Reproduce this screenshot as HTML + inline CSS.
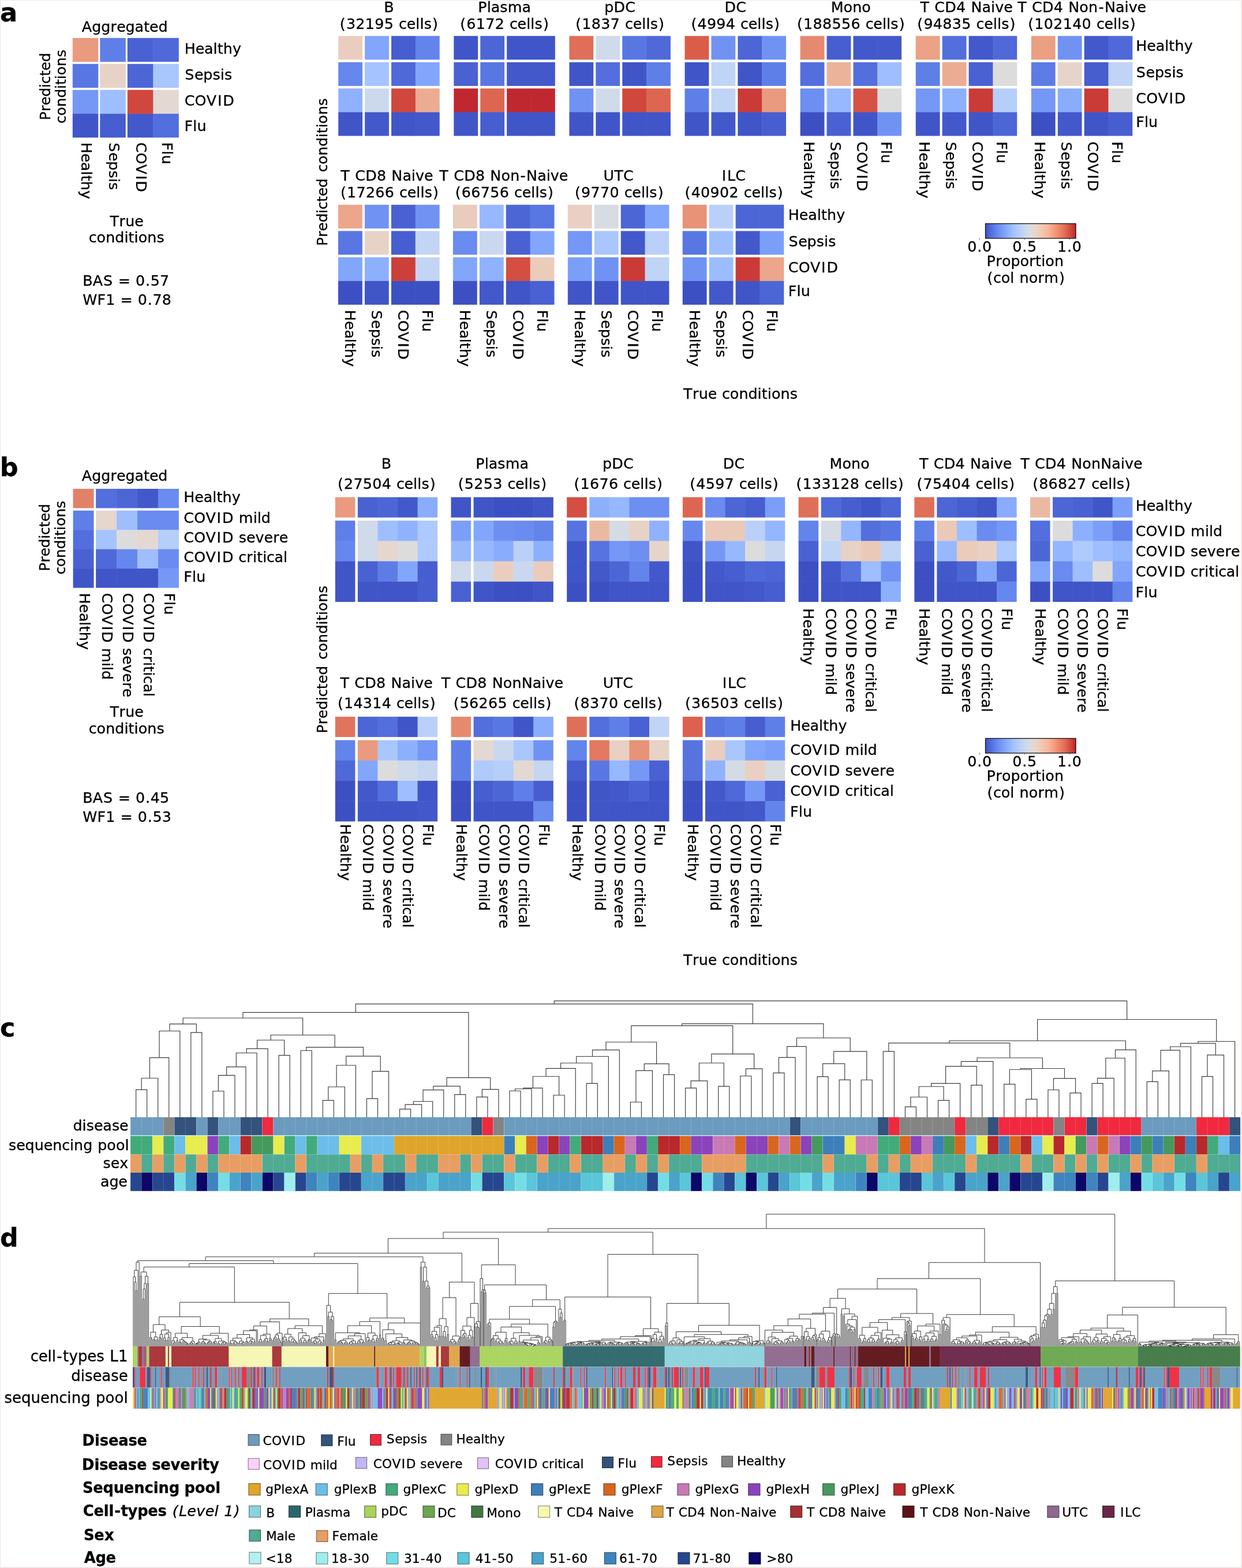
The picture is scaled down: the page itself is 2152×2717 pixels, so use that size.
<!DOCTYPE html>
<html lang="en">
<head>
<meta charset="utf-8">
<title>Figure: condition prediction confusion matrices and sample clustering</title>
<style>
html,body{margin:0;padding:0;background:#fff;}
body{width:2152px;height:2717px;overflow:hidden;}
svg{display:block;font-family:'DejaVu Sans', 'Liberation Sans', sans-serif;}
svg text{white-space:pre;stroke:#000;stroke-width:0.3px;}
</style>
</head>
<body>
<svg width="2152" height="2717" viewBox="0 0 2152 2717">
<defs><linearGradient id="cw" x1="0" x2="1" y1="0" y2="0"><stop offset="0" stop-color="#3e51c5"/><stop offset="0.06" stop-color="#516ddb"/><stop offset="0.12" stop-color="#6485ec"/><stop offset="0.19" stop-color="#799cf8"/><stop offset="0.25" stop-color="#8db0fe"/><stop offset="0.31" stop-color="#a3c2fe"/><stop offset="0.38" stop-color="#b7cff9"/><stop offset="0.44" stop-color="#cad8ef"/><stop offset="0.5" stop-color="#dbdcde"/><stop offset="0.56" stop-color="#ead5c9"/><stop offset="0.62" stop-color="#f3c8b2"/><stop offset="0.69" stop-color="#f7b79b"/><stop offset="0.75" stop-color="#f5a081"/><stop offset="0.81" stop-color="#ef886b"/><stop offset="0.88" stop-color="#e36c55"/><stop offset="0.94" stop-color="#d24b40"/><stop offset="1" stop-color="#be242e"/></linearGradient></defs>
<rect x="0" y="0" width="2152" height="2717" fill="#fff"/>
<text font-size="44.8" x="0.05" y="37.15" font-weight="bold">a</text>
<rect x="125.8" y="65.8" width="44.5" height="41.3" fill="#ea9a7e"/>
<rect x="173.3" y="65.8" width="44.5" height="41.3" fill="#5f7fe8"/>
<rect x="220.8" y="65.8" width="45.1" height="41.3" fill="#4961d2"/>
<rect x="265.3" y="65.8" width="44.5" height="41.3" fill="#4f69d9"/>
<rect x="125.8" y="110.8" width="44.5" height="41.3" fill="#5977e3"/>
<rect x="173.3" y="110.8" width="44.5" height="41.3" fill="#e7d2c6"/>
<rect x="220.8" y="110.8" width="45.1" height="41.3" fill="#4c66d6"/>
<rect x="265.3" y="110.8" width="44.5" height="41.3" fill="#a9c6fd"/>
<rect x="125.8" y="155.8" width="44.5" height="41.9" fill="#7597f6"/>
<rect x="173.3" y="155.8" width="44.5" height="41.9" fill="#9ebeff"/>
<rect x="220.8" y="155.8" width="45.1" height="41.9" fill="#d0473d"/>
<rect x="265.3" y="155.8" width="44.5" height="41.9" fill="#e3d9d2"/>
<rect x="125.8" y="197.1" width="44.5" height="41.3" fill="#4055c8"/>
<rect x="173.3" y="197.1" width="44.5" height="41.3" fill="#465ecf"/>
<rect x="220.8" y="197.1" width="45.1" height="41.3" fill="#4358cb"/>
<rect x="265.3" y="197.1" width="44.5" height="41.3" fill="#536edd"/>
<text font-size="25.31" x="141.83 159.25 175.26 191.58 202.14 217.56 233.57 249.15 259.04 274.46" y="54.7">Aggregated</text>
<text font-size="25.31" x="319.63 338.67 354.08 369.57 376.71 386.84 403.12" y="93.1">Healthy</text>
<text font-size="25.31" x="320.26 336.95 352.37 368.51 381.8 388.94" y="137.6">Sepsis</text>
<text font-size="25.31" x="319.63 337.59 357.8 376.92 386.22" y="182.9">COVID</text>
<text font-size="25.31" x="319.61 334.28 341.43" y="227.4">Flu</text>
<text transform="translate(141.05 246.5) rotate(90)" font-size="25.31" x="0.13 19.17 34.58 50.07 57.21 67.34 83.62" y="0">Healthy</text>
<text transform="translate(188.55 246.5) rotate(90)" font-size="25.31" x="0.76 17.45 32.87 49.01 62.3 69.44" y="0">Sepsis</text>
<text transform="translate(236.05 246.5) rotate(90)" font-size="25.31" x="0.13 18.09 38.3 57.42 66.72" y="0">COVID</text>
<text transform="translate(280.55 246.5) rotate(90)" font-size="25.31" x="0.11 14.78 21.93" y="0">Flu</text>
<text transform="translate(86.7 149.9) rotate(-90)" font-size="24.72" x="-58.33 -43.03 -32.72 -17.66 -1.99 4.62 18.06 27.72 42.78" y="0">Predicted</text>
<text transform="translate(114.4 149.9) rotate(-90)" font-size="24.72" x="-64.1 -50.71 -35.42 -19.67 -4 2.97 12.77 19.7 34.99 50.86" y="0">conditions</text>
<text font-size="25.31" x="190.49 206.42 217.22 233.25" y="392.4">True</text>
<text font-size="25.31" x="153.87 167.58 183.23 199.36 215.41 222.54 232.57 239.67 255.32 271.58" y="420.1">conditions</text>
<text font-size="25.31" x="143.13 160.76 178.96 196.29 204.74 226.36 235.02 251.9 260.72 277.07" y="494.9">BAS = 0.57</text>
<text font-size="25.31" x="143.19 168.53 183.31 200.04 208.49 230.11 238.78 255.65 264.48 280.82" y="528.1">WF1 = 0.78</text>
<rect x="586.2" y="62.3" width="41.83" height="41.1" fill="#eacdbf"/>
<rect x="632.13" y="62.3" width="41.83" height="41.1" fill="#82a6fb"/>
<rect x="678.05" y="62.3" width="42.43" height="41.1" fill="#465ecf"/>
<rect x="719.88" y="62.3" width="41.83" height="41.1" fill="#6384eb"/>
<rect x="586.2" y="107.8" width="41.83" height="41.1" fill="#6687ed"/>
<rect x="632.13" y="107.8" width="41.83" height="41.1" fill="#a5c3fe"/>
<rect x="678.05" y="107.8" width="42.43" height="41.1" fill="#4f69d9"/>
<rect x="719.88" y="107.8" width="41.83" height="41.1" fill="#82a6fb"/>
<rect x="586.2" y="153.3" width="41.83" height="41.7" fill="#90b2fe"/>
<rect x="632.13" y="153.3" width="41.83" height="41.7" fill="#ccd9ed"/>
<rect x="678.05" y="153.3" width="42.43" height="41.7" fill="#d0473d"/>
<rect x="719.88" y="153.3" width="41.83" height="41.7" fill="#ecac93"/>
<rect x="586.2" y="194.4" width="41.83" height="41.1" fill="#4055c8"/>
<rect x="632.13" y="194.4" width="41.83" height="41.1" fill="#4358cb"/>
<rect x="678.05" y="194.4" width="42.43" height="41.1" fill="#4055c8"/>
<rect x="719.88" y="194.4" width="41.83" height="41.1" fill="#4358cb"/>
<text font-size="25.31" x="665.27" y="20.6">B</text>
<text font-size="25.31" x="588.87 599.89 616.36 632.83 649.31 665.78 682.64 691.05 704.7 720.28 727.45 734.72 749.03" y="50.1">(32195 cells)</text>
<rect x="786.3" y="62.3" width="41.83" height="41.1" fill="#4055c8"/>
<rect x="832.23" y="62.3" width="41.83" height="41.1" fill="#4c66d6"/>
<rect x="878.15" y="62.3" width="42.43" height="41.1" fill="#4055c8"/>
<rect x="919.98" y="62.3" width="41.83" height="41.1" fill="#4055c8"/>
<rect x="786.3" y="107.8" width="41.83" height="41.1" fill="#4961d2"/>
<rect x="832.23" y="107.8" width="41.83" height="41.1" fill="#5977e3"/>
<rect x="878.15" y="107.8" width="42.43" height="41.1" fill="#4358cb"/>
<rect x="919.98" y="107.8" width="41.83" height="41.1" fill="#4358cb"/>
<rect x="786.3" y="153.3" width="41.83" height="41.7" fill="#c0282f"/>
<rect x="832.23" y="153.3" width="41.83" height="41.7" fill="#dd6651"/>
<rect x="878.15" y="153.3" width="42.43" height="41.7" fill="#c0282f"/>
<rect x="919.98" y="153.3" width="41.83" height="41.7" fill="#c0282f"/>
<rect x="786.3" y="194.4" width="41.83" height="41.1" fill="#4055c8"/>
<rect x="832.23" y="194.4" width="41.83" height="41.1" fill="#465ecf"/>
<rect x="878.15" y="194.4" width="42.43" height="41.1" fill="#4055c8"/>
<rect x="919.98" y="194.4" width="41.83" height="41.1" fill="#4055c8"/>
<text font-size="25.31" x="828.25 843.64 850.64 866.22 879.68 904.48" y="20.6">Plasma</text>
<text font-size="25.31" x="797.2 808.22 824.7 841.17 857.64 874.5 882.91 896.56 912.14 919.31 926.58 940.89" y="50.1">(6172 cells)</text>
<rect x="986.4" y="62.3" width="41.83" height="41.1" fill="#df6f58"/>
<rect x="1032.33" y="62.3" width="41.83" height="41.1" fill="#cfdaea"/>
<rect x="1078.25" y="62.3" width="42.43" height="41.1" fill="#5977e3"/>
<rect x="1120.08" y="62.3" width="41.83" height="41.1" fill="#4f69d9"/>
<rect x="986.4" y="107.8" width="41.83" height="41.1" fill="#4055c8"/>
<rect x="1032.33" y="107.8" width="41.83" height="41.1" fill="#536edd"/>
<rect x="1078.25" y="107.8" width="42.43" height="41.1" fill="#4055c8"/>
<rect x="1120.08" y="107.8" width="41.83" height="41.1" fill="#5f7fe8"/>
<rect x="986.4" y="153.3" width="41.83" height="41.7" fill="#7093f3"/>
<rect x="1032.33" y="153.3" width="41.83" height="41.7" fill="#cfdaea"/>
<rect x="1078.25" y="153.3" width="42.43" height="41.7" fill="#d0473d"/>
<rect x="1120.08" y="153.3" width="41.83" height="41.7" fill="#dd6651"/>
<rect x="986.4" y="194.4" width="41.83" height="41.1" fill="#4055c8"/>
<rect x="1032.33" y="194.4" width="41.83" height="41.1" fill="#4055c8"/>
<rect x="1078.25" y="194.4" width="42.43" height="41.1" fill="#4055c8"/>
<rect x="1120.08" y="194.4" width="41.83" height="41.1" fill="#4055c8"/>
<text font-size="25.31" x="1047.24 1063.44 1083.23" y="20.6">pDC</text>
<text font-size="25.31" x="997.3 1008.32 1024.8 1041.27 1057.74 1074.6 1083.01 1096.66 1112.24 1119.41 1126.68 1140.99" y="50.1">(1837 cells)</text>
<rect x="1186.5" y="62.3" width="41.83" height="41.1" fill="#da5d4a"/>
<rect x="1232.42" y="62.3" width="41.83" height="41.1" fill="#7093f3"/>
<rect x="1278.35" y="62.3" width="42.43" height="41.1" fill="#4c66d6"/>
<rect x="1320.17" y="62.3" width="41.83" height="41.1" fill="#7093f3"/>
<rect x="1186.5" y="107.8" width="41.83" height="41.1" fill="#4055c8"/>
<rect x="1232.42" y="107.8" width="41.83" height="41.1" fill="#c0d4f5"/>
<rect x="1278.35" y="107.8" width="42.43" height="41.1" fill="#4055c8"/>
<rect x="1320.17" y="107.8" width="41.83" height="41.1" fill="#5f7fe8"/>
<rect x="1186.5" y="153.3" width="41.83" height="41.7" fill="#5f7fe8"/>
<rect x="1232.42" y="153.3" width="41.83" height="41.7" fill="#c0d4f5"/>
<rect x="1278.35" y="153.3" width="42.43" height="41.7" fill="#ca3b37"/>
<rect x="1320.17" y="153.3" width="41.83" height="41.7" fill="#ea9a7e"/>
<rect x="1186.5" y="194.4" width="41.83" height="41.1" fill="#4055c8"/>
<rect x="1232.42" y="194.4" width="41.83" height="41.1" fill="#4358cb"/>
<rect x="1278.35" y="194.4" width="42.43" height="41.1" fill="#4055c8"/>
<rect x="1320.17" y="194.4" width="41.83" height="41.1" fill="#465ecf"/>
<text font-size="25.31" x="1255.53 1275.32" y="20.6">DC</text>
<text font-size="25.31" x="1197.4 1208.42 1224.9 1241.37 1257.84 1274.7 1283.11 1296.76 1312.34 1319.51 1326.78 1341.09" y="50.1">(4994 cells)</text>
<rect x="1386.6" y="62.3" width="41.83" height="41.1" fill="#e68a6f"/>
<rect x="1432.52" y="62.3" width="41.83" height="41.1" fill="#465ecf"/>
<rect x="1478.45" y="62.3" width="42.43" height="41.1" fill="#4358cb"/>
<rect x="1520.27" y="62.3" width="41.83" height="41.1" fill="#4358cb"/>
<rect x="1386.6" y="107.8" width="41.83" height="41.1" fill="#536edd"/>
<rect x="1432.52" y="107.8" width="41.83" height="41.1" fill="#ecb39b"/>
<rect x="1478.45" y="107.8" width="42.43" height="41.1" fill="#536edd"/>
<rect x="1520.27" y="107.8" width="41.83" height="41.1" fill="#9ebeff"/>
<rect x="1386.6" y="153.3" width="41.83" height="41.7" fill="#6c8ff1"/>
<rect x="1432.52" y="153.3" width="41.83" height="41.7" fill="#97b8ff"/>
<rect x="1478.45" y="153.3" width="42.43" height="41.7" fill="#d65244"/>
<rect x="1520.27" y="153.3" width="41.83" height="41.7" fill="#dddcdc"/>
<rect x="1386.6" y="194.4" width="41.83" height="41.1" fill="#3d50c3"/>
<rect x="1432.52" y="194.4" width="41.83" height="41.1" fill="#4961d2"/>
<rect x="1478.45" y="194.4" width="42.43" height="41.1" fill="#4055c8"/>
<rect x="1520.27" y="194.4" width="41.83" height="41.1" fill="#7093f3"/>
<text font-size="25.31" x="1439.7 1461.5 1477.16 1493.37" y="20.6">Mono</text>
<text font-size="25.31" x="1381.03 1392.05 1408.52 1425 1441.47 1457.94 1474.42 1491.27 1499.68 1513.34 1528.92 1536.09 1543.35 1557.67" y="50.1">(188556 cells)</text>
<text transform="translate(1393.11 245.1) rotate(90)" font-size="25.31" x="0.13 19.17 34.58 50.07 57.21 67.34 83.62" y="0">Healthy</text>
<text transform="translate(1439.04 245.1) rotate(90)" font-size="25.31" x="0.76 17.45 32.87 49.01 62.3 69.44" y="0">Sepsis</text>
<text transform="translate(1484.96 245.1) rotate(90)" font-size="25.31" x="0.13 18.09 38.3 57.42 66.72" y="0">COVID</text>
<text transform="translate(1526.79 245.1) rotate(90)" font-size="25.31" x="0.11 14.78 21.93" y="0">Flu</text>
<rect x="1586.7" y="62.3" width="41.83" height="41.1" fill="#eba286"/>
<rect x="1632.62" y="62.3" width="41.83" height="41.1" fill="#536edd"/>
<rect x="1678.55" y="62.3" width="42.43" height="41.1" fill="#4358cb"/>
<rect x="1720.38" y="62.3" width="41.83" height="41.1" fill="#4f69d9"/>
<rect x="1586.7" y="107.8" width="41.83" height="41.1" fill="#5f7fe8"/>
<rect x="1632.62" y="107.8" width="41.83" height="41.1" fill="#ecac93"/>
<rect x="1678.55" y="107.8" width="42.43" height="41.1" fill="#4961d2"/>
<rect x="1720.38" y="107.8" width="41.83" height="41.1" fill="#dddcdc"/>
<rect x="1586.7" y="153.3" width="41.83" height="41.7" fill="#7597f6"/>
<rect x="1632.62" y="153.3" width="41.83" height="41.7" fill="#8db0fe"/>
<rect x="1678.55" y="153.3" width="42.43" height="41.7" fill="#ca3b37"/>
<rect x="1720.38" y="153.3" width="41.83" height="41.7" fill="#b6cefa"/>
<rect x="1586.7" y="194.4" width="41.83" height="41.1" fill="#4055c8"/>
<rect x="1632.62" y="194.4" width="41.83" height="41.1" fill="#4358cb"/>
<rect x="1678.55" y="194.4" width="42.43" height="41.1" fill="#4055c8"/>
<rect x="1720.38" y="194.4" width="41.83" height="41.1" fill="#4c66d6"/>
<text font-size="25.31" x="1594.5 1610.65 1619.33 1637.29 1657.07 1673.79 1682.48 1701.53 1717.01 1724.17 1739.14" y="20.6">T CD4 Naive</text>
<text font-size="25.31" x="1589.37 1600.39 1616.86 1633.33 1649.81 1666.28 1683.14 1691.55 1705.2 1720.78 1727.95 1735.22 1749.53" y="50.1">(94835 cells)</text>
<text transform="translate(1593.21 245.1) rotate(90)" font-size="25.31" x="0.13 19.17 34.58 50.07 57.21 67.34 83.62" y="0">Healthy</text>
<text transform="translate(1639.14 245.1) rotate(90)" font-size="25.31" x="0.76 17.45 32.87 49.01 62.3 69.44" y="0">Sepsis</text>
<text transform="translate(1685.06 245.1) rotate(90)" font-size="25.31" x="0.13 18.09 38.3 57.42 66.72" y="0">COVID</text>
<text transform="translate(1726.89 245.1) rotate(90)" font-size="25.31" x="0.11 14.78 21.93" y="0">Flu</text>
<rect x="1786.8" y="62.3" width="41.83" height="41.1" fill="#eb9f83"/>
<rect x="1832.72" y="62.3" width="41.83" height="41.1" fill="#7093f3"/>
<rect x="1878.65" y="62.3" width="42.43" height="41.1" fill="#4358cb"/>
<rect x="1920.47" y="62.3" width="41.83" height="41.1" fill="#4f69d9"/>
<rect x="1786.8" y="107.8" width="41.83" height="41.1" fill="#5d7ce6"/>
<rect x="1832.72" y="107.8" width="41.83" height="41.1" fill="#e6d4cb"/>
<rect x="1878.65" y="107.8" width="42.43" height="41.1" fill="#465ecf"/>
<rect x="1920.47" y="107.8" width="41.83" height="41.1" fill="#c0d4f5"/>
<rect x="1786.8" y="153.3" width="41.83" height="41.7" fill="#7597f6"/>
<rect x="1832.72" y="153.3" width="41.83" height="41.7" fill="#89acfd"/>
<rect x="1878.65" y="153.3" width="42.43" height="41.7" fill="#ca3b37"/>
<rect x="1920.47" y="153.3" width="41.83" height="41.7" fill="#dddcdc"/>
<rect x="1786.8" y="194.4" width="41.83" height="41.1" fill="#3d50c3"/>
<rect x="1832.72" y="194.4" width="41.83" height="41.1" fill="#4358cb"/>
<rect x="1878.65" y="194.4" width="42.43" height="41.1" fill="#4055c8"/>
<rect x="1920.47" y="194.4" width="41.83" height="41.1" fill="#465ecf"/>
<text font-size="25.31" x="1763.22 1779.37 1788.05 1806.01 1825.79 1842.51 1851.2 1870.34 1886 1903.42 1913.96 1933.01 1948.49 1955.65 1970.62" y="20.6">T CD4 Non-Naive</text>
<text font-size="25.31" x="1781.23 1792.25 1808.72 1825.2 1841.67 1858.14 1874.62 1891.47 1899.88 1913.54 1929.12 1936.29 1943.55 1957.87" y="50.1">(102140 cells)</text>
<text transform="translate(1793.31 245.1) rotate(90)" font-size="25.31" x="0.13 19.17 34.58 50.07 57.21 67.34 83.62" y="0">Healthy</text>
<text transform="translate(1839.24 245.1) rotate(90)" font-size="25.31" x="0.76 17.45 32.87 49.01 62.3 69.44" y="0">Sepsis</text>
<text transform="translate(1885.16 245.1) rotate(90)" font-size="25.31" x="0.13 18.09 38.3 57.42 66.72" y="0">COVID</text>
<text transform="translate(1926.99 245.1) rotate(90)" font-size="25.31" x="0.11 14.78 21.93" y="0">Flu</text>
<text font-size="25.31" x="1968.23 1987.27 2002.68 2018.17 2025.31 2035.44 2051.72" y="88.05">Healthy</text>
<text font-size="25.31" x="1968.86 1985.55 2000.97 2017.11 2030.4 2037.54" y="133.55">Sepsis</text>
<text font-size="25.31" x="1968.23 1986.19 2006.4 2025.52 2034.82" y="179.05">COVID</text>
<text font-size="25.31" x="1968.21 1982.88 1990.03" y="220.15">Flu</text>
<rect x="586" y="354.8" width="41.85" height="41.1" fill="#eca68b"/>
<rect x="631.95" y="354.8" width="41.85" height="41.1" fill="#7093f3"/>
<rect x="677.9" y="354.8" width="42.45" height="41.1" fill="#4961d2"/>
<rect x="719.75" y="354.8" width="41.85" height="41.1" fill="#7093f3"/>
<rect x="586" y="400.3" width="41.85" height="41.1" fill="#5977e3"/>
<rect x="631.95" y="400.3" width="41.85" height="41.1" fill="#e7d2c6"/>
<rect x="677.9" y="400.3" width="42.45" height="41.1" fill="#465ecf"/>
<rect x="719.75" y="400.3" width="41.85" height="41.1" fill="#c3d5f4"/>
<rect x="586" y="445.8" width="41.85" height="41.7" fill="#82a6fb"/>
<rect x="631.95" y="445.8" width="41.85" height="41.7" fill="#8db0fe"/>
<rect x="677.9" y="445.8" width="42.45" height="41.7" fill="#cc403a"/>
<rect x="719.75" y="445.8" width="41.85" height="41.7" fill="#c3d5f4"/>
<rect x="586" y="486.9" width="41.85" height="41.1" fill="#3d50c3"/>
<rect x="631.95" y="486.9" width="41.85" height="41.1" fill="#4055c8"/>
<rect x="677.9" y="486.9" width="42.45" height="41.1" fill="#3d50c3"/>
<rect x="719.75" y="486.9" width="41.85" height="41.1" fill="#3d50c3"/>
<text font-size="25.31" x="590.35 606.5 615.18 633.14 652.92 669.64 678.33 697.38 712.86 720.02 734.99" y="312.6">T CD8 Naive</text>
<text font-size="25.31" x="589.92 600.94 617.41 633.88 650.36 666.83 683.69 692.1 705.75 721.33 728.5 735.77 750.08" y="342.4">(17266 cells)</text>
<text transform="translate(598.42 536.8) rotate(90)" font-size="25.31" x="0.13 19.17 34.58 50.07 57.21 67.34 83.62" y="0">Healthy</text>
<text transform="translate(644.38 536.8) rotate(90)" font-size="25.31" x="0.76 17.45 32.87 49.01 62.3 69.44" y="0">Sepsis</text>
<text transform="translate(690.33 536.8) rotate(90)" font-size="25.31" x="0.13 18.09 38.3 57.42 66.72" y="0">COVID</text>
<text transform="translate(732.18 536.8) rotate(90)" font-size="25.31" x="0.11 14.78 21.93" y="0">Flu</text>
<rect x="784.9" y="354.8" width="41.85" height="41.1" fill="#e9ccbd"/>
<rect x="830.85" y="354.8" width="41.85" height="41.1" fill="#97b8ff"/>
<rect x="876.8" y="354.8" width="42.45" height="41.1" fill="#4c66d6"/>
<rect x="918.65" y="354.8" width="41.85" height="41.1" fill="#5977e3"/>
<rect x="784.9" y="400.3" width="41.85" height="41.1" fill="#6a8bef"/>
<rect x="830.85" y="400.3" width="41.85" height="41.1" fill="#cad8ef"/>
<rect x="876.8" y="400.3" width="42.45" height="41.1" fill="#4961d2"/>
<rect x="918.65" y="400.3" width="41.85" height="41.1" fill="#82a6fb"/>
<rect x="784.9" y="445.8" width="41.85" height="41.7" fill="#82a6fb"/>
<rect x="830.85" y="445.8" width="41.85" height="41.7" fill="#90b2fe"/>
<rect x="876.8" y="445.8" width="42.45" height="41.7" fill="#d44e41"/>
<rect x="918.65" y="445.8" width="41.85" height="41.7" fill="#ebcbba"/>
<rect x="784.9" y="486.9" width="41.85" height="41.1" fill="#3d50c3"/>
<rect x="830.85" y="486.9" width="41.85" height="41.1" fill="#4358cb"/>
<rect x="876.8" y="486.9" width="42.45" height="41.1" fill="#4055c8"/>
<rect x="918.65" y="486.9" width="41.85" height="41.1" fill="#4961d2"/>
<text font-size="25.31" x="761.37 777.52 786.2 804.16 823.94 840.66 849.35 868.49 884.15 901.57 912.11 931.16 946.64 953.8 968.77" y="312.6">T CD8 Non-Naive</text>
<text font-size="25.31" x="788.82 799.84 816.31 832.78 849.26 865.73 882.59 891 904.65 920.23 927.4 934.67 948.98" y="342.4">(66756 cells)</text>
<text transform="translate(797.33 536.8) rotate(90)" font-size="25.31" x="0.13 19.17 34.58 50.07 57.21 67.34 83.62" y="0">Healthy</text>
<text transform="translate(843.28 536.8) rotate(90)" font-size="25.31" x="0.76 17.45 32.87 49.01 62.3 69.44" y="0">Sepsis</text>
<text transform="translate(889.23 536.8) rotate(90)" font-size="25.31" x="0.13 18.09 38.3 57.42 66.72" y="0">COVID</text>
<text transform="translate(931.08 536.8) rotate(90)" font-size="25.31" x="0.11 14.78 21.93" y="0">Flu</text>
<rect x="983.8" y="354.8" width="41.85" height="41.1" fill="#e9d0c3"/>
<rect x="1029.75" y="354.8" width="41.85" height="41.1" fill="#d7dce3"/>
<rect x="1075.7" y="354.8" width="42.45" height="41.1" fill="#4c66d6"/>
<rect x="1117.55" y="354.8" width="41.85" height="41.1" fill="#82a6fb"/>
<rect x="983.8" y="400.3" width="41.85" height="41.1" fill="#7597f6"/>
<rect x="1029.75" y="400.3" width="41.85" height="41.1" fill="#a9c6fd"/>
<rect x="1075.7" y="400.3" width="42.45" height="41.1" fill="#4358cb"/>
<rect x="1117.55" y="400.3" width="41.85" height="41.1" fill="#bad0f8"/>
<rect x="983.8" y="445.8" width="41.85" height="41.7" fill="#7b9ff9"/>
<rect x="1029.75" y="445.8" width="41.85" height="41.7" fill="#7093f3"/>
<rect x="1075.7" y="445.8" width="42.45" height="41.7" fill="#ca3b37"/>
<rect x="1117.55" y="445.8" width="41.85" height="41.7" fill="#c0d4f5"/>
<rect x="983.8" y="486.9" width="41.85" height="41.1" fill="#4055c8"/>
<rect x="1029.75" y="486.9" width="41.85" height="41.1" fill="#4055c8"/>
<rect x="1075.7" y="486.9" width="42.45" height="41.1" fill="#4055c8"/>
<rect x="1117.55" y="486.9" width="41.85" height="41.1" fill="#4055c8"/>
<text font-size="25.31" x="1045.45 1064.31 1080.08" y="312.6">UTC</text>
<text font-size="25.31" x="995.95 1006.97 1023.45 1039.92 1056.39 1073.25 1081.66 1095.31 1110.89 1118.06 1125.33 1139.64" y="342.4">(9770 cells)</text>
<text transform="translate(996.22 536.8) rotate(90)" font-size="25.31" x="0.13 19.17 34.58 50.07 57.21 67.34 83.62" y="0">Healthy</text>
<text transform="translate(1042.17 536.8) rotate(90)" font-size="25.31" x="0.76 17.45 32.87 49.01 62.3 69.44" y="0">Sepsis</text>
<text transform="translate(1088.12 536.8) rotate(90)" font-size="25.31" x="0.13 18.09 38.3 57.42 66.72" y="0">COVID</text>
<text transform="translate(1129.97 536.8) rotate(90)" font-size="25.31" x="0.11 14.78 21.93" y="0">Flu</text>
<rect x="1182.7" y="354.8" width="41.85" height="41.1" fill="#e89277"/>
<rect x="1228.65" y="354.8" width="41.85" height="41.1" fill="#bad0f8"/>
<rect x="1274.6" y="354.8" width="42.45" height="41.1" fill="#4c66d6"/>
<rect x="1316.45" y="354.8" width="41.85" height="41.1" fill="#4c66d6"/>
<rect x="1182.7" y="400.3" width="41.85" height="41.1" fill="#5977e3"/>
<rect x="1228.65" y="400.3" width="41.85" height="41.1" fill="#9ebeff"/>
<rect x="1274.6" y="400.3" width="42.45" height="41.1" fill="#4358cb"/>
<rect x="1316.45" y="400.3" width="41.85" height="41.1" fill="#7b9ff9"/>
<rect x="1182.7" y="445.8" width="41.85" height="41.7" fill="#7093f3"/>
<rect x="1228.65" y="445.8" width="41.85" height="41.7" fill="#9bbcff"/>
<rect x="1274.6" y="445.8" width="42.45" height="41.7" fill="#ca3b37"/>
<rect x="1316.45" y="445.8" width="41.85" height="41.7" fill="#eca68b"/>
<rect x="1182.7" y="486.9" width="41.85" height="41.1" fill="#3d50c3"/>
<rect x="1228.65" y="486.9" width="41.85" height="41.1" fill="#4358cb"/>
<rect x="1274.6" y="486.9" width="42.45" height="41.1" fill="#4055c8"/>
<rect x="1316.45" y="486.9" width="41.85" height="41.1" fill="#4c66d6"/>
<text font-size="25.31" x="1250.64 1259.89 1274.23" y="312.6">ILC</text>
<text font-size="25.31" x="1186.62 1197.64 1214.11 1230.58 1247.06 1263.53 1280.39 1288.8 1302.45 1318.03 1325.2 1332.47 1346.78" y="342.4">(40902 cells)</text>
<text transform="translate(1195.12 536.8) rotate(90)" font-size="25.31" x="0.13 19.17 34.58 50.07 57.21 67.34 83.62" y="0">Healthy</text>
<text transform="translate(1241.07 536.8) rotate(90)" font-size="25.31" x="0.76 17.45 32.87 49.01 62.3 69.44" y="0">Sepsis</text>
<text transform="translate(1287.02 536.8) rotate(90)" font-size="25.31" x="0.13 18.09 38.3 57.42 66.72" y="0">COVID</text>
<text transform="translate(1328.87 536.8) rotate(90)" font-size="25.31" x="0.11 14.78 21.93" y="0">Flu</text>
<text font-size="25.31" x="1365.83 1384.87 1400.28 1415.77 1422.91 1433.04 1449.32" y="381.05">Healthy</text>
<text font-size="25.31" x="1366.46 1383.15 1398.57 1414.71 1428 1435.14" y="426.55">Sepsis</text>
<text font-size="25.31" x="1365.83 1383.79 1404 1423.12 1432.42" y="472.05">COVID</text>
<text font-size="25.31" x="1365.81 1380.48 1387.63" y="513.15">Flu</text>
<text transform="translate(567.1 298.2) rotate(-90)" font-size="24.72" x="-127.85 -112.55 -102.23 -87.18 -71.51 -64.89 -51.46 -41.79 -26.73 -10.58 0.02 13.41 28.7 44.45 60.12 67.09 76.89 83.81 99.1 114.98" y="0">Predicted conditions</text>
<text font-size="25.31" x="1184.1 1200.03 1210.83 1226.86 1242.8 1251.09 1264.8 1280.45 1296.58 1312.62 1319.76 1329.79 1336.88 1352.54 1368.8" y="691">True conditions</text>
<rect x="1707.5" y="387.5" width="156.5" height="25.5" fill="url(#cw)" stroke="#111" stroke-width="1.3"/>
<text font-size="25.31" x="1676.3 1693.18 1702" y="436">0.0</text>
<text font-size="25.31" x="1754.3 1771.18 1780" y="436">0.5</text>
<text font-size="25.31" x="1832.1 1848.98 1857.8" y="436">1.0</text>
<path d="M1697.2 412.3V415.6M1775.2 413.2V415.6M1853.2 413.2V415.6" stroke="#444" stroke-width="0.9" fill="none"/>
<text font-size="25.31" x="1709.47 1725.13 1735.88 1751.4 1767.49 1783.32 1794.11 1804.14 1811.23 1826.89" y="461">Proportion</text>
<text font-size="25.31" x="1710.47 1720.97 1734.68 1750.23 1757.77 1766.43 1782.64 1798.47 1809.33 1835.06" y="490.3">(col norm)</text>
<text font-size="44.5" x="-0.17" y="824.6" font-weight="bold">b</text>
<rect x="126.6" y="847" width="35.94" height="33.48" fill="#e38168"/>
<rect x="166.14" y="847" width="36.54" height="33.48" fill="#536edd"/>
<rect x="202.08" y="847" width="36.54" height="33.48" fill="#4c66d6"/>
<rect x="238.02" y="847" width="36.54" height="33.48" fill="#4358cb"/>
<rect x="273.96" y="847" width="35.94" height="33.48" fill="#6a8bef"/>
<rect x="126.6" y="884.68" width="35.94" height="34.08" fill="#5f7fe8"/>
<rect x="166.14" y="884.68" width="36.54" height="34.08" fill="#e5d6ce"/>
<rect x="202.08" y="884.68" width="36.54" height="34.08" fill="#9ebeff"/>
<rect x="238.02" y="884.68" width="36.54" height="34.08" fill="#6a8bef"/>
<rect x="273.96" y="884.68" width="35.94" height="34.08" fill="#6a8bef"/>
<rect x="126.6" y="918.16" width="35.94" height="34.08" fill="#536edd"/>
<rect x="166.14" y="918.16" width="36.54" height="34.08" fill="#a5c3fe"/>
<rect x="202.08" y="918.16" width="36.54" height="34.08" fill="#dddcdc"/>
<rect x="238.02" y="918.16" width="36.54" height="34.08" fill="#e3d9d2"/>
<rect x="273.96" y="918.16" width="35.94" height="34.08" fill="#b6cefa"/>
<rect x="126.6" y="951.64" width="35.94" height="34.08" fill="#4961d2"/>
<rect x="166.14" y="951.64" width="36.54" height="34.08" fill="#4f69d9"/>
<rect x="202.08" y="951.64" width="36.54" height="34.08" fill="#6687ed"/>
<rect x="238.02" y="951.64" width="36.54" height="34.08" fill="#9ebeff"/>
<rect x="273.96" y="951.64" width="35.94" height="34.08" fill="#6a8bef"/>
<rect x="126.6" y="985.12" width="35.94" height="33.48" fill="#4055c8"/>
<rect x="166.14" y="985.12" width="36.54" height="33.48" fill="#4055c8"/>
<rect x="202.08" y="985.12" width="36.54" height="33.48" fill="#4055c8"/>
<rect x="238.02" y="985.12" width="36.54" height="33.48" fill="#4055c8"/>
<rect x="273.96" y="985.12" width="35.94" height="33.48" fill="#7597f6"/>
<text font-size="25.31" x="141.73 159.15 175.16 191.48 202.04 217.46 233.47 249.05 258.94 274.36" y="832.5">Aggregated</text>
<text font-size="25.31" x="318.33 337.37 352.78 368.27 375.41 385.54 401.82" y="870">Healthy</text>
<text font-size="25.31" x="318.33 336.29 356.5 375.62 384.92 405.08 413.8 438.63 445.68 452.68" y="906">COVID mild</text>
<text font-size="25.31" x="318.33 336.29 356.5 375.62 384.92 405.08 413.72 426.89 442.45 457.42 473.15 483.71" y="939.8">COVID severe</text>
<text font-size="25.31" x="318.33 336.29 356.5 375.62 384.92 405.08 413.36 427.3 437.99 445.13 455.16 461.93 475.55 491.04" y="974.1">COVID critical</text>
<text font-size="25.31" x="318.31 332.98 340.13" y="1007.6">Flu</text>
<text transform="translate(137.87 1027.3) rotate(90)" font-size="25.31" x="0.13 19.17 34.58 50.07 57.21 67.34 83.62" y="0">Healthy</text>
<text transform="translate(177.41 1027.3) rotate(90)" font-size="25.31" x="0.13 18.09 38.3 57.42 66.72 86.88 95.6 120.43 127.48 134.48" y="0">COVID mild</text>
<text transform="translate(213.35 1027.3) rotate(90)" font-size="25.31" x="0.13 18.09 38.3 57.42 66.72 86.88 95.52 108.69 124.25 139.22 154.95 165.51" y="0">COVID severe</text>
<text transform="translate(249.29 1027.3) rotate(90)" font-size="25.31" x="0.13 18.09 38.3 57.42 66.72 86.88 95.16 109.1 119.79 126.93 136.96 143.73 157.35 172.84" y="0">COVID critical</text>
<text transform="translate(285.23 1027.3) rotate(90)" font-size="25.31" x="0.11 14.78 21.93" y="0">Flu</text>
<text transform="translate(86 931.5) rotate(-90)" font-size="24.72" x="-58.33 -43.03 -32.72 -17.66 -1.99 4.62 18.06 27.72 42.78" y="0">Predicted</text>
<text transform="translate(113 931.5) rotate(-90)" font-size="24.72" x="-64.1 -50.71 -35.42 -19.67 -4 2.97 12.77 19.7 34.99 50.86" y="0">conditions</text>
<text font-size="25.31" x="190.49 206.42 217.22 233.25" y="1242.1">True</text>
<text font-size="25.31" x="153.87 167.58 183.23 199.36 215.41 222.54 232.57 239.67 255.32 271.58" y="1270.9">conditions</text>
<text font-size="25.31" x="143.13 160.76 178.96 196.29 204.74 226.36 235.02 251.9 260.72 277.07" y="1390.9">BAS = 0.45</text>
<text font-size="25.31" x="143.19 168.53 183.31 200.04 208.49 230.11 238.78 255.65 264.48 280.82" y="1423.6">WF1 = 0.53</text>
<rect x="580.8" y="861.5" width="34.56" height="35.22" fill="#ea9a7e"/>
<rect x="619.86" y="861.5" width="35.16" height="35.22" fill="#4961d2"/>
<rect x="654.42" y="861.5" width="35.16" height="35.22" fill="#4c66d6"/>
<rect x="688.98" y="861.5" width="35.16" height="35.22" fill="#4358cb"/>
<rect x="723.54" y="861.5" width="34.56" height="35.22" fill="#89acfd"/>
<rect x="580.8" y="902.12" width="34.56" height="35.82" fill="#5f7fe8"/>
<rect x="619.86" y="902.12" width="35.16" height="35.82" fill="#cfdaea"/>
<rect x="654.42" y="902.12" width="35.16" height="35.82" fill="#9ebeff"/>
<rect x="688.98" y="902.12" width="35.16" height="35.82" fill="#90b2fe"/>
<rect x="723.54" y="902.12" width="34.56" height="35.82" fill="#adc9fd"/>
<rect x="580.8" y="937.34" width="34.56" height="35.82" fill="#6687ed"/>
<rect x="619.86" y="937.34" width="35.16" height="35.82" fill="#cfdaea"/>
<rect x="654.42" y="937.34" width="35.16" height="35.82" fill="#e5d6ce"/>
<rect x="688.98" y="937.34" width="35.16" height="35.82" fill="#dddcdc"/>
<rect x="723.54" y="937.34" width="34.56" height="35.82" fill="#afcafc"/>
<rect x="580.8" y="972.56" width="34.56" height="35.82" fill="#4055c8"/>
<rect x="619.86" y="972.56" width="35.16" height="35.82" fill="#4961d2"/>
<rect x="654.42" y="972.56" width="35.16" height="35.82" fill="#5d7ce6"/>
<rect x="688.98" y="972.56" width="35.16" height="35.82" fill="#82a6fb"/>
<rect x="723.54" y="972.56" width="34.56" height="35.82" fill="#465ecf"/>
<rect x="580.8" y="1007.78" width="34.56" height="35.22" fill="#4055c8"/>
<rect x="619.86" y="1007.78" width="35.16" height="35.22" fill="#4055c8"/>
<rect x="654.42" y="1007.78" width="35.16" height="35.22" fill="#4055c8"/>
<rect x="688.98" y="1007.78" width="35.16" height="35.22" fill="#4055c8"/>
<rect x="723.54" y="1007.78" width="34.56" height="35.22" fill="#465ecf"/>
<text font-size="25.31" x="660.77" y="812">B</text>
<text font-size="25.31" x="584.93 595.93 612.38 628.82 645.27 661.72 678.55 686.93 700.56 716.11 723.26 730.5 744.79" y="847">(27504 cells)</text>
<rect x="781.5" y="861.5" width="34.56" height="35.22" fill="#4055c8"/>
<rect x="820.56" y="861.5" width="35.16" height="35.22" fill="#4055c8"/>
<rect x="855.12" y="861.5" width="35.16" height="35.22" fill="#3d50c3"/>
<rect x="889.68" y="861.5" width="35.16" height="35.22" fill="#3d50c3"/>
<rect x="924.24" y="861.5" width="34.56" height="35.22" fill="#4055c8"/>
<rect x="781.5" y="902.12" width="34.56" height="35.82" fill="#7b9ff9"/>
<rect x="820.56" y="902.12" width="35.16" height="35.82" fill="#82a6fb"/>
<rect x="855.12" y="902.12" width="35.16" height="35.82" fill="#6c8ff1"/>
<rect x="889.68" y="902.12" width="35.16" height="35.82" fill="#6a8bef"/>
<rect x="924.24" y="902.12" width="34.56" height="35.82" fill="#6384eb"/>
<rect x="781.5" y="937.34" width="34.56" height="35.82" fill="#97b8ff"/>
<rect x="820.56" y="937.34" width="35.16" height="35.82" fill="#97b8ff"/>
<rect x="855.12" y="937.34" width="35.16" height="35.82" fill="#89acfd"/>
<rect x="889.68" y="937.34" width="35.16" height="35.82" fill="#bad0f8"/>
<rect x="924.24" y="937.34" width="34.56" height="35.82" fill="#8db0fe"/>
<rect x="781.5" y="972.56" width="34.56" height="35.82" fill="#cfdaea"/>
<rect x="820.56" y="972.56" width="35.16" height="35.82" fill="#cad8ef"/>
<rect x="855.12" y="972.56" width="35.16" height="35.82" fill="#eacdbf"/>
<rect x="889.68" y="972.56" width="35.16" height="35.82" fill="#cad8ef"/>
<rect x="924.24" y="972.56" width="34.56" height="35.82" fill="#ebcbba"/>
<rect x="781.5" y="1007.78" width="34.56" height="35.22" fill="#4961d2"/>
<rect x="820.56" y="1007.78" width="35.16" height="35.22" fill="#4055c8"/>
<rect x="855.12" y="1007.78" width="35.16" height="35.22" fill="#3d50c3"/>
<rect x="889.68" y="1007.78" width="35.16" height="35.22" fill="#3d50c3"/>
<rect x="924.24" y="1007.78" width="34.56" height="35.22" fill="#4055c8"/>
<text font-size="25.31" x="824.35 839.74 846.74 862.32 875.78 900.58" y="812">Plasma</text>
<text font-size="25.31" x="793.86 804.85 821.3 837.75 854.2 871.02 879.41 893.04 908.59 915.73 922.98 937.26" y="847">(5253 cells)</text>
<rect x="982.2" y="861.5" width="34.56" height="35.22" fill="#d44e41"/>
<rect x="1021.26" y="861.5" width="35.16" height="35.22" fill="#8db0fe"/>
<rect x="1055.82" y="861.5" width="35.16" height="35.22" fill="#97b8ff"/>
<rect x="1090.38" y="861.5" width="35.16" height="35.22" fill="#6c8ff1"/>
<rect x="1124.94" y="861.5" width="34.56" height="35.22" fill="#6c8ff1"/>
<rect x="982.2" y="902.12" width="34.56" height="35.82" fill="#5673e0"/>
<rect x="1021.26" y="902.12" width="35.16" height="35.82" fill="#ebb9a2"/>
<rect x="1055.82" y="902.12" width="35.16" height="35.82" fill="#d5dbe5"/>
<rect x="1090.38" y="902.12" width="35.16" height="35.82" fill="#e7d2c6"/>
<rect x="1124.94" y="902.12" width="34.56" height="35.82" fill="#90b2fe"/>
<rect x="982.2" y="937.34" width="34.56" height="35.82" fill="#4055c8"/>
<rect x="1021.26" y="937.34" width="35.16" height="35.82" fill="#5673e0"/>
<rect x="1055.82" y="937.34" width="35.16" height="35.82" fill="#7597f6"/>
<rect x="1090.38" y="937.34" width="35.16" height="35.82" fill="#6c8ff1"/>
<rect x="1124.94" y="937.34" width="34.56" height="35.82" fill="#e6d4cb"/>
<rect x="982.2" y="972.56" width="34.56" height="35.82" fill="#4055c8"/>
<rect x="1021.26" y="972.56" width="35.16" height="35.82" fill="#4358cb"/>
<rect x="1055.82" y="972.56" width="35.16" height="35.82" fill="#4c66d6"/>
<rect x="1090.38" y="972.56" width="35.16" height="35.82" fill="#6384eb"/>
<rect x="1124.94" y="972.56" width="34.56" height="35.82" fill="#4358cb"/>
<rect x="982.2" y="1007.78" width="34.56" height="35.22" fill="#3d50c3"/>
<rect x="1021.26" y="1007.78" width="35.16" height="35.22" fill="#3d50c3"/>
<rect x="1055.82" y="1007.78" width="35.16" height="35.22" fill="#4055c8"/>
<rect x="1090.38" y="1007.78" width="35.16" height="35.22" fill="#4055c8"/>
<rect x="1124.94" y="1007.78" width="34.56" height="35.22" fill="#4055c8"/>
<text font-size="25.31" x="1043.94 1060.14 1079.93" y="812">pDC</text>
<text font-size="25.31" x="994.56 1005.55 1022 1038.45 1054.9 1071.72 1080.11 1093.74 1109.29 1116.43 1123.68 1137.96" y="847">(1676 cells)</text>
<rect x="1182.9" y="861.5" width="34.56" height="35.22" fill="#dd6651"/>
<rect x="1221.96" y="861.5" width="35.16" height="35.22" fill="#6a8bef"/>
<rect x="1256.52" y="861.5" width="35.16" height="35.22" fill="#4c66d6"/>
<rect x="1291.08" y="861.5" width="35.16" height="35.22" fill="#465ecf"/>
<rect x="1325.64" y="861.5" width="34.56" height="35.22" fill="#7b9ff9"/>
<rect x="1182.9" y="902.12" width="34.56" height="35.82" fill="#6687ed"/>
<rect x="1221.96" y="902.12" width="35.16" height="35.82" fill="#eac9b8"/>
<rect x="1256.52" y="902.12" width="35.16" height="35.82" fill="#eac9b8"/>
<rect x="1291.08" y="902.12" width="35.16" height="35.82" fill="#bad0f8"/>
<rect x="1325.64" y="902.12" width="34.56" height="35.82" fill="#94b6ff"/>
<rect x="1182.9" y="937.34" width="34.56" height="35.82" fill="#4055c8"/>
<rect x="1221.96" y="937.34" width="35.16" height="35.82" fill="#7597f6"/>
<rect x="1256.52" y="937.34" width="35.16" height="35.82" fill="#97b8ff"/>
<rect x="1291.08" y="937.34" width="35.16" height="35.82" fill="#dddcdc"/>
<rect x="1325.64" y="937.34" width="34.56" height="35.82" fill="#c6d6f1"/>
<rect x="1182.9" y="972.56" width="34.56" height="35.82" fill="#3d50c3"/>
<rect x="1221.96" y="972.56" width="35.16" height="35.82" fill="#4358cb"/>
<rect x="1256.52" y="972.56" width="35.16" height="35.82" fill="#465ecf"/>
<rect x="1291.08" y="972.56" width="35.16" height="35.82" fill="#4f69d9"/>
<rect x="1325.64" y="972.56" width="34.56" height="35.82" fill="#4c66d6"/>
<rect x="1182.9" y="1007.78" width="34.56" height="35.22" fill="#3d50c3"/>
<rect x="1221.96" y="1007.78" width="35.16" height="35.22" fill="#4055c8"/>
<rect x="1256.52" y="1007.78" width="35.16" height="35.22" fill="#4055c8"/>
<rect x="1291.08" y="1007.78" width="35.16" height="35.22" fill="#4358cb"/>
<rect x="1325.64" y="1007.78" width="34.56" height="35.22" fill="#465ecf"/>
<text font-size="25.31" x="1252.83 1272.62" y="812">DC</text>
<text font-size="25.31" x="1195.26 1206.25 1222.7 1239.15 1255.6 1272.42 1280.81 1294.44 1309.99 1317.13 1324.38 1338.66" y="847">(4597 cells)</text>
<rect x="1383.6" y="861.5" width="34.56" height="35.22" fill="#df6f58"/>
<rect x="1422.66" y="861.5" width="35.16" height="35.22" fill="#4f69d9"/>
<rect x="1457.22" y="861.5" width="35.16" height="35.22" fill="#465ecf"/>
<rect x="1491.78" y="861.5" width="35.16" height="35.22" fill="#4055c8"/>
<rect x="1526.34" y="861.5" width="34.56" height="35.22" fill="#4c66d6"/>
<rect x="1383.6" y="902.12" width="34.56" height="35.82" fill="#6384eb"/>
<rect x="1422.66" y="902.12" width="35.16" height="35.82" fill="#d5dbe5"/>
<rect x="1457.22" y="902.12" width="35.16" height="35.82" fill="#94b6ff"/>
<rect x="1491.78" y="902.12" width="35.16" height="35.82" fill="#536edd"/>
<rect x="1526.34" y="902.12" width="34.56" height="35.82" fill="#5977e3"/>
<rect x="1383.6" y="937.34" width="34.56" height="35.82" fill="#4961d2"/>
<rect x="1422.66" y="937.34" width="35.16" height="35.82" fill="#c0d4f5"/>
<rect x="1457.22" y="937.34" width="35.16" height="35.82" fill="#e8d1c5"/>
<rect x="1491.78" y="937.34" width="35.16" height="35.82" fill="#eac9b8"/>
<rect x="1526.34" y="937.34" width="34.56" height="35.82" fill="#c0d4f5"/>
<rect x="1383.6" y="972.56" width="34.56" height="35.82" fill="#3d50c3"/>
<rect x="1422.66" y="972.56" width="35.16" height="35.82" fill="#4358cb"/>
<rect x="1457.22" y="972.56" width="35.16" height="35.82" fill="#5673e0"/>
<rect x="1491.78" y="972.56" width="35.16" height="35.82" fill="#9ebeff"/>
<rect x="1526.34" y="972.56" width="34.56" height="35.82" fill="#7093f3"/>
<rect x="1383.6" y="1007.78" width="34.56" height="35.22" fill="#3d50c3"/>
<rect x="1422.66" y="1007.78" width="35.16" height="35.22" fill="#4055c8"/>
<rect x="1457.22" y="1007.78" width="35.16" height="35.22" fill="#4055c8"/>
<rect x="1491.78" y="1007.78" width="35.16" height="35.22" fill="#4055c8"/>
<rect x="1526.34" y="1007.78" width="34.56" height="35.22" fill="#8db0fe"/>
<text font-size="25.31" x="1437.6 1459.4 1475.06 1491.27" y="812">Mono</text>
<text font-size="25.31" x="1379.51 1390.5 1406.95 1423.4 1439.85 1456.3 1472.74 1489.57 1497.96 1511.59 1527.14 1534.28 1541.52 1555.81" y="847">(133128 cells)</text>
<text transform="translate(1392.28 1053.8) rotate(90)" font-size="25.31" x="0.13 19.17 34.58 50.07 57.21 67.34 83.62" y="0">Healthy</text>
<text transform="translate(1431.34 1053.8) rotate(90)" font-size="25.31" x="0.13 18.09 38.3 57.42 66.72 86.88 95.6 120.43 127.48 134.48" y="0">COVID mild</text>
<text transform="translate(1465.9 1053.8) rotate(90)" font-size="25.31" x="0.13 18.09 38.3 57.42 66.72 86.88 95.52 108.69 124.25 139.22 154.95 165.51" y="0">COVID severe</text>
<text transform="translate(1500.46 1053.8) rotate(90)" font-size="25.31" x="0.13 18.09 38.3 57.42 66.72 86.88 95.16 109.1 119.79 126.93 136.96 143.73 157.35 172.84" y="0">COVID critical</text>
<text transform="translate(1535.02 1053.8) rotate(90)" font-size="25.31" x="0.11 14.78 21.93" y="0">Flu</text>
<rect x="1584.3" y="861.5" width="34.56" height="35.22" fill="#df6f58"/>
<rect x="1623.36" y="861.5" width="35.16" height="35.22" fill="#4c66d6"/>
<rect x="1657.92" y="861.5" width="35.16" height="35.22" fill="#465ecf"/>
<rect x="1692.48" y="861.5" width="35.16" height="35.22" fill="#4055c8"/>
<rect x="1727.04" y="861.5" width="34.56" height="35.22" fill="#89acfd"/>
<rect x="1584.3" y="902.12" width="34.56" height="35.82" fill="#5f7fe8"/>
<rect x="1623.36" y="902.12" width="35.16" height="35.82" fill="#eac9b8"/>
<rect x="1657.92" y="902.12" width="35.16" height="35.82" fill="#9ebeff"/>
<rect x="1692.48" y="902.12" width="35.16" height="35.82" fill="#6a8bef"/>
<rect x="1727.04" y="902.12" width="34.56" height="35.82" fill="#7597f6"/>
<rect x="1584.3" y="937.34" width="34.56" height="35.82" fill="#4961d2"/>
<rect x="1623.36" y="937.34" width="35.16" height="35.82" fill="#97b8ff"/>
<rect x="1657.92" y="937.34" width="35.16" height="35.82" fill="#ebcbba"/>
<rect x="1692.48" y="937.34" width="35.16" height="35.82" fill="#e9d0c3"/>
<rect x="1727.04" y="937.34" width="34.56" height="35.82" fill="#adc9fd"/>
<rect x="1584.3" y="972.56" width="34.56" height="35.82" fill="#3d50c3"/>
<rect x="1623.36" y="972.56" width="35.16" height="35.82" fill="#4358cb"/>
<rect x="1657.92" y="972.56" width="35.16" height="35.82" fill="#4c66d6"/>
<rect x="1692.48" y="972.56" width="35.16" height="35.82" fill="#85a8fc"/>
<rect x="1727.04" y="972.56" width="34.56" height="35.82" fill="#4c66d6"/>
<rect x="1584.3" y="1007.78" width="34.56" height="35.22" fill="#3d50c3"/>
<rect x="1623.36" y="1007.78" width="35.16" height="35.22" fill="#4055c8"/>
<rect x="1657.92" y="1007.78" width="35.16" height="35.22" fill="#4055c8"/>
<rect x="1692.48" y="1007.78" width="35.16" height="35.22" fill="#4055c8"/>
<rect x="1727.04" y="1007.78" width="34.56" height="35.22" fill="#6687ed"/>
<text font-size="25.31" x="1593 1609.15 1617.83 1635.79 1655.57 1672.29 1680.98 1700.03 1715.51 1722.67 1737.64" y="812">T CD4 Naive</text>
<text font-size="25.31" x="1588.43 1599.43 1615.88 1632.32 1648.77 1665.22 1682.05 1690.43 1704.06 1719.61 1726.76 1734 1748.29" y="847">(75404 cells)</text>
<text transform="translate(1592.98 1053.8) rotate(90)" font-size="25.31" x="0.13 19.17 34.58 50.07 57.21 67.34 83.62" y="0">Healthy</text>
<text transform="translate(1632.04 1053.8) rotate(90)" font-size="25.31" x="0.13 18.09 38.3 57.42 66.72 86.88 95.6 120.43 127.48 134.48" y="0">COVID mild</text>
<text transform="translate(1666.6 1053.8) rotate(90)" font-size="25.31" x="0.13 18.09 38.3 57.42 66.72 86.88 95.52 108.69 124.25 139.22 154.95 165.51" y="0">COVID severe</text>
<text transform="translate(1701.16 1053.8) rotate(90)" font-size="25.31" x="0.13 18.09 38.3 57.42 66.72 86.88 95.16 109.1 119.79 126.93 136.96 143.73 157.35 172.84" y="0">COVID critical</text>
<text transform="translate(1735.72 1053.8) rotate(90)" font-size="25.31" x="0.11 14.78 21.93" y="0">Flu</text>
<rect x="1785" y="861.5" width="34.56" height="35.22" fill="#ebb9a2"/>
<rect x="1824.06" y="861.5" width="35.16" height="35.22" fill="#4c66d6"/>
<rect x="1858.62" y="861.5" width="35.16" height="35.22" fill="#4961d2"/>
<rect x="1893.18" y="861.5" width="35.16" height="35.22" fill="#4055c8"/>
<rect x="1927.74" y="861.5" width="34.56" height="35.22" fill="#7b9ff9"/>
<rect x="1785" y="902.12" width="34.56" height="35.82" fill="#536edd"/>
<rect x="1824.06" y="902.12" width="35.16" height="35.82" fill="#dddcdc"/>
<rect x="1858.62" y="902.12" width="35.16" height="35.82" fill="#8db0fe"/>
<rect x="1893.18" y="902.12" width="35.16" height="35.82" fill="#7b9ff9"/>
<rect x="1927.74" y="902.12" width="34.56" height="35.82" fill="#6384eb"/>
<rect x="1785" y="937.34" width="34.56" height="35.82" fill="#4c66d6"/>
<rect x="1824.06" y="937.34" width="35.16" height="35.82" fill="#94b6ff"/>
<rect x="1858.62" y="937.34" width="35.16" height="35.82" fill="#afcafc"/>
<rect x="1893.18" y="937.34" width="35.16" height="35.82" fill="#9ebeff"/>
<rect x="1927.74" y="937.34" width="34.56" height="35.82" fill="#94b6ff"/>
<rect x="1785" y="972.56" width="34.56" height="35.82" fill="#82a6fb"/>
<rect x="1824.06" y="972.56" width="35.16" height="35.82" fill="#6a8bef"/>
<rect x="1858.62" y="972.56" width="35.16" height="35.82" fill="#9ebeff"/>
<rect x="1893.18" y="972.56" width="35.16" height="35.82" fill="#dddcdc"/>
<rect x="1927.74" y="972.56" width="34.56" height="35.82" fill="#82a6fb"/>
<rect x="1785" y="1007.78" width="34.56" height="35.22" fill="#3d50c3"/>
<rect x="1824.06" y="1007.78" width="35.16" height="35.22" fill="#4055c8"/>
<rect x="1858.62" y="1007.78" width="35.16" height="35.22" fill="#4055c8"/>
<rect x="1893.18" y="1007.78" width="35.16" height="35.22" fill="#4055c8"/>
<rect x="1927.74" y="1007.78" width="34.56" height="35.22" fill="#6384eb"/>
<text font-size="25.31" x="1768.16 1784.3 1792.98 1810.95 1830.72 1847.45 1856.14 1875.27 1890.93 1907.23 1926.28 1941.76 1948.91 1963.88" y="812">T CD4 NonNaive</text>
<text font-size="25.31" x="1789.13 1800.13 1816.58 1833.02 1849.47 1865.92 1882.75 1891.13 1904.76 1920.31 1927.46 1934.7 1948.99" y="847">(86827 cells)</text>
<text transform="translate(1793.68 1053.8) rotate(90)" font-size="25.31" x="0.13 19.17 34.58 50.07 57.21 67.34 83.62" y="0">Healthy</text>
<text transform="translate(1832.74 1053.8) rotate(90)" font-size="25.31" x="0.13 18.09 38.3 57.42 66.72 86.88 95.6 120.43 127.48 134.48" y="0">COVID mild</text>
<text transform="translate(1867.3 1053.8) rotate(90)" font-size="25.31" x="0.13 18.09 38.3 57.42 66.72 86.88 95.52 108.69 124.25 139.22 154.95 165.51" y="0">COVID severe</text>
<text transform="translate(1901.86 1053.8) rotate(90)" font-size="25.31" x="0.13 18.09 38.3 57.42 66.72 86.88 95.16 109.1 119.79 126.93 136.96 143.73 157.35 172.84" y="0">COVID critical</text>
<text transform="translate(1936.42 1053.8) rotate(90)" font-size="25.31" x="0.11 14.78 21.93" y="0">Flu</text>
<text font-size="25.31" x="1967.63 1986.67 2002.08 2017.57 2024.71 2034.84 2051.12" y="885.21">Healthy</text>
<text font-size="25.31" x="1967.63 1985.59 2005.8 2024.92 2034.22 2054.38 2063.1 2087.93 2094.98 2101.98" y="928.63">COVID mild</text>
<text font-size="25.31" x="1967.63 1985.59 2005.8 2024.92 2034.22 2054.38 2063.02 2076.19 2091.75 2106.72 2122.45 2133.01" y="963.85">COVID severe</text>
<text font-size="25.31" x="1967.63 1985.59 2005.8 2024.92 2034.22 2054.38 2062.66 2076.6 2087.29 2094.43 2104.46 2111.23 2124.85 2140.34" y="999.07">COVID critical</text>
<text font-size="25.31" x="1967.61 1982.28 1989.43" y="1034.59">Flu</text>
<rect x="580.8" y="1241.9" width="34.56" height="35.22" fill="#e1745c"/>
<rect x="619.86" y="1241.9" width="35.16" height="35.22" fill="#4c66d6"/>
<rect x="654.42" y="1241.9" width="35.16" height="35.22" fill="#536edd"/>
<rect x="688.98" y="1241.9" width="35.16" height="35.22" fill="#4055c8"/>
<rect x="723.54" y="1241.9" width="34.56" height="35.22" fill="#bad0f8"/>
<rect x="580.8" y="1282.52" width="34.56" height="35.82" fill="#6384eb"/>
<rect x="619.86" y="1282.52" width="35.16" height="35.82" fill="#ea9a7e"/>
<rect x="654.42" y="1282.52" width="35.16" height="35.82" fill="#a9c6fd"/>
<rect x="688.98" y="1282.52" width="35.16" height="35.82" fill="#8db0fe"/>
<rect x="723.54" y="1282.52" width="34.56" height="35.82" fill="#7597f6"/>
<rect x="580.8" y="1317.74" width="34.56" height="35.82" fill="#4f69d9"/>
<rect x="619.86" y="1317.74" width="35.16" height="35.82" fill="#82a6fb"/>
<rect x="654.42" y="1317.74" width="35.16" height="35.82" fill="#dddcdc"/>
<rect x="688.98" y="1317.74" width="35.16" height="35.82" fill="#cfdaea"/>
<rect x="723.54" y="1317.74" width="34.56" height="35.82" fill="#c6d6f1"/>
<rect x="580.8" y="1352.96" width="34.56" height="35.82" fill="#3d50c3"/>
<rect x="619.86" y="1352.96" width="35.16" height="35.82" fill="#4358cb"/>
<rect x="654.42" y="1352.96" width="35.16" height="35.82" fill="#536edd"/>
<rect x="688.98" y="1352.96" width="35.16" height="35.82" fill="#9ebeff"/>
<rect x="723.54" y="1352.96" width="34.56" height="35.82" fill="#4055c8"/>
<rect x="580.8" y="1388.18" width="34.56" height="35.22" fill="#3d50c3"/>
<rect x="619.86" y="1388.18" width="35.16" height="35.22" fill="#4055c8"/>
<rect x="654.42" y="1388.18" width="35.16" height="35.22" fill="#4055c8"/>
<rect x="688.98" y="1388.18" width="35.16" height="35.22" fill="#4055c8"/>
<rect x="723.54" y="1388.18" width="34.56" height="35.22" fill="#4358cb"/>
<text font-size="25.31" x="589.5 605.65 614.33 632.29 652.07 668.79 677.48 696.53 712.01 719.17 734.14" y="1191.6">T CD8 Naive</text>
<text font-size="25.31" x="584.93 595.93 612.38 628.82 645.27 661.72 678.55 686.93 700.56 716.11 723.26 730.5 744.79" y="1226.6">(14314 cells)</text>
<text transform="translate(590.28 1427.7) rotate(90)" font-size="25.31" x="0.13 19.17 34.58 50.07 57.21 67.34 83.62" y="0">Healthy</text>
<text transform="translate(629.34 1427.7) rotate(90)" font-size="25.31" x="0.13 18.09 38.3 57.42 66.72 86.88 95.6 120.43 127.48 134.48" y="0">COVID mild</text>
<text transform="translate(663.9 1427.7) rotate(90)" font-size="25.31" x="0.13 18.09 38.3 57.42 66.72 86.88 95.52 108.69 124.25 139.22 154.95 165.51" y="0">COVID severe</text>
<text transform="translate(698.46 1427.7) rotate(90)" font-size="25.31" x="0.13 18.09 38.3 57.42 66.72 86.88 95.16 109.1 119.79 126.93 136.96 143.73 157.35 172.84" y="0">COVID critical</text>
<text transform="translate(733.02 1427.7) rotate(90)" font-size="25.31" x="0.11 14.78 21.93" y="0">Flu</text>
<rect x="781.5" y="1241.9" width="34.56" height="35.22" fill="#e68a6f"/>
<rect x="820.56" y="1241.9" width="35.16" height="35.22" fill="#536edd"/>
<rect x="855.12" y="1241.9" width="35.16" height="35.22" fill="#5977e3"/>
<rect x="889.68" y="1241.9" width="35.16" height="35.22" fill="#4055c8"/>
<rect x="924.24" y="1241.9" width="34.56" height="35.22" fill="#89acfd"/>
<rect x="781.5" y="1282.52" width="34.56" height="35.82" fill="#5f7fe8"/>
<rect x="820.56" y="1282.52" width="35.16" height="35.82" fill="#e3d9d2"/>
<rect x="855.12" y="1282.52" width="35.16" height="35.82" fill="#cad8ef"/>
<rect x="889.68" y="1282.52" width="35.16" height="35.82" fill="#a9c6fd"/>
<rect x="924.24" y="1282.52" width="34.56" height="35.82" fill="#7093f3"/>
<rect x="781.5" y="1317.74" width="34.56" height="35.82" fill="#5f7fe8"/>
<rect x="820.56" y="1317.74" width="35.16" height="35.82" fill="#afcafc"/>
<rect x="855.12" y="1317.74" width="35.16" height="35.82" fill="#b6cefa"/>
<rect x="889.68" y="1317.74" width="35.16" height="35.82" fill="#e3d9d2"/>
<rect x="924.24" y="1317.74" width="34.56" height="35.82" fill="#c6d6f1"/>
<rect x="781.5" y="1352.96" width="34.56" height="35.82" fill="#3d50c3"/>
<rect x="820.56" y="1352.96" width="35.16" height="35.82" fill="#465ecf"/>
<rect x="855.12" y="1352.96" width="35.16" height="35.82" fill="#4c66d6"/>
<rect x="889.68" y="1352.96" width="35.16" height="35.82" fill="#5f7fe8"/>
<rect x="924.24" y="1352.96" width="34.56" height="35.82" fill="#465ecf"/>
<rect x="781.5" y="1388.18" width="34.56" height="35.22" fill="#3d50c3"/>
<rect x="820.56" y="1388.18" width="35.16" height="35.22" fill="#4055c8"/>
<rect x="855.12" y="1388.18" width="35.16" height="35.22" fill="#4055c8"/>
<rect x="889.68" y="1388.18" width="35.16" height="35.22" fill="#4055c8"/>
<rect x="924.24" y="1388.18" width="34.56" height="35.22" fill="#6a8bef"/>
<text font-size="25.31" x="764.66 780.8 789.48 807.45 827.22 843.95 852.64 871.77 887.43 903.73 922.78 938.26 945.41 960.38" y="1191.6">T CD8 NonNaive</text>
<text font-size="25.31" x="785.63 796.63 813.08 829.52 845.97 862.42 879.25 887.63 901.26 916.81 923.96 931.2 945.49" y="1226.6">(56265 cells)</text>
<text transform="translate(790.98 1427.7) rotate(90)" font-size="25.31" x="0.13 19.17 34.58 50.07 57.21 67.34 83.62" y="0">Healthy</text>
<text transform="translate(830.04 1427.7) rotate(90)" font-size="25.31" x="0.13 18.09 38.3 57.42 66.72 86.88 95.6 120.43 127.48 134.48" y="0">COVID mild</text>
<text transform="translate(864.6 1427.7) rotate(90)" font-size="25.31" x="0.13 18.09 38.3 57.42 66.72 86.88 95.52 108.69 124.25 139.22 154.95 165.51" y="0">COVID severe</text>
<text transform="translate(899.16 1427.7) rotate(90)" font-size="25.31" x="0.13 18.09 38.3 57.42 66.72 86.88 95.16 109.1 119.79 126.93 136.96 143.73 157.35 172.84" y="0">COVID critical</text>
<text transform="translate(933.72 1427.7) rotate(90)" font-size="25.31" x="0.11 14.78 21.93" y="0">Flu</text>
<rect x="982.2" y="1241.9" width="34.56" height="35.22" fill="#df6f58"/>
<rect x="1021.26" y="1241.9" width="35.16" height="35.22" fill="#536edd"/>
<rect x="1055.82" y="1241.9" width="35.16" height="35.22" fill="#5f7fe8"/>
<rect x="1090.38" y="1241.9" width="35.16" height="35.22" fill="#4961d2"/>
<rect x="1124.94" y="1241.9" width="34.56" height="35.22" fill="#c0d4f5"/>
<rect x="982.2" y="1282.52" width="34.56" height="35.82" fill="#6384eb"/>
<rect x="1021.26" y="1282.52" width="35.16" height="35.82" fill="#e27960"/>
<rect x="1055.82" y="1282.52" width="35.16" height="35.82" fill="#e9d0c3"/>
<rect x="1090.38" y="1282.52" width="35.16" height="35.82" fill="#e89277"/>
<rect x="1124.94" y="1282.52" width="34.56" height="35.82" fill="#e7d2c6"/>
<rect x="982.2" y="1317.74" width="34.56" height="35.82" fill="#465ecf"/>
<rect x="1021.26" y="1317.74" width="35.16" height="35.82" fill="#5977e3"/>
<rect x="1055.82" y="1317.74" width="35.16" height="35.82" fill="#97b8ff"/>
<rect x="1090.38" y="1317.74" width="35.16" height="35.82" fill="#7597f6"/>
<rect x="1124.94" y="1317.74" width="34.56" height="35.82" fill="#4961d2"/>
<rect x="982.2" y="1352.96" width="34.56" height="35.82" fill="#3d50c3"/>
<rect x="1021.26" y="1352.96" width="35.16" height="35.82" fill="#4055c8"/>
<rect x="1055.82" y="1352.96" width="35.16" height="35.82" fill="#4358cb"/>
<rect x="1090.38" y="1352.96" width="35.16" height="35.82" fill="#4961d2"/>
<rect x="1124.94" y="1352.96" width="34.56" height="35.82" fill="#4055c8"/>
<rect x="982.2" y="1388.18" width="34.56" height="35.22" fill="#3d50c3"/>
<rect x="1021.26" y="1388.18" width="35.16" height="35.22" fill="#4055c8"/>
<rect x="1055.82" y="1388.18" width="35.16" height="35.22" fill="#4055c8"/>
<rect x="1090.38" y="1388.18" width="35.16" height="35.22" fill="#4055c8"/>
<rect x="1124.94" y="1388.18" width="34.56" height="35.22" fill="#4055c8"/>
<text font-size="25.31" x="1044.7 1063.56 1079.33" y="1191.6">UTC</text>
<text font-size="25.31" x="994.56 1005.55 1022 1038.45 1054.9 1071.72 1080.11 1093.74 1109.29 1116.43 1123.68 1137.96" y="1226.6">(8370 cells)</text>
<text transform="translate(991.68 1427.7) rotate(90)" font-size="25.31" x="0.13 19.17 34.58 50.07 57.21 67.34 83.62" y="0">Healthy</text>
<text transform="translate(1030.74 1427.7) rotate(90)" font-size="25.31" x="0.13 18.09 38.3 57.42 66.72 86.88 95.6 120.43 127.48 134.48" y="0">COVID mild</text>
<text transform="translate(1065.3 1427.7) rotate(90)" font-size="25.31" x="0.13 18.09 38.3 57.42 66.72 86.88 95.52 108.69 124.25 139.22 154.95 165.51" y="0">COVID severe</text>
<text transform="translate(1099.86 1427.7) rotate(90)" font-size="25.31" x="0.13 18.09 38.3 57.42 66.72 86.88 95.16 109.1 119.79 126.93 136.96 143.73 157.35 172.84" y="0">COVID critical</text>
<text transform="translate(1134.42 1427.7) rotate(90)" font-size="25.31" x="0.11 14.78 21.93" y="0">Flu</text>
<rect x="1182.9" y="1241.9" width="34.56" height="35.22" fill="#dc624e"/>
<rect x="1221.96" y="1241.9" width="35.16" height="35.22" fill="#5977e3"/>
<rect x="1256.52" y="1241.9" width="35.16" height="35.22" fill="#5f7fe8"/>
<rect x="1291.08" y="1241.9" width="35.16" height="35.22" fill="#465ecf"/>
<rect x="1325.64" y="1241.9" width="34.56" height="35.22" fill="#5f7fe8"/>
<rect x="1182.9" y="1282.52" width="34.56" height="35.82" fill="#5673e0"/>
<rect x="1221.96" y="1282.52" width="35.16" height="35.82" fill="#eacdbf"/>
<rect x="1256.52" y="1282.52" width="35.16" height="35.82" fill="#a9c6fd"/>
<rect x="1291.08" y="1282.52" width="35.16" height="35.82" fill="#82a6fb"/>
<rect x="1325.64" y="1282.52" width="34.56" height="35.82" fill="#7b9ff9"/>
<rect x="1182.9" y="1317.74" width="34.56" height="35.82" fill="#5673e0"/>
<rect x="1221.96" y="1317.74" width="35.16" height="35.82" fill="#90b2fe"/>
<rect x="1256.52" y="1317.74" width="35.16" height="35.82" fill="#d5dbe5"/>
<rect x="1291.08" y="1317.74" width="35.16" height="35.82" fill="#e9d0c3"/>
<rect x="1325.64" y="1317.74" width="34.56" height="35.82" fill="#d7dce3"/>
<rect x="1182.9" y="1352.96" width="34.56" height="35.82" fill="#3d50c3"/>
<rect x="1221.96" y="1352.96" width="35.16" height="35.82" fill="#4358cb"/>
<rect x="1256.52" y="1352.96" width="35.16" height="35.82" fill="#4f69d9"/>
<rect x="1291.08" y="1352.96" width="35.16" height="35.82" fill="#7597f6"/>
<rect x="1325.64" y="1352.96" width="34.56" height="35.82" fill="#4961d2"/>
<rect x="1182.9" y="1388.18" width="34.56" height="35.22" fill="#3d50c3"/>
<rect x="1221.96" y="1388.18" width="35.16" height="35.22" fill="#4055c8"/>
<rect x="1256.52" y="1388.18" width="35.16" height="35.22" fill="#4055c8"/>
<rect x="1291.08" y="1388.18" width="35.16" height="35.22" fill="#4358cb"/>
<rect x="1325.64" y="1388.18" width="34.56" height="35.22" fill="#6384eb"/>
<text font-size="25.31" x="1251.69 1260.94 1275.28" y="1191.6">ILC</text>
<text font-size="25.31" x="1187.03 1198.03 1214.48 1230.92 1247.37 1263.82 1280.65 1289.03 1302.66 1318.21 1325.36 1332.6 1346.89" y="1226.6">(36503 cells)</text>
<text transform="translate(1192.38 1427.7) rotate(90)" font-size="25.31" x="0.13 19.17 34.58 50.07 57.21 67.34 83.62" y="0">Healthy</text>
<text transform="translate(1231.44 1427.7) rotate(90)" font-size="25.31" x="0.13 18.09 38.3 57.42 66.72 86.88 95.6 120.43 127.48 134.48" y="0">COVID mild</text>
<text transform="translate(1266 1427.7) rotate(90)" font-size="25.31" x="0.13 18.09 38.3 57.42 66.72 86.88 95.52 108.69 124.25 139.22 154.95 165.51" y="0">COVID severe</text>
<text transform="translate(1300.56 1427.7) rotate(90)" font-size="25.31" x="0.13 18.09 38.3 57.42 66.72 86.88 95.16 109.1 119.79 126.93 136.96 143.73 157.35 172.84" y="0">COVID critical</text>
<text transform="translate(1335.12 1427.7) rotate(90)" font-size="25.31" x="0.11 14.78 21.93" y="0">Flu</text>
<text font-size="25.31" x="1369.13 1388.17 1403.58 1419.07 1426.21 1436.34 1452.62" y="1266.21">Healthy</text>
<text font-size="25.31" x="1369.13 1387.09 1407.3 1426.42 1435.72 1455.88 1464.6 1489.43 1496.48 1503.48" y="1308.23">COVID mild</text>
<text font-size="25.31" x="1369.13 1387.09 1407.3 1426.42 1435.72 1455.88 1464.52 1477.69 1493.25 1508.22 1523.95 1534.51" y="1343.85">COVID severe</text>
<text font-size="25.31" x="1369.13 1387.09 1407.3 1426.42 1435.72 1455.88 1464.16 1478.1 1488.79 1495.93 1505.96 1512.73 1526.35 1541.84" y="1379.07">COVID critical</text>
<text font-size="25.31" x="1369.11 1383.78 1390.93" y="1414.69">Flu</text>
<text transform="translate(567.1 1142.7) rotate(-90)" font-size="24.72" x="-127.85 -112.55 -102.23 -87.18 -71.51 -64.89 -51.46 -41.79 -26.73 -10.58 0.02 13.41 28.7 44.45 60.12 67.09 76.89 83.81 99.1 114.98" y="0">Predicted conditions</text>
<text font-size="25.31" x="1184.1 1200.03 1210.83 1226.86 1242.8 1251.09 1264.8 1280.45 1296.58 1312.62 1319.76 1329.79 1336.88 1352.54 1368.8" y="1672">True conditions</text>
<rect x="1707.5" y="1279.5" width="156.5" height="25.5" fill="url(#cw)" stroke="#111" stroke-width="1.3"/>
<text font-size="25.31" x="1676.3 1693.18 1702" y="1328">0.0</text>
<text font-size="25.31" x="1754.3 1771.18 1780" y="1328">0.5</text>
<text font-size="25.31" x="1832.1 1848.98 1857.8" y="1328">1.0</text>
<path d="M1697.2 1304.3V1307.6M1775.2 1305.2V1307.6M1853.2 1305.2V1307.6" stroke="#444" stroke-width="0.9" fill="none"/>
<text font-size="25.31" x="1709.47 1725.13 1735.88 1751.4 1767.49 1783.32 1794.11 1804.14 1811.23 1826.89" y="1353">Proportion</text>
<text font-size="25.31" x="1710.47 1720.97 1734.68 1750.23 1757.77 1766.43 1782.64 1798.47 1809.33 1835.06" y="1382">(col norm)</text>
<rect x="226.07" y="1935.9" width="57.12" height="31.4" fill="#6b9bbe"/>
<rect x="283.19" y="1935.9" width="19.04" height="31.4" fill="#848484"/>
<rect x="302.23" y="1935.9" width="38.08" height="31.4" fill="#33527c"/>
<rect x="340.31" y="1935.9" width="19.04" height="31.4" fill="#6b9bbe"/>
<rect x="359.35" y="1935.9" width="19.04" height="31.4" fill="#33527c"/>
<rect x="378.39" y="1935.9" width="38.08" height="31.4" fill="#6b9bbe"/>
<rect x="416.47" y="1935.9" width="38.08" height="31.4" fill="#33527c"/>
<rect x="454.55" y="1935.9" width="19.04" height="31.4" fill="#f0293f"/>
<rect x="473.59" y="1935.9" width="342.72" height="31.4" fill="#6b9bbe"/>
<rect x="816.31" y="1935.9" width="19.04" height="31.4" fill="#33527c"/>
<rect x="835.35" y="1935.9" width="19.04" height="31.4" fill="#f0293f"/>
<rect x="854.39" y="1935.9" width="19.04" height="31.4" fill="#848484"/>
<rect x="873.43" y="1935.9" width="495.04" height="31.4" fill="#6b9bbe"/>
<rect x="1368.47" y="1935.9" width="19.04" height="31.4" fill="#33527c"/>
<rect x="1387.51" y="1935.9" width="133.28" height="31.4" fill="#6b9bbe"/>
<rect x="1520.79" y="1935.9" width="19.04" height="31.4" fill="#33527c"/>
<rect x="1539.83" y="1935.9" width="19.04" height="31.4" fill="#f0293f"/>
<rect x="1558.87" y="1935.9" width="95.2" height="31.4" fill="#848484"/>
<rect x="1654.07" y="1935.9" width="19.04" height="31.4" fill="#f0293f"/>
<rect x="1673.11" y="1935.9" width="38.08" height="31.4" fill="#848484"/>
<rect x="1711.19" y="1935.9" width="19.04" height="31.4" fill="#33527c"/>
<rect x="1730.23" y="1935.9" width="95.2" height="31.4" fill="#f0293f"/>
<rect x="1825.43" y="1935.9" width="19.04" height="31.4" fill="#848484"/>
<rect x="1844.47" y="1935.9" width="38.08" height="31.4" fill="#f0293f"/>
<rect x="1882.55" y="1935.9" width="19.04" height="31.4" fill="#33527c"/>
<rect x="1901.59" y="1935.9" width="76.16" height="31.4" fill="#f0293f"/>
<rect x="1977.75" y="1935.9" width="95.2" height="31.4" fill="#6b9bbe"/>
<rect x="2072.95" y="1935.9" width="57.12" height="31.4" fill="#f0293f"/>
<rect x="2130.07" y="1935.9" width="19.04" height="31.4" fill="#33527c"/>
<rect x="226.07" y="1968.2" width="38.08" height="32.2" fill="#42ab7b"/>
<rect x="264.15" y="1968.2" width="19.04" height="32.2" fill="#e8ec4d"/>
<rect x="283.19" y="1968.2" width="19.04" height="32.2" fill="#42ab7b"/>
<rect x="302.23" y="1968.2" width="19.04" height="32.2" fill="#6cbdea"/>
<rect x="321.27" y="1968.2" width="38.08" height="32.2" fill="#e8ec4d"/>
<rect x="359.35" y="1968.2" width="19.04" height="32.2" fill="#8b43bc"/>
<rect x="378.39" y="1968.2" width="19.04" height="32.2" fill="#42ab7b"/>
<rect x="397.43" y="1968.2" width="19.04" height="32.2" fill="#6cbdea"/>
<rect x="416.47" y="1968.2" width="19.04" height="32.2" fill="#b9282b"/>
<rect x="435.51" y="1968.2" width="38.08" height="32.2" fill="#45995d"/>
<rect x="473.59" y="1968.2" width="19.04" height="32.2" fill="#e8ec4d"/>
<rect x="492.63" y="1968.2" width="19.04" height="32.2" fill="#42ab7b"/>
<rect x="511.67" y="1968.2" width="19.04" height="32.2" fill="#6cbdea"/>
<rect x="530.71" y="1968.2" width="19.04" height="32.2" fill="#42ab7b"/>
<rect x="549.75" y="1968.2" width="38.08" height="32.2" fill="#6cbdea"/>
<rect x="587.83" y="1968.2" width="38.08" height="32.2" fill="#e8ec4d"/>
<rect x="625.91" y="1968.2" width="57.12" height="32.2" fill="#6cbdea"/>
<rect x="683.03" y="1968.2" width="190.4" height="32.2" fill="#dfa42a"/>
<rect x="873.43" y="1968.2" width="19.04" height="32.2" fill="#3d7fba"/>
<rect x="892.47" y="1968.2" width="19.04" height="32.2" fill="#e8ec4d"/>
<rect x="911.51" y="1968.2" width="19.04" height="32.2" fill="#d9661f"/>
<rect x="930.55" y="1968.2" width="19.04" height="32.2" fill="#8b43bc"/>
<rect x="949.59" y="1968.2" width="19.04" height="32.2" fill="#b9282b"/>
<rect x="968.63" y="1968.2" width="19.04" height="32.2" fill="#8b43bc"/>
<rect x="987.67" y="1968.2" width="19.04" height="32.2" fill="#42ab7b"/>
<rect x="1006.71" y="1968.2" width="38.08" height="32.2" fill="#b9282b"/>
<rect x="1044.79" y="1968.2" width="19.04" height="32.2" fill="#3d7fba"/>
<rect x="1063.83" y="1968.2" width="19.04" height="32.2" fill="#d9661f"/>
<rect x="1082.87" y="1968.2" width="19.04" height="32.2" fill="#c979b5"/>
<rect x="1101.91" y="1968.2" width="19.04" height="32.2" fill="#8b43bc"/>
<rect x="1120.95" y="1968.2" width="19.04" height="32.2" fill="#42ab7b"/>
<rect x="1139.99" y="1968.2" width="38.08" height="32.2" fill="#b9282b"/>
<rect x="1178.07" y="1968.2" width="19.04" height="32.2" fill="#d9661f"/>
<rect x="1197.11" y="1968.2" width="38.08" height="32.2" fill="#8b43bc"/>
<rect x="1235.19" y="1968.2" width="38.08" height="32.2" fill="#c979b5"/>
<rect x="1273.27" y="1968.2" width="19.04" height="32.2" fill="#d9661f"/>
<rect x="1292.31" y="1968.2" width="38.08" height="32.2" fill="#8b43bc"/>
<rect x="1330.39" y="1968.2" width="19.04" height="32.2" fill="#d9661f"/>
<rect x="1349.43" y="1968.2" width="19.04" height="32.2" fill="#c979b5"/>
<rect x="1368.47" y="1968.2" width="19.04" height="32.2" fill="#d9661f"/>
<rect x="1387.51" y="1968.2" width="19.04" height="32.2" fill="#8b43bc"/>
<rect x="1406.55" y="1968.2" width="19.04" height="32.2" fill="#45995d"/>
<rect x="1425.59" y="1968.2" width="38.08" height="32.2" fill="#3d7fba"/>
<rect x="1463.67" y="1968.2" width="19.04" height="32.2" fill="#e8ec4d"/>
<rect x="1482.71" y="1968.2" width="38.08" height="32.2" fill="#c979b5"/>
<rect x="1520.79" y="1968.2" width="38.08" height="32.2" fill="#42ab7b"/>
<rect x="1558.87" y="1968.2" width="19.04" height="32.2" fill="#d9661f"/>
<rect x="1577.91" y="1968.2" width="19.04" height="32.2" fill="#8b43bc"/>
<rect x="1596.95" y="1968.2" width="19.04" height="32.2" fill="#c979b5"/>
<rect x="1615.99" y="1968.2" width="19.04" height="32.2" fill="#3d7fba"/>
<rect x="1635.03" y="1968.2" width="19.04" height="32.2" fill="#45995d"/>
<rect x="1654.07" y="1968.2" width="19.04" height="32.2" fill="#d9661f"/>
<rect x="1673.11" y="1968.2" width="19.04" height="32.2" fill="#6cbdea"/>
<rect x="1692.15" y="1968.2" width="19.04" height="32.2" fill="#e8ec4d"/>
<rect x="1711.19" y="1968.2" width="19.04" height="32.2" fill="#b9282b"/>
<rect x="1730.23" y="1968.2" width="19.04" height="32.2" fill="#3d7fba"/>
<rect x="1749.27" y="1968.2" width="19.04" height="32.2" fill="#d9661f"/>
<rect x="1768.31" y="1968.2" width="19.04" height="32.2" fill="#b9282b"/>
<rect x="1787.35" y="1968.2" width="19.04" height="32.2" fill="#6cbdea"/>
<rect x="1806.39" y="1968.2" width="19.04" height="32.2" fill="#e8ec4d"/>
<rect x="1825.43" y="1968.2" width="19.04" height="32.2" fill="#b9282b"/>
<rect x="1844.47" y="1968.2" width="19.04" height="32.2" fill="#e8ec4d"/>
<rect x="1863.51" y="1968.2" width="19.04" height="32.2" fill="#45995d"/>
<rect x="1882.55" y="1968.2" width="19.04" height="32.2" fill="#c979b5"/>
<rect x="1901.59" y="1968.2" width="19.04" height="32.2" fill="#d9661f"/>
<rect x="1920.63" y="1968.2" width="19.04" height="32.2" fill="#c979b5"/>
<rect x="1939.67" y="1968.2" width="19.04" height="32.2" fill="#8b43bc"/>
<rect x="1958.71" y="1968.2" width="19.04" height="32.2" fill="#3d7fba"/>
<rect x="1977.75" y="1968.2" width="19.04" height="32.2" fill="#45995d"/>
<rect x="1996.79" y="1968.2" width="19.04" height="32.2" fill="#3d7fba"/>
<rect x="2015.83" y="1968.2" width="19.04" height="32.2" fill="#45995d"/>
<rect x="2034.87" y="1968.2" width="19.04" height="32.2" fill="#b9282b"/>
<rect x="2053.91" y="1968.2" width="19.04" height="32.2" fill="#3d7fba"/>
<rect x="2072.95" y="1968.2" width="19.04" height="32.2" fill="#b9282b"/>
<rect x="2091.99" y="1968.2" width="19.04" height="32.2" fill="#42ab7b"/>
<rect x="2111.03" y="1968.2" width="19.04" height="32.2" fill="#6cbdea"/>
<rect x="2130.07" y="1968.2" width="19.04" height="32.2" fill="#3d7fba"/>
<rect x="226.07" y="2000.4" width="19.04" height="31.6" fill="#e89e63"/>
<rect x="245.11" y="2000.4" width="19.04" height="31.6" fill="#4fab93"/>
<rect x="264.15" y="2000.4" width="19.04" height="31.6" fill="#e89e63"/>
<rect x="283.19" y="2000.4" width="19.04" height="31.6" fill="#4fab93"/>
<rect x="302.23" y="2000.4" width="19.04" height="31.6" fill="#e89e63"/>
<rect x="321.27" y="2000.4" width="19.04" height="31.6" fill="#4fab93"/>
<rect x="340.31" y="2000.4" width="19.04" height="31.6" fill="#e89e63"/>
<rect x="359.35" y="2000.4" width="19.04" height="31.6" fill="#4fab93"/>
<rect x="378.39" y="2000.4" width="76.16" height="31.6" fill="#e89e63"/>
<rect x="454.55" y="2000.4" width="57.12" height="31.6" fill="#4fab93"/>
<rect x="511.67" y="2000.4" width="19.04" height="31.6" fill="#e89e63"/>
<rect x="530.71" y="2000.4" width="76.16" height="31.6" fill="#4fab93"/>
<rect x="606.87" y="2000.4" width="19.04" height="31.6" fill="#e89e63"/>
<rect x="625.91" y="2000.4" width="19.04" height="31.6" fill="#4fab93"/>
<rect x="644.95" y="2000.4" width="19.04" height="31.6" fill="#e89e63"/>
<rect x="663.99" y="2000.4" width="38.08" height="31.6" fill="#4fab93"/>
<rect x="702.07" y="2000.4" width="19.04" height="31.6" fill="#e89e63"/>
<rect x="721.11" y="2000.4" width="38.08" height="31.6" fill="#4fab93"/>
<rect x="759.19" y="2000.4" width="38.08" height="31.6" fill="#e89e63"/>
<rect x="797.27" y="2000.4" width="19.04" height="31.6" fill="#4fab93"/>
<rect x="816.31" y="2000.4" width="19.04" height="31.6" fill="#e89e63"/>
<rect x="835.35" y="2000.4" width="38.08" height="31.6" fill="#4fab93"/>
<rect x="873.43" y="2000.4" width="19.04" height="31.6" fill="#e89e63"/>
<rect x="892.47" y="2000.4" width="38.08" height="31.6" fill="#4fab93"/>
<rect x="930.55" y="2000.4" width="19.04" height="31.6" fill="#e89e63"/>
<rect x="949.59" y="2000.4" width="38.08" height="31.6" fill="#4fab93"/>
<rect x="987.67" y="2000.4" width="19.04" height="31.6" fill="#e89e63"/>
<rect x="1006.71" y="2000.4" width="38.08" height="31.6" fill="#4fab93"/>
<rect x="1044.79" y="2000.4" width="38.08" height="31.6" fill="#e89e63"/>
<rect x="1082.87" y="2000.4" width="19.04" height="31.6" fill="#4fab93"/>
<rect x="1101.91" y="2000.4" width="19.04" height="31.6" fill="#e89e63"/>
<rect x="1120.95" y="2000.4" width="19.04" height="31.6" fill="#4fab93"/>
<rect x="1139.99" y="2000.4" width="19.04" height="31.6" fill="#e89e63"/>
<rect x="1159.03" y="2000.4" width="57.12" height="31.6" fill="#4fab93"/>
<rect x="1216.15" y="2000.4" width="76.16" height="31.6" fill="#e89e63"/>
<rect x="1292.31" y="2000.4" width="133.28" height="31.6" fill="#4fab93"/>
<rect x="1425.59" y="2000.4" width="19.04" height="31.6" fill="#e89e63"/>
<rect x="1444.63" y="2000.4" width="57.12" height="31.6" fill="#4fab93"/>
<rect x="1501.75" y="2000.4" width="19.04" height="31.6" fill="#e89e63"/>
<rect x="1520.79" y="2000.4" width="19.04" height="31.6" fill="#4fab93"/>
<rect x="1539.83" y="2000.4" width="19.04" height="31.6" fill="#e89e63"/>
<rect x="1558.87" y="2000.4" width="19.04" height="31.6" fill="#4fab93"/>
<rect x="1577.91" y="2000.4" width="38.08" height="31.6" fill="#e89e63"/>
<rect x="1615.99" y="2000.4" width="57.12" height="31.6" fill="#4fab93"/>
<rect x="1673.11" y="2000.4" width="19.04" height="31.6" fill="#e89e63"/>
<rect x="1692.15" y="2000.4" width="76.16" height="31.6" fill="#4fab93"/>
<rect x="1768.31" y="2000.4" width="19.04" height="31.6" fill="#e89e63"/>
<rect x="1787.35" y="2000.4" width="38.08" height="31.6" fill="#4fab93"/>
<rect x="1825.43" y="2000.4" width="19.04" height="31.6" fill="#e89e63"/>
<rect x="1844.47" y="2000.4" width="19.04" height="31.6" fill="#4fab93"/>
<rect x="1863.51" y="2000.4" width="19.04" height="31.6" fill="#e89e63"/>
<rect x="1882.55" y="2000.4" width="19.04" height="31.6" fill="#4fab93"/>
<rect x="1901.59" y="2000.4" width="19.04" height="31.6" fill="#e89e63"/>
<rect x="1920.63" y="2000.4" width="38.08" height="31.6" fill="#4fab93"/>
<rect x="1958.71" y="2000.4" width="19.04" height="31.6" fill="#e89e63"/>
<rect x="1977.75" y="2000.4" width="19.04" height="31.6" fill="#4fab93"/>
<rect x="1996.79" y="2000.4" width="38.08" height="31.6" fill="#e89e63"/>
<rect x="2034.87" y="2000.4" width="38.08" height="31.6" fill="#4fab93"/>
<rect x="2072.95" y="2000.4" width="19.04" height="31.6" fill="#e89e63"/>
<rect x="2091.99" y="2000.4" width="57.12" height="31.6" fill="#4fab93"/>
<rect x="226.07" y="2032" width="19.04" height="31.8" fill="#264690"/>
<rect x="245.11" y="2032" width="19.04" height="31.8" fill="#0c0769"/>
<rect x="264.15" y="2032" width="38.08" height="31.8" fill="#264690"/>
<rect x="302.23" y="2032" width="19.04" height="31.8" fill="#73dde6"/>
<rect x="321.27" y="2032" width="19.04" height="31.8" fill="#4aa3ca"/>
<rect x="340.31" y="2032" width="19.04" height="31.8" fill="#0c0769"/>
<rect x="359.35" y="2032" width="19.04" height="31.8" fill="#3e84be"/>
<rect x="378.39" y="2032" width="19.04" height="31.8" fill="#73dde6"/>
<rect x="397.43" y="2032" width="19.04" height="31.8" fill="#4aa3ca"/>
<rect x="416.47" y="2032" width="19.04" height="31.8" fill="#3e84be"/>
<rect x="435.51" y="2032" width="19.04" height="31.8" fill="#4aa3ca"/>
<rect x="454.55" y="2032" width="19.04" height="31.8" fill="#0c0769"/>
<rect x="473.59" y="2032" width="19.04" height="31.8" fill="#264690"/>
<rect x="492.63" y="2032" width="19.04" height="31.8" fill="#9eeeee"/>
<rect x="511.67" y="2032" width="19.04" height="31.8" fill="#264690"/>
<rect x="530.71" y="2032" width="19.04" height="31.8" fill="#3e84be"/>
<rect x="549.75" y="2032" width="19.04" height="31.8" fill="#4aa3ca"/>
<rect x="568.79" y="2032" width="19.04" height="31.8" fill="#3e84be"/>
<rect x="587.83" y="2032" width="38.08" height="31.8" fill="#264690"/>
<rect x="625.91" y="2032" width="38.08" height="31.8" fill="#4aa3ca"/>
<rect x="663.99" y="2032" width="38.08" height="31.8" fill="#264690"/>
<rect x="702.07" y="2032" width="38.08" height="31.8" fill="#4aa3ca"/>
<rect x="740.15" y="2032" width="19.04" height="31.8" fill="#5bc5d9"/>
<rect x="759.19" y="2032" width="57.12" height="31.8" fill="#4aa3ca"/>
<rect x="816.31" y="2032" width="19.04" height="31.8" fill="#73dde6"/>
<rect x="835.35" y="2032" width="38.08" height="31.8" fill="#264690"/>
<rect x="873.43" y="2032" width="19.04" height="31.8" fill="#5bc5d9"/>
<rect x="892.47" y="2032" width="19.04" height="31.8" fill="#73dde6"/>
<rect x="911.51" y="2032" width="19.04" height="31.8" fill="#5bc5d9"/>
<rect x="930.55" y="2032" width="76.16" height="31.8" fill="#4aa3ca"/>
<rect x="1006.71" y="2032" width="38.08" height="31.8" fill="#5bc5d9"/>
<rect x="1044.79" y="2032" width="19.04" height="31.8" fill="#9eeeee"/>
<rect x="1063.83" y="2032" width="57.12" height="31.8" fill="#4aa3ca"/>
<rect x="1120.95" y="2032" width="19.04" height="31.8" fill="#264690"/>
<rect x="1139.99" y="2032" width="19.04" height="31.8" fill="#73dde6"/>
<rect x="1159.03" y="2032" width="19.04" height="31.8" fill="#4aa3ca"/>
<rect x="1178.07" y="2032" width="19.04" height="31.8" fill="#5bc5d9"/>
<rect x="1197.11" y="2032" width="19.04" height="31.8" fill="#0c0769"/>
<rect x="1216.15" y="2032" width="19.04" height="31.8" fill="#73dde6"/>
<rect x="1235.19" y="2032" width="19.04" height="31.8" fill="#3e84be"/>
<rect x="1254.23" y="2032" width="19.04" height="31.8" fill="#264690"/>
<rect x="1273.27" y="2032" width="19.04" height="31.8" fill="#5bc5d9"/>
<rect x="1292.31" y="2032" width="19.04" height="31.8" fill="#0c0769"/>
<rect x="1311.35" y="2032" width="19.04" height="31.8" fill="#5bc5d9"/>
<rect x="1330.39" y="2032" width="19.04" height="31.8" fill="#264690"/>
<rect x="1349.43" y="2032" width="19.04" height="31.8" fill="#4aa3ca"/>
<rect x="1368.47" y="2032" width="19.04" height="31.8" fill="#5bc5d9"/>
<rect x="1387.51" y="2032" width="19.04" height="31.8" fill="#73dde6"/>
<rect x="1406.55" y="2032" width="19.04" height="31.8" fill="#4aa3ca"/>
<rect x="1425.59" y="2032" width="19.04" height="31.8" fill="#73dde6"/>
<rect x="1444.63" y="2032" width="38.08" height="31.8" fill="#4aa3ca"/>
<rect x="1482.71" y="2032" width="19.04" height="31.8" fill="#3e84be"/>
<rect x="1501.75" y="2032" width="19.04" height="31.8" fill="#0c0769"/>
<rect x="1520.79" y="2032" width="38.08" height="31.8" fill="#5bc5d9"/>
<rect x="1558.87" y="2032" width="38.08" height="31.8" fill="#264690"/>
<rect x="1596.95" y="2032" width="19.04" height="31.8" fill="#5bc5d9"/>
<rect x="1615.99" y="2032" width="19.04" height="31.8" fill="#4aa3ca"/>
<rect x="1635.03" y="2032" width="19.04" height="31.8" fill="#5bc5d9"/>
<rect x="1654.07" y="2032" width="19.04" height="31.8" fill="#264690"/>
<rect x="1673.11" y="2032" width="38.08" height="31.8" fill="#4aa3ca"/>
<rect x="1711.19" y="2032" width="19.04" height="31.8" fill="#0c0769"/>
<rect x="1730.23" y="2032" width="19.04" height="31.8" fill="#4aa3ca"/>
<rect x="1749.27" y="2032" width="19.04" height="31.8" fill="#0c0769"/>
<rect x="1768.31" y="2032" width="38.08" height="31.8" fill="#264690"/>
<rect x="1806.39" y="2032" width="19.04" height="31.8" fill="#9eeeee"/>
<rect x="1825.43" y="2032" width="38.08" height="31.8" fill="#3e84be"/>
<rect x="1863.51" y="2032" width="19.04" height="31.8" fill="#0c0769"/>
<rect x="1882.55" y="2032" width="19.04" height="31.8" fill="#3e84be"/>
<rect x="1901.59" y="2032" width="19.04" height="31.8" fill="#264690"/>
<rect x="1920.63" y="2032" width="19.04" height="31.8" fill="#9eeeee"/>
<rect x="1939.67" y="2032" width="19.04" height="31.8" fill="#4aa3ca"/>
<rect x="1958.71" y="2032" width="19.04" height="31.8" fill="#0c0769"/>
<rect x="1977.75" y="2032" width="19.04" height="31.8" fill="#73dde6"/>
<rect x="1996.79" y="2032" width="19.04" height="31.8" fill="#5bc5d9"/>
<rect x="2015.83" y="2032" width="19.04" height="31.8" fill="#4aa3ca"/>
<rect x="2034.87" y="2032" width="19.04" height="31.8" fill="#73dde6"/>
<rect x="2053.91" y="2032" width="19.04" height="31.8" fill="#3e84be"/>
<rect x="2072.95" y="2032" width="19.04" height="31.8" fill="#5bc5d9"/>
<rect x="2091.99" y="2032" width="19.04" height="31.8" fill="#4aa3ca"/>
<rect x="2111.03" y="2032" width="19.04" height="31.8" fill="#264690"/>
<rect x="2130.07" y="2032" width="19.04" height="31.8" fill="#4aa3ca"/>
<path d="M245.11 1935.9V2063.8M264.15 1935.9V2063.8M283.19 1935.9V2063.8M302.23 1935.9V2063.8M321.27 1935.9V2063.8M340.31 1935.9V2063.8M359.35 1935.9V2063.8M378.39 1935.9V2063.8M397.43 1935.9V2063.8M416.47 1935.9V2063.8M435.51 1935.9V2063.8M454.55 1935.9V2063.8M473.59 1935.9V2063.8M492.63 1935.9V2063.8M511.67 1935.9V2063.8M530.71 1935.9V2063.8M549.75 1935.9V2063.8M568.79 1935.9V2063.8M587.83 1935.9V2063.8M606.87 1935.9V2063.8M625.91 1935.9V2063.8M644.95 1935.9V2063.8M663.99 1935.9V2063.8M683.03 1935.9V2063.8M702.07 1935.9V2063.8M721.11 1935.9V2063.8M740.15 1935.9V2063.8M759.19 1935.9V2063.8M778.23 1935.9V2063.8M797.27 1935.9V2063.8M816.31 1935.9V2063.8M835.35 1935.9V2063.8M854.39 1935.9V2063.8M873.43 1935.9V2063.8M892.47 1935.9V2063.8M911.51 1935.9V2063.8M930.55 1935.9V2063.8M949.59 1935.9V2063.8M968.63 1935.9V2063.8M987.67 1935.9V2063.8M1006.71 1935.9V2063.8M1025.75 1935.9V2063.8M1044.79 1935.9V2063.8M1063.83 1935.9V2063.8M1082.87 1935.9V2063.8M1101.91 1935.9V2063.8M1120.95 1935.9V2063.8M1139.99 1935.9V2063.8M1159.03 1935.9V2063.8M1178.07 1935.9V2063.8M1197.11 1935.9V2063.8M1216.15 1935.9V2063.8M1235.19 1935.9V2063.8M1254.23 1935.9V2063.8M1273.27 1935.9V2063.8M1292.31 1935.9V2063.8M1311.35 1935.9V2063.8M1330.39 1935.9V2063.8M1349.43 1935.9V2063.8M1368.47 1935.9V2063.8M1387.51 1935.9V2063.8M1406.55 1935.9V2063.8M1425.59 1935.9V2063.8M1444.63 1935.9V2063.8M1463.67 1935.9V2063.8M1482.71 1935.9V2063.8M1501.75 1935.9V2063.8M1520.79 1935.9V2063.8M1539.83 1935.9V2063.8M1558.87 1935.9V2063.8M1577.91 1935.9V2063.8M1596.95 1935.9V2063.8M1615.99 1935.9V2063.8M1635.03 1935.9V2063.8M1654.07 1935.9V2063.8M1673.11 1935.9V2063.8M1692.15 1935.9V2063.8M1711.19 1935.9V2063.8M1730.23 1935.9V2063.8M1749.27 1935.9V2063.8M1768.31 1935.9V2063.8M1787.35 1935.9V2063.8M1806.39 1935.9V2063.8M1825.43 1935.9V2063.8M1844.47 1935.9V2063.8M1863.51 1935.9V2063.8M1882.55 1935.9V2063.8M1901.59 1935.9V2063.8M1920.63 1935.9V2063.8M1939.67 1935.9V2063.8M1958.71 1935.9V2063.8M1977.75 1935.9V2063.8M1996.79 1935.9V2063.8M2015.83 1935.9V2063.8M2034.87 1935.9V2063.8M2053.91 1935.9V2063.8M2072.95 1935.9V2063.8M2091.99 1935.9V2063.8M2111.03 1935.9V2063.8M2130.07 1935.9V2063.8" stroke="#fff" stroke-opacity="0.22" stroke-width="0.8" fill="none"/>
<path d="M226.07 1967.75H2149.1" stroke="#c4f2f4" stroke-width="1.0" fill="none"/>
<path d="M235.59 1935.9V1888.15H254.63V1935.9M245.11 1888.15V1868.24H273.67V1935.9M259.39 1868.24V1832.65H292.71V1935.9M276.05 1832.65V1786.51H311.75V1935.9M330.79 1935.9V1789.09H349.83V1935.9M293.9 1786.51V1774.33H340.31V1789.09M368.87 1935.9V1890.73H387.91V1935.9M378.39 1890.73V1863.33H406.95V1935.9M392.67 1863.33V1848.57H425.99V1935.9M409.33 1848.57V1824.45H445.03V1935.9M427.18 1824.45V1817.19H464.07V1935.9M483.11 1935.9V1828.67H502.15V1935.9M445.62 1817.19V1802.2H492.63V1828.67M521.19 1935.9V1820.47H540.23V1935.9M559.27 1935.9V1906.65H578.31V1935.9M568.79 1906.65V1883.23H597.35V1935.9M583.07 1883.23V1846H616.39V1935.9M635.43 1935.9V1903.61H654.47V1935.9M644.95 1903.61V1856.3H673.51V1935.9M599.73 1846V1830.07H659.23V1856.3M530.71 1820.47V1814.61H629.48V1830.07M469.13 1802.2V1793.54H580.1V1814.61M317.1 1774.33V1764.03H524.61V1793.54M692.55 1935.9V1921.87H711.59V1935.9M702.07 1921.87V1913.91H730.63V1935.9M716.35 1913.91V1908.52H749.67V1935.9M733.01 1908.52V1888.62H768.71V1935.9M787.75 1935.9V1896.58H806.79V1935.9M750.86 1888.62V1882.06H797.27V1896.58M825.83 1935.9V1900.8H844.87V1935.9M835.35 1900.8V1887.68H863.91V1935.9M774.07 1882.06V1867.31H849.63V1887.68M420.86 1764.03V1754.43H811.85V1867.31M882.95 1935.9V1890.26H901.99V1935.9M892.47 1890.26V1886.74H921.03V1935.9M906.75 1886.74V1885.34H940.07V1935.9M959.11 1935.9V1897.75H978.15V1935.9M923.41 1885.34V1865.2H968.63V1897.75M946.02 1865.2V1851.38H997.19V1935.9M1016.23 1935.9V1877.38H1035.27V1935.9M971.61 1851.38V1842.01H1025.75V1877.38M998.68 1842.01V1830.54H1054.31V1935.9M1026.49 1830.54V1819.3H1073.35V1935.9M1092.39 1935.9V1909.7H1111.43V1935.9M1101.91 1909.7V1855.13H1130.47V1935.9M1149.51 1935.9V1862.15H1168.55V1935.9M1116.19 1855.13V1843.42H1159.03V1862.15M1049.92 1819.3V1805.71H1137.61V1843.42M1187.59 1935.9V1885.34H1206.63V1935.9M1197.11 1885.34V1872.93H1225.67V1935.9M1244.71 1935.9V1882.3H1263.75V1935.9M1211.39 1872.93V1842.01H1254.23V1882.3M1282.79 1935.9V1864.5H1301.83V1935.9M1292.31 1864.5V1851.85H1320.87V1935.9M1232.81 1842.01V1826.32H1306.59V1851.85M1093.77 1805.71V1777.38H1269.7V1826.32M1339.91 1935.9V1859.11H1358.95V1935.9M1349.43 1859.11V1832.41H1377.99V1935.9M1363.71 1832.41V1813.44H1397.03V1935.9M1416.07 1935.9V1865.67H1435.11V1935.9M1454.15 1935.9V1871.05H1473.19V1935.9M1425.59 1865.67V1843.19H1463.67V1871.05M1492.23 1935.9V1871.29H1511.27V1935.9M1444.63 1843.19V1821.87H1501.75V1871.29M1380.37 1813.44V1798.45H1473.19V1821.87M1181.73 1777.38V1773.86H1426.78V1798.45M616.35 1754.43V1739.67H1304.26V1773.86M1530.31 1935.9V1821.87H1549.35V1935.9M1568.39 1935.9V1917.89H1587.43V1935.9M1577.91 1917.89V1901.03H1606.47V1935.9M1625.51 1935.9V1906.65H1644.55V1935.9M1592.19 1901.03V1882.76H1635.03V1906.65M1613.61 1882.76V1877.38H1663.59V1935.9M1682.63 1935.9V1880.42H1701.67V1935.9M1638.6 1877.38V1847.63H1692.15V1880.42M1665.38 1847.63V1839.44H1720.71V1935.9M1739.75 1935.9V1878.55H1758.79V1935.9M1777.83 1935.9V1904.61H1796.87V1935.9M1749.27 1878.55V1853.22H1787.35V1904.61M1815.91 1935.9V1888.53H1834.95V1935.9M1853.99 1935.9V1893.89H1873.03V1935.9M1825.43 1888.53V1868.56H1863.51V1893.89M1768.31 1853.22V1851.51H1844.47V1868.56M1693.04 1839.44V1833.01H1806.39V1851.51M1539.83 1821.87V1807.43H1749.72V1833.01M1892.07 1935.9V1877.33H1911.11V1935.9M1901.59 1877.33V1868.32H1930.15V1935.9M1915.87 1868.32V1833.49H1949.19V1935.9M1932.53 1833.49V1819.12H1968.23V1935.9M1644.77 1807.43V1803.54H1950.38V1819.12M1987.27 1935.9V1874.41H2006.31V1935.9M1996.79 1874.41V1855.66H2025.35V1935.9M2011.07 1855.66V1819.85H2044.39V1935.9M2027.73 1819.85V1813.77H2063.43V1935.9M2082.47 1935.9V1865.4H2101.51V1935.9M2091.99 1865.4V1828.13H2120.55V1935.9M2045.58 1813.77V1807.92H2106.27V1828.13M2075.93 1807.92V1804.51H2139.59V1935.9M1797.58 1803.54V1766.52H2107.76V1804.51M960.3 1739.67V1734.37H1952.67V1766.52" stroke="#3c3c3c" stroke-width="1.15" fill="none" stroke-linejoin="miter"/>
<text font-size="44.5" x="-0.11" y="1795.9" font-weight="bold">c</text>
<text font-size="25.31" x="126.56 142.6 149.74 162.9 178.31 193.89 207.05" y="1958.9">disease</text>
<text font-size="25.31" x="15.02 28.18 43.6 59.75 75.78 91.33 107.23 120.88 128.03 144.16 160.7 169.22 185.31 200.91 216.46" y="1993.1">sequencing pool</text>
<text font-size="25.31" x="178.48 191.64 207.2" y="2023.9">sex</text>
<text font-size="25.31" x="173.99 189.44 205.35" y="2056.3">age</text>
<rect x="230" y="2332.7" width="8.17" height="35.9" fill="#a8d35b"/>
<rect x="238.12" y="2332.7" width="2.08" height="35.9" fill="#8e688e"/>
<rect x="240.15" y="2332.7" width="6.14" height="35.9" fill="#a72f33"/>
<rect x="246.24" y="2332.7" width="4.11" height="35.9" fill="#8e688e"/>
<rect x="250.3" y="2332.7" width="2.08" height="35.9" fill="#a72f33"/>
<rect x="252.33" y="2332.7" width="2.08" height="35.9" fill="#8e688e"/>
<rect x="254.36" y="2332.7" width="4.11" height="35.9" fill="#a8d35b"/>
<rect x="258.42" y="2332.7" width="28.47" height="35.9" fill="#a72f33"/>
<rect x="286.85" y="2332.7" width="4.11" height="35.9" fill="#f6f6b2"/>
<rect x="290.91" y="2332.7" width="2.08" height="35.9" fill="#a72f33"/>
<rect x="292.94" y="2332.7" width="4.11" height="35.9" fill="#f6f6b2"/>
<rect x="297" y="2332.7" width="99.53" height="35.9" fill="#a72f33"/>
<rect x="396.48" y="2332.7" width="75.17" height="35.9" fill="#f6f6b2"/>
<rect x="471.6" y="2332.7" width="16.29" height="35.9" fill="#a72f33"/>
<rect x="487.84" y="2332.7" width="77.2" height="35.9" fill="#f6f6b2"/>
<rect x="564.99" y="2332.7" width="4.11" height="35.9" fill="#5d1218"/>
<rect x="569.05" y="2332.7" width="8.17" height="35.9" fill="#dda447"/>
<rect x="577.18" y="2332.7" width="2.08" height="35.9" fill="#f6f6b2"/>
<rect x="579.21" y="2332.7" width="69.08" height="35.9" fill="#dda447"/>
<rect x="648.23" y="2332.7" width="2.08" height="35.9" fill="#5d1218"/>
<rect x="650.26" y="2332.7" width="77.2" height="35.9" fill="#dda447"/>
<rect x="727.41" y="2332.7" width="8.17" height="35.9" fill="#a8d35b"/>
<rect x="735.54" y="2332.7" width="2.08" height="35.9" fill="#6aa64e"/>
<rect x="737.57" y="2332.7" width="2.08" height="35.9" fill="#a8d35b"/>
<rect x="739.6" y="2332.7" width="16.29" height="35.9" fill="#f6f6b2"/>
<rect x="755.84" y="2332.7" width="4.11" height="35.9" fill="#a72f33"/>
<rect x="759.9" y="2332.7" width="4.11" height="35.9" fill="#f6f6b2"/>
<rect x="763.96" y="2332.7" width="14.26" height="35.9" fill="#a72f33"/>
<rect x="778.17" y="2332.7" width="18.32" height="35.9" fill="#dda447"/>
<rect x="796.44" y="2332.7" width="18.32" height="35.9" fill="#5d1218"/>
<rect x="814.72" y="2332.7" width="16.29" height="35.9" fill="#8e688e"/>
<rect x="830.96" y="2332.7" width="144.2" height="35.9" fill="#a8d35b"/>
<rect x="975.11" y="2332.7" width="176.68" height="35.9" fill="#2c666b"/>
<rect x="1151.74" y="2332.7" width="172.62" height="35.9" fill="#8bd2dc"/>
<rect x="1324.31" y="2332.7" width="69.08" height="35.9" fill="#8e688e"/>
<rect x="1393.34" y="2332.7" width="4.11" height="35.9" fill="#5d1218"/>
<rect x="1397.4" y="2332.7" width="4.11" height="35.9" fill="#8e688e"/>
<rect x="1401.46" y="2332.7" width="2.08" height="35.9" fill="#5d1218"/>
<rect x="1403.49" y="2332.7" width="2.08" height="35.9" fill="#8e688e"/>
<rect x="1405.52" y="2332.7" width="6.14" height="35.9" fill="#5d1218"/>
<rect x="1411.61" y="2332.7" width="32.53" height="35.9" fill="#8e688e"/>
<rect x="1444.1" y="2332.7" width="2.08" height="35.9" fill="#5d1218"/>
<rect x="1446.13" y="2332.7" width="26.44" height="35.9" fill="#8e688e"/>
<rect x="1472.52" y="2332.7" width="2.08" height="35.9" fill="#5d1218"/>
<rect x="1474.55" y="2332.7" width="6.14" height="35.9" fill="#8e688e"/>
<rect x="1480.64" y="2332.7" width="2.08" height="35.9" fill="#5d1218"/>
<rect x="1482.67" y="2332.7" width="4.11" height="35.9" fill="#8e688e"/>
<rect x="1486.73" y="2332.7" width="81.26" height="35.9" fill="#5d1218"/>
<rect x="1567.94" y="2332.7" width="2.08" height="35.9" fill="#dda447"/>
<rect x="1569.97" y="2332.7" width="4.11" height="35.9" fill="#5d1218"/>
<rect x="1574.04" y="2332.7" width="2.08" height="35.9" fill="#dda447"/>
<rect x="1576.07" y="2332.7" width="34.56" height="35.9" fill="#5d1218"/>
<rect x="1610.58" y="2332.7" width="2.08" height="35.9" fill="#8e688e"/>
<rect x="1612.61" y="2332.7" width="16.29" height="35.9" fill="#5d1218"/>
<rect x="1628.85" y="2332.7" width="174.65" height="35.9" fill="#6b2548"/>
<rect x="1803.46" y="2332.7" width="168.56" height="35.9" fill="#6aa64e"/>
<rect x="1971.97" y="2332.7" width="176.68" height="35.9" fill="#407744"/>
<rect x="230" y="2368.6" width="2.08" height="36.1" fill="#33527c"/>
<rect x="232.03" y="2368.6" width="2.08" height="36.1" fill="#f0293f"/>
<rect x="234.06" y="2368.6" width="8.17" height="36.1" fill="#6b9bbe"/>
<rect x="242.18" y="2368.6" width="10.2" height="36.1" fill="#f0293f"/>
<rect x="252.33" y="2368.6" width="2.08" height="36.1" fill="#6b9bbe"/>
<rect x="254.36" y="2368.6" width="6.14" height="36.1" fill="#33527c"/>
<rect x="260.45" y="2368.6" width="2.08" height="36.1" fill="#f0293f"/>
<rect x="262.48" y="2368.6" width="6.14" height="36.1" fill="#6b9bbe"/>
<rect x="268.58" y="2368.6" width="2.08" height="36.1" fill="#33527c"/>
<rect x="270.61" y="2368.6" width="8.17" height="36.1" fill="#6b9bbe"/>
<rect x="278.73" y="2368.6" width="2.08" height="36.1" fill="#f0293f"/>
<rect x="280.76" y="2368.6" width="6.14" height="36.1" fill="#6b9bbe"/>
<rect x="286.85" y="2368.6" width="6.14" height="36.1" fill="#33527c"/>
<rect x="292.94" y="2368.6" width="2.08" height="36.1" fill="#848484"/>
<rect x="294.97" y="2368.6" width="38.63" height="36.1" fill="#6b9bbe"/>
<rect x="333.54" y="2368.6" width="2.08" height="36.1" fill="#f0293f"/>
<rect x="335.57" y="2368.6" width="2.08" height="36.1" fill="#848484"/>
<rect x="337.6" y="2368.6" width="2.08" height="36.1" fill="#f0293f"/>
<rect x="339.63" y="2368.6" width="4.11" height="36.1" fill="#6b9bbe"/>
<rect x="343.69" y="2368.6" width="2.08" height="36.1" fill="#f0293f"/>
<rect x="345.73" y="2368.6" width="2.08" height="36.1" fill="#6b9bbe"/>
<rect x="347.76" y="2368.6" width="2.08" height="36.1" fill="#848484"/>
<rect x="349.79" y="2368.6" width="2.08" height="36.1" fill="#6b9bbe"/>
<rect x="351.82" y="2368.6" width="2.08" height="36.1" fill="#f0293f"/>
<rect x="353.85" y="2368.6" width="4.11" height="36.1" fill="#6b9bbe"/>
<rect x="357.91" y="2368.6" width="2.08" height="36.1" fill="#33527c"/>
<rect x="359.94" y="2368.6" width="4.11" height="36.1" fill="#6b9bbe"/>
<rect x="364" y="2368.6" width="2.08" height="36.1" fill="#f0293f"/>
<rect x="366.03" y="2368.6" width="2.08" height="36.1" fill="#848484"/>
<rect x="368.06" y="2368.6" width="4.11" height="36.1" fill="#6b9bbe"/>
<rect x="372.12" y="2368.6" width="4.11" height="36.1" fill="#f0293f"/>
<rect x="376.18" y="2368.6" width="4.11" height="36.1" fill="#6b9bbe"/>
<rect x="380.24" y="2368.6" width="2.08" height="36.1" fill="#848484"/>
<rect x="382.27" y="2368.6" width="14.26" height="36.1" fill="#6b9bbe"/>
<rect x="396.48" y="2368.6" width="2.08" height="36.1" fill="#f0293f"/>
<rect x="398.51" y="2368.6" width="2.08" height="36.1" fill="#6b9bbe"/>
<rect x="400.54" y="2368.6" width="2.08" height="36.1" fill="#f0293f"/>
<rect x="402.57" y="2368.6" width="4.11" height="36.1" fill="#6b9bbe"/>
<rect x="406.63" y="2368.6" width="2.08" height="36.1" fill="#f0293f"/>
<rect x="408.66" y="2368.6" width="2.08" height="36.1" fill="#848484"/>
<rect x="410.69" y="2368.6" width="2.08" height="36.1" fill="#6b9bbe"/>
<rect x="412.72" y="2368.6" width="2.08" height="36.1" fill="#f0293f"/>
<rect x="414.75" y="2368.6" width="4.11" height="36.1" fill="#6b9bbe"/>
<rect x="418.81" y="2368.6" width="8.17" height="36.1" fill="#f0293f"/>
<rect x="426.94" y="2368.6" width="8.17" height="36.1" fill="#848484"/>
<rect x="435.06" y="2368.6" width="2.08" height="36.1" fill="#f0293f"/>
<rect x="437.09" y="2368.6" width="2.08" height="36.1" fill="#6b9bbe"/>
<rect x="439.12" y="2368.6" width="2.08" height="36.1" fill="#33527c"/>
<rect x="441.15" y="2368.6" width="2.08" height="36.1" fill="#f0293f"/>
<rect x="443.18" y="2368.6" width="2.08" height="36.1" fill="#6b9bbe"/>
<rect x="445.21" y="2368.6" width="4.11" height="36.1" fill="#f0293f"/>
<rect x="449.27" y="2368.6" width="2.08" height="36.1" fill="#6b9bbe"/>
<rect x="451.3" y="2368.6" width="2.08" height="36.1" fill="#848484"/>
<rect x="453.33" y="2368.6" width="2.08" height="36.1" fill="#f0293f"/>
<rect x="455.36" y="2368.6" width="2.08" height="36.1" fill="#6b9bbe"/>
<rect x="457.39" y="2368.6" width="4.11" height="36.1" fill="#33527c"/>
<rect x="461.45" y="2368.6" width="10.2" height="36.1" fill="#6b9bbe"/>
<rect x="471.6" y="2368.6" width="4.11" height="36.1" fill="#848484"/>
<rect x="475.66" y="2368.6" width="2.08" height="36.1" fill="#6b9bbe"/>
<rect x="477.69" y="2368.6" width="2.08" height="36.1" fill="#f0293f"/>
<rect x="479.72" y="2368.6" width="2.08" height="36.1" fill="#848484"/>
<rect x="481.75" y="2368.6" width="2.08" height="36.1" fill="#6b9bbe"/>
<rect x="483.78" y="2368.6" width="2.08" height="36.1" fill="#f0293f"/>
<rect x="485.81" y="2368.6" width="81.26" height="36.1" fill="#6b9bbe"/>
<rect x="567.02" y="2368.6" width="2.08" height="36.1" fill="#f0293f"/>
<rect x="569.05" y="2368.6" width="2.08" height="36.1" fill="#6b9bbe"/>
<rect x="571.08" y="2368.6" width="6.14" height="36.1" fill="#33527c"/>
<rect x="577.18" y="2368.6" width="2.08" height="36.1" fill="#f0293f"/>
<rect x="579.21" y="2368.6" width="73.14" height="36.1" fill="#6b9bbe"/>
<rect x="652.3" y="2368.6" width="4.11" height="36.1" fill="#f0293f"/>
<rect x="656.36" y="2368.6" width="2.08" height="36.1" fill="#848484"/>
<rect x="658.39" y="2368.6" width="8.17" height="36.1" fill="#6b9bbe"/>
<rect x="666.51" y="2368.6" width="4.11" height="36.1" fill="#f0293f"/>
<rect x="670.57" y="2368.6" width="2.08" height="36.1" fill="#848484"/>
<rect x="672.6" y="2368.6" width="2.08" height="36.1" fill="#6b9bbe"/>
<rect x="674.63" y="2368.6" width="2.08" height="36.1" fill="#f0293f"/>
<rect x="676.66" y="2368.6" width="2.08" height="36.1" fill="#33527c"/>
<rect x="678.69" y="2368.6" width="2.08" height="36.1" fill="#6b9bbe"/>
<rect x="680.72" y="2368.6" width="2.08" height="36.1" fill="#f0293f"/>
<rect x="682.75" y="2368.6" width="2.08" height="36.1" fill="#6b9bbe"/>
<rect x="684.78" y="2368.6" width="2.08" height="36.1" fill="#848484"/>
<rect x="686.81" y="2368.6" width="8.17" height="36.1" fill="#f0293f"/>
<rect x="694.93" y="2368.6" width="2.08" height="36.1" fill="#848484"/>
<rect x="696.96" y="2368.6" width="2.08" height="36.1" fill="#6b9bbe"/>
<rect x="698.99" y="2368.6" width="2.08" height="36.1" fill="#f0293f"/>
<rect x="701.02" y="2368.6" width="2.08" height="36.1" fill="#848484"/>
<rect x="703.05" y="2368.6" width="2.08" height="36.1" fill="#6b9bbe"/>
<rect x="705.08" y="2368.6" width="2.08" height="36.1" fill="#f0293f"/>
<rect x="707.11" y="2368.6" width="2.08" height="36.1" fill="#848484"/>
<rect x="709.14" y="2368.6" width="2.08" height="36.1" fill="#6b9bbe"/>
<rect x="711.17" y="2368.6" width="2.08" height="36.1" fill="#33527c"/>
<rect x="713.2" y="2368.6" width="4.11" height="36.1" fill="#6b9bbe"/>
<rect x="717.26" y="2368.6" width="2.08" height="36.1" fill="#f0293f"/>
<rect x="719.29" y="2368.6" width="2.08" height="36.1" fill="#6b9bbe"/>
<rect x="721.32" y="2368.6" width="2.08" height="36.1" fill="#33527c"/>
<rect x="723.35" y="2368.6" width="2.08" height="36.1" fill="#6b9bbe"/>
<rect x="725.38" y="2368.6" width="2.08" height="36.1" fill="#f0293f"/>
<rect x="727.41" y="2368.6" width="2.08" height="36.1" fill="#33527c"/>
<rect x="729.45" y="2368.6" width="2.08" height="36.1" fill="#6b9bbe"/>
<rect x="731.48" y="2368.6" width="2.08" height="36.1" fill="#f0293f"/>
<rect x="733.51" y="2368.6" width="2.08" height="36.1" fill="#848484"/>
<rect x="735.54" y="2368.6" width="2.08" height="36.1" fill="#6b9bbe"/>
<rect x="737.57" y="2368.6" width="2.08" height="36.1" fill="#f0293f"/>
<rect x="739.6" y="2368.6" width="2.08" height="36.1" fill="#33527c"/>
<rect x="741.63" y="2368.6" width="2.08" height="36.1" fill="#f0293f"/>
<rect x="743.66" y="2368.6" width="18.32" height="36.1" fill="#6b9bbe"/>
<rect x="761.93" y="2368.6" width="4.11" height="36.1" fill="#f0293f"/>
<rect x="765.99" y="2368.6" width="2.08" height="36.1" fill="#33527c"/>
<rect x="768.02" y="2368.6" width="22.38" height="36.1" fill="#6b9bbe"/>
<rect x="790.35" y="2368.6" width="2.08" height="36.1" fill="#848484"/>
<rect x="792.38" y="2368.6" width="4.11" height="36.1" fill="#6b9bbe"/>
<rect x="796.44" y="2368.6" width="2.08" height="36.1" fill="#f0293f"/>
<rect x="798.47" y="2368.6" width="10.2" height="36.1" fill="#6b9bbe"/>
<rect x="808.63" y="2368.6" width="2.08" height="36.1" fill="#f0293f"/>
<rect x="810.66" y="2368.6" width="2.08" height="36.1" fill="#6b9bbe"/>
<rect x="812.69" y="2368.6" width="2.08" height="36.1" fill="#33527c"/>
<rect x="814.72" y="2368.6" width="8.17" height="36.1" fill="#6b9bbe"/>
<rect x="822.84" y="2368.6" width="2.08" height="36.1" fill="#848484"/>
<rect x="824.87" y="2368.6" width="8.17" height="36.1" fill="#6b9bbe"/>
<rect x="832.99" y="2368.6" width="2.08" height="36.1" fill="#33527c"/>
<rect x="835.02" y="2368.6" width="6.14" height="36.1" fill="#6b9bbe"/>
<rect x="841.11" y="2368.6" width="2.08" height="36.1" fill="#33527c"/>
<rect x="843.14" y="2368.6" width="4.11" height="36.1" fill="#f0293f"/>
<rect x="847.2" y="2368.6" width="10.2" height="36.1" fill="#6b9bbe"/>
<rect x="857.35" y="2368.6" width="2.08" height="36.1" fill="#848484"/>
<rect x="859.38" y="2368.6" width="42.69" height="36.1" fill="#6b9bbe"/>
<rect x="902.02" y="2368.6" width="2.08" height="36.1" fill="#33527c"/>
<rect x="904.05" y="2368.6" width="2.08" height="36.1" fill="#6b9bbe"/>
<rect x="906.08" y="2368.6" width="4.11" height="36.1" fill="#f0293f"/>
<rect x="910.14" y="2368.6" width="6.14" height="36.1" fill="#6b9bbe"/>
<rect x="916.23" y="2368.6" width="8.17" height="36.1" fill="#f0293f"/>
<rect x="924.35" y="2368.6" width="16.29" height="36.1" fill="#848484"/>
<rect x="940.59" y="2368.6" width="18.32" height="36.1" fill="#6b9bbe"/>
<rect x="958.86" y="2368.6" width="2.08" height="36.1" fill="#f0293f"/>
<rect x="960.9" y="2368.6" width="14.26" height="36.1" fill="#6b9bbe"/>
<rect x="975.11" y="2368.6" width="2.08" height="36.1" fill="#f0293f"/>
<rect x="977.14" y="2368.6" width="2.08" height="36.1" fill="#33527c"/>
<rect x="979.17" y="2368.6" width="2.08" height="36.1" fill="#848484"/>
<rect x="981.2" y="2368.6" width="6.14" height="36.1" fill="#6b9bbe"/>
<rect x="987.29" y="2368.6" width="4.11" height="36.1" fill="#f0293f"/>
<rect x="991.35" y="2368.6" width="2.08" height="36.1" fill="#848484"/>
<rect x="993.38" y="2368.6" width="12.23" height="36.1" fill="#6b9bbe"/>
<rect x="1005.56" y="2368.6" width="2.08" height="36.1" fill="#f0293f"/>
<rect x="1007.59" y="2368.6" width="4.11" height="36.1" fill="#6b9bbe"/>
<rect x="1011.65" y="2368.6" width="2.08" height="36.1" fill="#f0293f"/>
<rect x="1013.68" y="2368.6" width="2.08" height="36.1" fill="#6b9bbe"/>
<rect x="1015.71" y="2368.6" width="2.08" height="36.1" fill="#33527c"/>
<rect x="1017.74" y="2368.6" width="30.5" height="36.1" fill="#6b9bbe"/>
<rect x="1048.2" y="2368.6" width="2.08" height="36.1" fill="#f0293f"/>
<rect x="1050.23" y="2368.6" width="10.2" height="36.1" fill="#6b9bbe"/>
<rect x="1060.38" y="2368.6" width="2.08" height="36.1" fill="#33527c"/>
<rect x="1062.41" y="2368.6" width="2.08" height="36.1" fill="#6b9bbe"/>
<rect x="1064.44" y="2368.6" width="2.08" height="36.1" fill="#f0293f"/>
<rect x="1066.47" y="2368.6" width="4.11" height="36.1" fill="#6b9bbe"/>
<rect x="1070.53" y="2368.6" width="2.08" height="36.1" fill="#f0293f"/>
<rect x="1072.56" y="2368.6" width="2.08" height="36.1" fill="#6b9bbe"/>
<rect x="1074.59" y="2368.6" width="4.11" height="36.1" fill="#f0293f"/>
<rect x="1078.65" y="2368.6" width="4.11" height="36.1" fill="#6b9bbe"/>
<rect x="1082.71" y="2368.6" width="2.08" height="36.1" fill="#f0293f"/>
<rect x="1084.74" y="2368.6" width="12.23" height="36.1" fill="#6b9bbe"/>
<rect x="1096.92" y="2368.6" width="4.11" height="36.1" fill="#f0293f"/>
<rect x="1100.98" y="2368.6" width="4.11" height="36.1" fill="#6b9bbe"/>
<rect x="1105.04" y="2368.6" width="4.11" height="36.1" fill="#f0293f"/>
<rect x="1109.1" y="2368.6" width="8.17" height="36.1" fill="#6b9bbe"/>
<rect x="1117.23" y="2368.6" width="2.08" height="36.1" fill="#f0293f"/>
<rect x="1119.26" y="2368.6" width="2.08" height="36.1" fill="#6b9bbe"/>
<rect x="1121.29" y="2368.6" width="2.08" height="36.1" fill="#f0293f"/>
<rect x="1123.32" y="2368.6" width="4.11" height="36.1" fill="#33527c"/>
<rect x="1127.38" y="2368.6" width="4.11" height="36.1" fill="#6b9bbe"/>
<rect x="1131.44" y="2368.6" width="6.14" height="36.1" fill="#f0293f"/>
<rect x="1137.53" y="2368.6" width="2.08" height="36.1" fill="#6b9bbe"/>
<rect x="1139.56" y="2368.6" width="2.08" height="36.1" fill="#848484"/>
<rect x="1141.59" y="2368.6" width="10.2" height="36.1" fill="#6b9bbe"/>
<rect x="1151.74" y="2368.6" width="2.08" height="36.1" fill="#f0293f"/>
<rect x="1153.77" y="2368.6" width="2.08" height="36.1" fill="#33527c"/>
<rect x="1155.8" y="2368.6" width="2.08" height="36.1" fill="#6b9bbe"/>
<rect x="1157.83" y="2368.6" width="2.08" height="36.1" fill="#33527c"/>
<rect x="1159.86" y="2368.6" width="2.08" height="36.1" fill="#848484"/>
<rect x="1161.89" y="2368.6" width="2.08" height="36.1" fill="#6b9bbe"/>
<rect x="1163.92" y="2368.6" width="2.08" height="36.1" fill="#f0293f"/>
<rect x="1165.95" y="2368.6" width="2.08" height="36.1" fill="#6b9bbe"/>
<rect x="1167.98" y="2368.6" width="8.17" height="36.1" fill="#f0293f"/>
<rect x="1176.1" y="2368.6" width="2.08" height="36.1" fill="#6b9bbe"/>
<rect x="1178.13" y="2368.6" width="2.08" height="36.1" fill="#33527c"/>
<rect x="1180.16" y="2368.6" width="2.08" height="36.1" fill="#6b9bbe"/>
<rect x="1182.19" y="2368.6" width="2.08" height="36.1" fill="#f0293f"/>
<rect x="1184.22" y="2368.6" width="2.08" height="36.1" fill="#6b9bbe"/>
<rect x="1186.25" y="2368.6" width="6.14" height="36.1" fill="#848484"/>
<rect x="1192.35" y="2368.6" width="8.17" height="36.1" fill="#6b9bbe"/>
<rect x="1200.47" y="2368.6" width="4.11" height="36.1" fill="#f0293f"/>
<rect x="1204.53" y="2368.6" width="4.11" height="36.1" fill="#6b9bbe"/>
<rect x="1208.59" y="2368.6" width="2.08" height="36.1" fill="#848484"/>
<rect x="1210.62" y="2368.6" width="2.08" height="36.1" fill="#6b9bbe"/>
<rect x="1212.65" y="2368.6" width="6.14" height="36.1" fill="#f0293f"/>
<rect x="1218.74" y="2368.6" width="2.08" height="36.1" fill="#6b9bbe"/>
<rect x="1220.77" y="2368.6" width="2.08" height="36.1" fill="#33527c"/>
<rect x="1222.8" y="2368.6" width="6.14" height="36.1" fill="#f0293f"/>
<rect x="1228.89" y="2368.6" width="79.23" height="36.1" fill="#6b9bbe"/>
<rect x="1308.07" y="2368.6" width="2.08" height="36.1" fill="#f0293f"/>
<rect x="1310.1" y="2368.6" width="4.11" height="36.1" fill="#6b9bbe"/>
<rect x="1314.16" y="2368.6" width="2.08" height="36.1" fill="#33527c"/>
<rect x="1316.19" y="2368.6" width="8.17" height="36.1" fill="#6b9bbe"/>
<rect x="1324.31" y="2368.6" width="4.11" height="36.1" fill="#f0293f"/>
<rect x="1328.37" y="2368.6" width="8.17" height="36.1" fill="#6b9bbe"/>
<rect x="1336.49" y="2368.6" width="2.08" height="36.1" fill="#f0293f"/>
<rect x="1338.52" y="2368.6" width="6.14" height="36.1" fill="#6b9bbe"/>
<rect x="1344.62" y="2368.6" width="2.08" height="36.1" fill="#33527c"/>
<rect x="1346.65" y="2368.6" width="58.93" height="36.1" fill="#6b9bbe"/>
<rect x="1405.52" y="2368.6" width="6.14" height="36.1" fill="#33527c"/>
<rect x="1411.61" y="2368.6" width="2.08" height="36.1" fill="#6b9bbe"/>
<rect x="1413.64" y="2368.6" width="6.14" height="36.1" fill="#848484"/>
<rect x="1419.74" y="2368.6" width="10.2" height="36.1" fill="#f0293f"/>
<rect x="1429.89" y="2368.6" width="2.08" height="36.1" fill="#6b9bbe"/>
<rect x="1431.92" y="2368.6" width="2.08" height="36.1" fill="#848484"/>
<rect x="1433.95" y="2368.6" width="12.23" height="36.1" fill="#f0293f"/>
<rect x="1446.13" y="2368.6" width="24.41" height="36.1" fill="#6b9bbe"/>
<rect x="1470.49" y="2368.6" width="2.08" height="36.1" fill="#f0293f"/>
<rect x="1472.52" y="2368.6" width="4.11" height="36.1" fill="#33527c"/>
<rect x="1476.58" y="2368.6" width="2.08" height="36.1" fill="#6b9bbe"/>
<rect x="1478.61" y="2368.6" width="2.08" height="36.1" fill="#f0293f"/>
<rect x="1480.64" y="2368.6" width="4.11" height="36.1" fill="#6b9bbe"/>
<rect x="1484.7" y="2368.6" width="8.17" height="36.1" fill="#f0293f"/>
<rect x="1492.82" y="2368.6" width="4.11" height="36.1" fill="#6b9bbe"/>
<rect x="1496.89" y="2368.6" width="8.17" height="36.1" fill="#848484"/>
<rect x="1505.01" y="2368.6" width="8.17" height="36.1" fill="#6b9bbe"/>
<rect x="1513.13" y="2368.6" width="2.08" height="36.1" fill="#f0293f"/>
<rect x="1515.16" y="2368.6" width="2.08" height="36.1" fill="#6b9bbe"/>
<rect x="1517.19" y="2368.6" width="2.08" height="36.1" fill="#848484"/>
<rect x="1519.22" y="2368.6" width="2.08" height="36.1" fill="#6b9bbe"/>
<rect x="1521.25" y="2368.6" width="2.08" height="36.1" fill="#f0293f"/>
<rect x="1523.28" y="2368.6" width="2.08" height="36.1" fill="#6b9bbe"/>
<rect x="1525.31" y="2368.6" width="4.11" height="36.1" fill="#33527c"/>
<rect x="1529.37" y="2368.6" width="6.14" height="36.1" fill="#6b9bbe"/>
<rect x="1535.46" y="2368.6" width="6.14" height="36.1" fill="#f0293f"/>
<rect x="1541.55" y="2368.6" width="24.41" height="36.1" fill="#6b9bbe"/>
<rect x="1565.91" y="2368.6" width="4.11" height="36.1" fill="#f0293f"/>
<rect x="1569.97" y="2368.6" width="4.11" height="36.1" fill="#6b9bbe"/>
<rect x="1574.04" y="2368.6" width="4.11" height="36.1" fill="#f0293f"/>
<rect x="1578.1" y="2368.6" width="62.99" height="36.1" fill="#6b9bbe"/>
<rect x="1641.03" y="2368.6" width="2.08" height="36.1" fill="#f0293f"/>
<rect x="1643.06" y="2368.6" width="2.08" height="36.1" fill="#6b9bbe"/>
<rect x="1645.09" y="2368.6" width="2.08" height="36.1" fill="#33527c"/>
<rect x="1647.12" y="2368.6" width="2.08" height="36.1" fill="#6b9bbe"/>
<rect x="1649.15" y="2368.6" width="2.08" height="36.1" fill="#f0293f"/>
<rect x="1651.19" y="2368.6" width="4.11" height="36.1" fill="#6b9bbe"/>
<rect x="1655.25" y="2368.6" width="2.08" height="36.1" fill="#f0293f"/>
<rect x="1657.28" y="2368.6" width="2.08" height="36.1" fill="#6b9bbe"/>
<rect x="1659.31" y="2368.6" width="4.11" height="36.1" fill="#848484"/>
<rect x="1663.37" y="2368.6" width="8.17" height="36.1" fill="#6b9bbe"/>
<rect x="1671.49" y="2368.6" width="2.08" height="36.1" fill="#848484"/>
<rect x="1673.52" y="2368.6" width="6.14" height="36.1" fill="#6b9bbe"/>
<rect x="1679.61" y="2368.6" width="2.08" height="36.1" fill="#f0293f"/>
<rect x="1681.64" y="2368.6" width="6.14" height="36.1" fill="#6b9bbe"/>
<rect x="1687.73" y="2368.6" width="6.14" height="36.1" fill="#f0293f"/>
<rect x="1693.82" y="2368.6" width="4.11" height="36.1" fill="#6b9bbe"/>
<rect x="1697.88" y="2368.6" width="10.2" height="36.1" fill="#f0293f"/>
<rect x="1708.03" y="2368.6" width="4.11" height="36.1" fill="#6b9bbe"/>
<rect x="1712.09" y="2368.6" width="2.08" height="36.1" fill="#f0293f"/>
<rect x="1714.12" y="2368.6" width="62.99" height="36.1" fill="#6b9bbe"/>
<rect x="1777.06" y="2368.6" width="4.11" height="36.1" fill="#33527c"/>
<rect x="1781.12" y="2368.6" width="12.23" height="36.1" fill="#6b9bbe"/>
<rect x="1793.3" y="2368.6" width="4.11" height="36.1" fill="#f0293f"/>
<rect x="1797.36" y="2368.6" width="4.11" height="36.1" fill="#6b9bbe"/>
<rect x="1801.42" y="2368.6" width="2.08" height="36.1" fill="#33527c"/>
<rect x="1803.46" y="2368.6" width="2.08" height="36.1" fill="#6b9bbe"/>
<rect x="1805.49" y="2368.6" width="2.08" height="36.1" fill="#f0293f"/>
<rect x="1807.52" y="2368.6" width="2.08" height="36.1" fill="#6b9bbe"/>
<rect x="1809.55" y="2368.6" width="4.11" height="36.1" fill="#f0293f"/>
<rect x="1813.61" y="2368.6" width="12.23" height="36.1" fill="#6b9bbe"/>
<rect x="1825.79" y="2368.6" width="12.23" height="36.1" fill="#f0293f"/>
<rect x="1837.97" y="2368.6" width="8.17" height="36.1" fill="#6b9bbe"/>
<rect x="1846.09" y="2368.6" width="16.29" height="36.1" fill="#848484"/>
<rect x="1862.33" y="2368.6" width="6.14" height="36.1" fill="#f0293f"/>
<rect x="1868.42" y="2368.6" width="50.81" height="36.1" fill="#6b9bbe"/>
<rect x="1919.18" y="2368.6" width="2.08" height="36.1" fill="#33527c"/>
<rect x="1921.21" y="2368.6" width="12.23" height="36.1" fill="#6b9bbe"/>
<rect x="1933.39" y="2368.6" width="2.08" height="36.1" fill="#33527c"/>
<rect x="1935.42" y="2368.6" width="2.08" height="36.1" fill="#f0293f"/>
<rect x="1937.45" y="2368.6" width="18.32" height="36.1" fill="#6b9bbe"/>
<rect x="1955.72" y="2368.6" width="2.08" height="36.1" fill="#33527c"/>
<rect x="1957.76" y="2368.6" width="10.2" height="36.1" fill="#6b9bbe"/>
<rect x="1967.91" y="2368.6" width="4.11" height="36.1" fill="#f0293f"/>
<rect x="1971.97" y="2368.6" width="2.08" height="36.1" fill="#6b9bbe"/>
<rect x="1974" y="2368.6" width="2.08" height="36.1" fill="#f0293f"/>
<rect x="1976.03" y="2368.6" width="2.08" height="36.1" fill="#33527c"/>
<rect x="1978.06" y="2368.6" width="2.08" height="36.1" fill="#6b9bbe"/>
<rect x="1980.09" y="2368.6" width="2.08" height="36.1" fill="#f0293f"/>
<rect x="1982.12" y="2368.6" width="2.08" height="36.1" fill="#33527c"/>
<rect x="1984.15" y="2368.6" width="32.53" height="36.1" fill="#6b9bbe"/>
<rect x="2016.63" y="2368.6" width="2.08" height="36.1" fill="#f0293f"/>
<rect x="2018.66" y="2368.6" width="2.08" height="36.1" fill="#6b9bbe"/>
<rect x="2020.69" y="2368.6" width="2.08" height="36.1" fill="#f0293f"/>
<rect x="2022.72" y="2368.6" width="4.11" height="36.1" fill="#33527c"/>
<rect x="2026.78" y="2368.6" width="16.29" height="36.1" fill="#f0293f"/>
<rect x="2043.03" y="2368.6" width="36.59" height="36.1" fill="#6b9bbe"/>
<rect x="2079.57" y="2368.6" width="2.08" height="36.1" fill="#f0293f"/>
<rect x="2081.6" y="2368.6" width="2.08" height="36.1" fill="#6b9bbe"/>
<rect x="2083.63" y="2368.6" width="2.08" height="36.1" fill="#f0293f"/>
<rect x="2085.66" y="2368.6" width="6.14" height="36.1" fill="#6b9bbe"/>
<rect x="2091.75" y="2368.6" width="2.08" height="36.1" fill="#f0293f"/>
<rect x="2093.78" y="2368.6" width="2.08" height="36.1" fill="#6b9bbe"/>
<rect x="2095.81" y="2368.6" width="4.11" height="36.1" fill="#f0293f"/>
<rect x="2099.87" y="2368.6" width="14.26" height="36.1" fill="#848484"/>
<rect x="2114.09" y="2368.6" width="28.47" height="36.1" fill="#6b9bbe"/>
<rect x="2142.51" y="2368.6" width="2.08" height="36.1" fill="#33527c"/>
<rect x="2144.54" y="2368.6" width="4.11" height="36.1" fill="#6b9bbe"/>
<rect x="230" y="2404.7" width="2.08" height="36.2" fill="#e8ec4d"/>
<rect x="232.03" y="2404.7" width="2.08" height="36.2" fill="#c979b5"/>
<rect x="234.06" y="2404.7" width="2.08" height="36.2" fill="#d9661f"/>
<rect x="236.09" y="2404.7" width="2.08" height="36.2" fill="#6cbdea"/>
<rect x="238.12" y="2404.7" width="2.08" height="36.2" fill="#3d7fba"/>
<rect x="240.15" y="2404.7" width="2.08" height="36.2" fill="#6cbdea"/>
<rect x="242.18" y="2404.7" width="2.08" height="36.2" fill="#45995d"/>
<rect x="244.21" y="2404.7" width="2.08" height="36.2" fill="#42ab7b"/>
<rect x="246.24" y="2404.7" width="2.08" height="36.2" fill="#b9282b"/>
<rect x="248.27" y="2404.7" width="8.17" height="36.2" fill="#3d7fba"/>
<rect x="256.39" y="2404.7" width="4.11" height="36.2" fill="#6cbdea"/>
<rect x="260.45" y="2404.7" width="2.08" height="36.2" fill="#e8ec4d"/>
<rect x="262.48" y="2404.7" width="2.08" height="36.2" fill="#42ab7b"/>
<rect x="264.51" y="2404.7" width="2.08" height="36.2" fill="#8b43bc"/>
<rect x="266.54" y="2404.7" width="2.08" height="36.2" fill="#c979b5"/>
<rect x="268.58" y="2404.7" width="2.08" height="36.2" fill="#3d7fba"/>
<rect x="270.61" y="2404.7" width="2.08" height="36.2" fill="#6cbdea"/>
<rect x="272.64" y="2404.7" width="2.08" height="36.2" fill="#42ab7b"/>
<rect x="274.67" y="2404.7" width="2.08" height="36.2" fill="#3d7fba"/>
<rect x="276.7" y="2404.7" width="2.08" height="36.2" fill="#c979b5"/>
<rect x="278.73" y="2404.7" width="4.11" height="36.2" fill="#e8ec4d"/>
<rect x="282.79" y="2404.7" width="2.08" height="36.2" fill="#8b43bc"/>
<rect x="284.82" y="2404.7" width="2.08" height="36.2" fill="#c979b5"/>
<rect x="286.85" y="2404.7" width="4.11" height="36.2" fill="#45995d"/>
<rect x="290.91" y="2404.7" width="8.17" height="36.2" fill="#e8ec4d"/>
<rect x="299.03" y="2404.7" width="2.08" height="36.2" fill="#42ab7b"/>
<rect x="301.06" y="2404.7" width="2.08" height="36.2" fill="#8b43bc"/>
<rect x="303.09" y="2404.7" width="2.08" height="36.2" fill="#d9661f"/>
<rect x="305.12" y="2404.7" width="4.11" height="36.2" fill="#c979b5"/>
<rect x="309.18" y="2404.7" width="2.08" height="36.2" fill="#45995d"/>
<rect x="311.21" y="2404.7" width="2.08" height="36.2" fill="#8b43bc"/>
<rect x="313.24" y="2404.7" width="2.08" height="36.2" fill="#c979b5"/>
<rect x="315.27" y="2404.7" width="6.14" height="36.2" fill="#45995d"/>
<rect x="321.36" y="2404.7" width="2.08" height="36.2" fill="#d9661f"/>
<rect x="323.39" y="2404.7" width="4.11" height="36.2" fill="#6cbdea"/>
<rect x="327.45" y="2404.7" width="8.17" height="36.2" fill="#c979b5"/>
<rect x="335.57" y="2404.7" width="2.08" height="36.2" fill="#45995d"/>
<rect x="337.6" y="2404.7" width="2.08" height="36.2" fill="#3d7fba"/>
<rect x="339.63" y="2404.7" width="2.08" height="36.2" fill="#6cbdea"/>
<rect x="341.66" y="2404.7" width="2.08" height="36.2" fill="#42ab7b"/>
<rect x="343.69" y="2404.7" width="4.11" height="36.2" fill="#6cbdea"/>
<rect x="347.76" y="2404.7" width="2.08" height="36.2" fill="#42ab7b"/>
<rect x="349.79" y="2404.7" width="4.11" height="36.2" fill="#3d7fba"/>
<rect x="353.85" y="2404.7" width="2.08" height="36.2" fill="#6cbdea"/>
<rect x="355.88" y="2404.7" width="4.11" height="36.2" fill="#d9661f"/>
<rect x="359.94" y="2404.7" width="4.11" height="36.2" fill="#8b43bc"/>
<rect x="364" y="2404.7" width="2.08" height="36.2" fill="#e8ec4d"/>
<rect x="366.03" y="2404.7" width="4.11" height="36.2" fill="#3d7fba"/>
<rect x="370.09" y="2404.7" width="2.08" height="36.2" fill="#b9282b"/>
<rect x="372.12" y="2404.7" width="2.08" height="36.2" fill="#42ab7b"/>
<rect x="374.15" y="2404.7" width="2.08" height="36.2" fill="#e8ec4d"/>
<rect x="376.18" y="2404.7" width="2.08" height="36.2" fill="#c979b5"/>
<rect x="378.21" y="2404.7" width="2.08" height="36.2" fill="#6cbdea"/>
<rect x="380.24" y="2404.7" width="2.08" height="36.2" fill="#3d7fba"/>
<rect x="382.27" y="2404.7" width="2.08" height="36.2" fill="#b9282b"/>
<rect x="384.3" y="2404.7" width="2.08" height="36.2" fill="#d9661f"/>
<rect x="386.33" y="2404.7" width="2.08" height="36.2" fill="#c979b5"/>
<rect x="388.36" y="2404.7" width="4.11" height="36.2" fill="#b9282b"/>
<rect x="392.42" y="2404.7" width="4.11" height="36.2" fill="#45995d"/>
<rect x="396.48" y="2404.7" width="2.08" height="36.2" fill="#3d7fba"/>
<rect x="398.51" y="2404.7" width="2.08" height="36.2" fill="#6cbdea"/>
<rect x="400.54" y="2404.7" width="2.08" height="36.2" fill="#42ab7b"/>
<rect x="402.57" y="2404.7" width="2.08" height="36.2" fill="#e8ec4d"/>
<rect x="404.6" y="2404.7" width="2.08" height="36.2" fill="#6cbdea"/>
<rect x="406.63" y="2404.7" width="2.08" height="36.2" fill="#3d7fba"/>
<rect x="408.66" y="2404.7" width="2.08" height="36.2" fill="#45995d"/>
<rect x="410.69" y="2404.7" width="2.08" height="36.2" fill="#42ab7b"/>
<rect x="412.72" y="2404.7" width="2.08" height="36.2" fill="#e8ec4d"/>
<rect x="414.75" y="2404.7" width="4.11" height="36.2" fill="#42ab7b"/>
<rect x="418.81" y="2404.7" width="2.08" height="36.2" fill="#b9282b"/>
<rect x="420.84" y="2404.7" width="2.08" height="36.2" fill="#d9661f"/>
<rect x="422.88" y="2404.7" width="2.08" height="36.2" fill="#6cbdea"/>
<rect x="424.91" y="2404.7" width="4.11" height="36.2" fill="#e8ec4d"/>
<rect x="428.97" y="2404.7" width="2.08" height="36.2" fill="#42ab7b"/>
<rect x="431" y="2404.7" width="2.08" height="36.2" fill="#b9282b"/>
<rect x="433.03" y="2404.7" width="2.08" height="36.2" fill="#42ab7b"/>
<rect x="435.06" y="2404.7" width="2.08" height="36.2" fill="#6cbdea"/>
<rect x="437.09" y="2404.7" width="4.11" height="36.2" fill="#b9282b"/>
<rect x="441.15" y="2404.7" width="2.08" height="36.2" fill="#8b43bc"/>
<rect x="443.18" y="2404.7" width="2.08" height="36.2" fill="#3d7fba"/>
<rect x="445.21" y="2404.7" width="2.08" height="36.2" fill="#8b43bc"/>
<rect x="447.24" y="2404.7" width="2.08" height="36.2" fill="#e8ec4d"/>
<rect x="449.27" y="2404.7" width="8.17" height="36.2" fill="#8b43bc"/>
<rect x="457.39" y="2404.7" width="4.11" height="36.2" fill="#45995d"/>
<rect x="461.45" y="2404.7" width="4.11" height="36.2" fill="#8b43bc"/>
<rect x="465.51" y="2404.7" width="2.08" height="36.2" fill="#e8ec4d"/>
<rect x="467.54" y="2404.7" width="2.08" height="36.2" fill="#3d7fba"/>
<rect x="469.57" y="2404.7" width="2.08" height="36.2" fill="#6cbdea"/>
<rect x="471.6" y="2404.7" width="2.08" height="36.2" fill="#e8ec4d"/>
<rect x="473.63" y="2404.7" width="2.08" height="36.2" fill="#b9282b"/>
<rect x="475.66" y="2404.7" width="2.08" height="36.2" fill="#3d7fba"/>
<rect x="477.69" y="2404.7" width="2.08" height="36.2" fill="#e8ec4d"/>
<rect x="479.72" y="2404.7" width="2.08" height="36.2" fill="#42ab7b"/>
<rect x="481.75" y="2404.7" width="4.11" height="36.2" fill="#b9282b"/>
<rect x="485.81" y="2404.7" width="2.08" height="36.2" fill="#d9661f"/>
<rect x="487.84" y="2404.7" width="2.08" height="36.2" fill="#8b43bc"/>
<rect x="489.87" y="2404.7" width="6.14" height="36.2" fill="#c979b5"/>
<rect x="495.96" y="2404.7" width="4.11" height="36.2" fill="#8b43bc"/>
<rect x="500.03" y="2404.7" width="2.08" height="36.2" fill="#d9661f"/>
<rect x="502.06" y="2404.7" width="2.08" height="36.2" fill="#8b43bc"/>
<rect x="504.09" y="2404.7" width="2.08" height="36.2" fill="#b9282b"/>
<rect x="506.12" y="2404.7" width="6.14" height="36.2" fill="#3d7fba"/>
<rect x="512.21" y="2404.7" width="2.08" height="36.2" fill="#8b43bc"/>
<rect x="514.24" y="2404.7" width="2.08" height="36.2" fill="#42ab7b"/>
<rect x="516.27" y="2404.7" width="4.11" height="36.2" fill="#b9282b"/>
<rect x="520.33" y="2404.7" width="4.11" height="36.2" fill="#42ab7b"/>
<rect x="524.39" y="2404.7" width="2.08" height="36.2" fill="#b9282b"/>
<rect x="526.42" y="2404.7" width="2.08" height="36.2" fill="#3d7fba"/>
<rect x="528.45" y="2404.7" width="2.08" height="36.2" fill="#42ab7b"/>
<rect x="530.48" y="2404.7" width="2.08" height="36.2" fill="#b9282b"/>
<rect x="532.51" y="2404.7" width="6.14" height="36.2" fill="#d9661f"/>
<rect x="538.6" y="2404.7" width="4.11" height="36.2" fill="#3d7fba"/>
<rect x="542.66" y="2404.7" width="2.08" height="36.2" fill="#45995d"/>
<rect x="544.69" y="2404.7" width="2.08" height="36.2" fill="#e8ec4d"/>
<rect x="546.72" y="2404.7" width="2.08" height="36.2" fill="#c979b5"/>
<rect x="548.75" y="2404.7" width="2.08" height="36.2" fill="#3d7fba"/>
<rect x="550.78" y="2404.7" width="2.08" height="36.2" fill="#b9282b"/>
<rect x="552.81" y="2404.7" width="2.08" height="36.2" fill="#d9661f"/>
<rect x="554.84" y="2404.7" width="2.08" height="36.2" fill="#b9282b"/>
<rect x="556.87" y="2404.7" width="2.08" height="36.2" fill="#d9661f"/>
<rect x="558.9" y="2404.7" width="2.08" height="36.2" fill="#6cbdea"/>
<rect x="560.93" y="2404.7" width="2.08" height="36.2" fill="#42ab7b"/>
<rect x="562.96" y="2404.7" width="2.08" height="36.2" fill="#8b43bc"/>
<rect x="564.99" y="2404.7" width="4.11" height="36.2" fill="#d9661f"/>
<rect x="569.05" y="2404.7" width="2.08" height="36.2" fill="#e8ec4d"/>
<rect x="571.08" y="2404.7" width="4.11" height="36.2" fill="#d9661f"/>
<rect x="575.14" y="2404.7" width="2.08" height="36.2" fill="#6cbdea"/>
<rect x="577.18" y="2404.7" width="2.08" height="36.2" fill="#e8ec4d"/>
<rect x="579.21" y="2404.7" width="2.08" height="36.2" fill="#8b43bc"/>
<rect x="581.24" y="2404.7" width="4.11" height="36.2" fill="#d9661f"/>
<rect x="585.3" y="2404.7" width="2.08" height="36.2" fill="#b9282b"/>
<rect x="587.33" y="2404.7" width="2.08" height="36.2" fill="#c979b5"/>
<rect x="589.36" y="2404.7" width="2.08" height="36.2" fill="#d9661f"/>
<rect x="591.39" y="2404.7" width="2.08" height="36.2" fill="#b9282b"/>
<rect x="593.42" y="2404.7" width="6.14" height="36.2" fill="#45995d"/>
<rect x="599.51" y="2404.7" width="2.08" height="36.2" fill="#e8ec4d"/>
<rect x="601.54" y="2404.7" width="4.11" height="36.2" fill="#b9282b"/>
<rect x="605.6" y="2404.7" width="2.08" height="36.2" fill="#42ab7b"/>
<rect x="607.63" y="2404.7" width="2.08" height="36.2" fill="#3d7fba"/>
<rect x="609.66" y="2404.7" width="2.08" height="36.2" fill="#e8ec4d"/>
<rect x="611.69" y="2404.7" width="4.11" height="36.2" fill="#c979b5"/>
<rect x="615.75" y="2404.7" width="2.08" height="36.2" fill="#45995d"/>
<rect x="617.78" y="2404.7" width="2.08" height="36.2" fill="#8b43bc"/>
<rect x="619.81" y="2404.7" width="4.11" height="36.2" fill="#42ab7b"/>
<rect x="623.87" y="2404.7" width="2.08" height="36.2" fill="#b9282b"/>
<rect x="625.9" y="2404.7" width="2.08" height="36.2" fill="#3d7fba"/>
<rect x="627.93" y="2404.7" width="4.11" height="36.2" fill="#b9282b"/>
<rect x="631.99" y="2404.7" width="2.08" height="36.2" fill="#42ab7b"/>
<rect x="634.02" y="2404.7" width="2.08" height="36.2" fill="#d9661f"/>
<rect x="636.05" y="2404.7" width="2.08" height="36.2" fill="#42ab7b"/>
<rect x="638.08" y="2404.7" width="2.08" height="36.2" fill="#8b43bc"/>
<rect x="640.11" y="2404.7" width="2.08" height="36.2" fill="#d9661f"/>
<rect x="642.14" y="2404.7" width="2.08" height="36.2" fill="#6cbdea"/>
<rect x="644.17" y="2404.7" width="2.08" height="36.2" fill="#c979b5"/>
<rect x="646.2" y="2404.7" width="8.17" height="36.2" fill="#6cbdea"/>
<rect x="654.33" y="2404.7" width="8.17" height="36.2" fill="#8b43bc"/>
<rect x="662.45" y="2404.7" width="2.08" height="36.2" fill="#6cbdea"/>
<rect x="664.48" y="2404.7" width="2.08" height="36.2" fill="#8b43bc"/>
<rect x="666.51" y="2404.7" width="2.08" height="36.2" fill="#42ab7b"/>
<rect x="668.54" y="2404.7" width="4.11" height="36.2" fill="#b9282b"/>
<rect x="672.6" y="2404.7" width="2.08" height="36.2" fill="#e8ec4d"/>
<rect x="674.63" y="2404.7" width="2.08" height="36.2" fill="#b9282b"/>
<rect x="676.66" y="2404.7" width="2.08" height="36.2" fill="#8b43bc"/>
<rect x="678.69" y="2404.7" width="2.08" height="36.2" fill="#6cbdea"/>
<rect x="680.72" y="2404.7" width="2.08" height="36.2" fill="#3d7fba"/>
<rect x="682.75" y="2404.7" width="2.08" height="36.2" fill="#b9282b"/>
<rect x="684.78" y="2404.7" width="2.08" height="36.2" fill="#8b43bc"/>
<rect x="686.81" y="2404.7" width="2.08" height="36.2" fill="#45995d"/>
<rect x="688.84" y="2404.7" width="2.08" height="36.2" fill="#d9661f"/>
<rect x="690.87" y="2404.7" width="2.08" height="36.2" fill="#b9282b"/>
<rect x="692.9" y="2404.7" width="2.08" height="36.2" fill="#42ab7b"/>
<rect x="694.93" y="2404.7" width="2.08" height="36.2" fill="#e8ec4d"/>
<rect x="696.96" y="2404.7" width="2.08" height="36.2" fill="#42ab7b"/>
<rect x="698.99" y="2404.7" width="2.08" height="36.2" fill="#e8ec4d"/>
<rect x="701.02" y="2404.7" width="2.08" height="36.2" fill="#8b43bc"/>
<rect x="703.05" y="2404.7" width="2.08" height="36.2" fill="#d9661f"/>
<rect x="705.08" y="2404.7" width="2.08" height="36.2" fill="#e8ec4d"/>
<rect x="707.11" y="2404.7" width="4.11" height="36.2" fill="#6cbdea"/>
<rect x="711.17" y="2404.7" width="2.08" height="36.2" fill="#d9661f"/>
<rect x="713.2" y="2404.7" width="2.08" height="36.2" fill="#b9282b"/>
<rect x="715.23" y="2404.7" width="2.08" height="36.2" fill="#8b43bc"/>
<rect x="717.26" y="2404.7" width="4.11" height="36.2" fill="#d9661f"/>
<rect x="721.32" y="2404.7" width="2.08" height="36.2" fill="#3d7fba"/>
<rect x="723.35" y="2404.7" width="8.17" height="36.2" fill="#8b43bc"/>
<rect x="731.48" y="2404.7" width="4.11" height="36.2" fill="#e8ec4d"/>
<rect x="735.54" y="2404.7" width="2.08" height="36.2" fill="#8b43bc"/>
<rect x="737.57" y="2404.7" width="2.08" height="36.2" fill="#3d7fba"/>
<rect x="739.6" y="2404.7" width="2.08" height="36.2" fill="#6cbdea"/>
<rect x="741.63" y="2404.7" width="2.08" height="36.2" fill="#8b43bc"/>
<rect x="743.66" y="2404.7" width="91.41" height="36.2" fill="#dfa42a"/>
<rect x="835.02" y="2404.7" width="2.08" height="36.2" fill="#45995d"/>
<rect x="837.05" y="2404.7" width="2.08" height="36.2" fill="#c979b5"/>
<rect x="839.08" y="2404.7" width="2.08" height="36.2" fill="#d9661f"/>
<rect x="841.11" y="2404.7" width="4.11" height="36.2" fill="#8b43bc"/>
<rect x="845.17" y="2404.7" width="16.29" height="36.2" fill="#dfa42a"/>
<rect x="861.41" y="2404.7" width="2.08" height="36.2" fill="#c979b5"/>
<rect x="863.44" y="2404.7" width="2.08" height="36.2" fill="#6cbdea"/>
<rect x="865.47" y="2404.7" width="4.11" height="36.2" fill="#e8ec4d"/>
<rect x="869.53" y="2404.7" width="2.08" height="36.2" fill="#c979b5"/>
<rect x="871.56" y="2404.7" width="2.08" height="36.2" fill="#6cbdea"/>
<rect x="873.59" y="2404.7" width="2.08" height="36.2" fill="#c979b5"/>
<rect x="875.62" y="2404.7" width="2.08" height="36.2" fill="#e8ec4d"/>
<rect x="877.65" y="2404.7" width="2.08" height="36.2" fill="#d9661f"/>
<rect x="879.68" y="2404.7" width="4.11" height="36.2" fill="#42ab7b"/>
<rect x="883.75" y="2404.7" width="6.14" height="36.2" fill="#b9282b"/>
<rect x="889.84" y="2404.7" width="2.08" height="36.2" fill="#6cbdea"/>
<rect x="891.87" y="2404.7" width="6.14" height="36.2" fill="#8b43bc"/>
<rect x="897.96" y="2404.7" width="2.08" height="36.2" fill="#d9661f"/>
<rect x="899.99" y="2404.7" width="6.14" height="36.2" fill="#42ab7b"/>
<rect x="906.08" y="2404.7" width="2.08" height="36.2" fill="#c979b5"/>
<rect x="908.11" y="2404.7" width="6.14" height="36.2" fill="#d9661f"/>
<rect x="914.2" y="2404.7" width="4.11" height="36.2" fill="#42ab7b"/>
<rect x="918.26" y="2404.7" width="4.11" height="36.2" fill="#d9661f"/>
<rect x="922.32" y="2404.7" width="2.08" height="36.2" fill="#8b43bc"/>
<rect x="924.35" y="2404.7" width="2.08" height="36.2" fill="#45995d"/>
<rect x="926.38" y="2404.7" width="2.08" height="36.2" fill="#6cbdea"/>
<rect x="928.41" y="2404.7" width="2.08" height="36.2" fill="#d9661f"/>
<rect x="930.44" y="2404.7" width="2.08" height="36.2" fill="#e8ec4d"/>
<rect x="932.47" y="2404.7" width="2.08" height="36.2" fill="#45995d"/>
<rect x="934.5" y="2404.7" width="4.11" height="36.2" fill="#8b43bc"/>
<rect x="938.56" y="2404.7" width="6.14" height="36.2" fill="#42ab7b"/>
<rect x="944.65" y="2404.7" width="6.14" height="36.2" fill="#8b43bc"/>
<rect x="950.74" y="2404.7" width="2.08" height="36.2" fill="#e8ec4d"/>
<rect x="952.77" y="2404.7" width="8.17" height="36.2" fill="#3d7fba"/>
<rect x="960.9" y="2404.7" width="2.08" height="36.2" fill="#c979b5"/>
<rect x="962.93" y="2404.7" width="2.08" height="36.2" fill="#3d7fba"/>
<rect x="964.96" y="2404.7" width="2.08" height="36.2" fill="#6cbdea"/>
<rect x="966.99" y="2404.7" width="2.08" height="36.2" fill="#45995d"/>
<rect x="969.02" y="2404.7" width="2.08" height="36.2" fill="#b9282b"/>
<rect x="971.05" y="2404.7" width="2.08" height="36.2" fill="#e8ec4d"/>
<rect x="973.08" y="2404.7" width="2.08" height="36.2" fill="#42ab7b"/>
<rect x="975.11" y="2404.7" width="4.11" height="36.2" fill="#b9282b"/>
<rect x="979.17" y="2404.7" width="2.08" height="36.2" fill="#8b43bc"/>
<rect x="981.2" y="2404.7" width="6.14" height="36.2" fill="#b9282b"/>
<rect x="987.29" y="2404.7" width="4.11" height="36.2" fill="#d9661f"/>
<rect x="991.35" y="2404.7" width="4.11" height="36.2" fill="#6cbdea"/>
<rect x="995.41" y="2404.7" width="4.11" height="36.2" fill="#d9661f"/>
<rect x="999.47" y="2404.7" width="2.08" height="36.2" fill="#c979b5"/>
<rect x="1001.5" y="2404.7" width="6.14" height="36.2" fill="#6cbdea"/>
<rect x="1007.59" y="2404.7" width="2.08" height="36.2" fill="#42ab7b"/>
<rect x="1009.62" y="2404.7" width="2.08" height="36.2" fill="#e8ec4d"/>
<rect x="1011.65" y="2404.7" width="8.17" height="36.2" fill="#8b43bc"/>
<rect x="1019.77" y="2404.7" width="2.08" height="36.2" fill="#e8ec4d"/>
<rect x="1021.8" y="2404.7" width="2.08" height="36.2" fill="#d9661f"/>
<rect x="1023.83" y="2404.7" width="2.08" height="36.2" fill="#42ab7b"/>
<rect x="1025.86" y="2404.7" width="2.08" height="36.2" fill="#b9282b"/>
<rect x="1027.89" y="2404.7" width="6.14" height="36.2" fill="#42ab7b"/>
<rect x="1033.98" y="2404.7" width="2.08" height="36.2" fill="#b9282b"/>
<rect x="1036.02" y="2404.7" width="2.08" height="36.2" fill="#42ab7b"/>
<rect x="1038.05" y="2404.7" width="2.08" height="36.2" fill="#6cbdea"/>
<rect x="1040.08" y="2404.7" width="2.08" height="36.2" fill="#e8ec4d"/>
<rect x="1042.11" y="2404.7" width="4.11" height="36.2" fill="#c979b5"/>
<rect x="1046.17" y="2404.7" width="2.08" height="36.2" fill="#8b43bc"/>
<rect x="1048.2" y="2404.7" width="2.08" height="36.2" fill="#3d7fba"/>
<rect x="1050.23" y="2404.7" width="2.08" height="36.2" fill="#e8ec4d"/>
<rect x="1052.26" y="2404.7" width="2.08" height="36.2" fill="#b9282b"/>
<rect x="1054.29" y="2404.7" width="2.08" height="36.2" fill="#d9661f"/>
<rect x="1056.32" y="2404.7" width="2.08" height="36.2" fill="#45995d"/>
<rect x="1058.35" y="2404.7" width="2.08" height="36.2" fill="#e8ec4d"/>
<rect x="1060.38" y="2404.7" width="2.08" height="36.2" fill="#3d7fba"/>
<rect x="1062.41" y="2404.7" width="4.11" height="36.2" fill="#b9282b"/>
<rect x="1066.47" y="2404.7" width="2.08" height="36.2" fill="#45995d"/>
<rect x="1068.5" y="2404.7" width="4.11" height="36.2" fill="#6cbdea"/>
<rect x="1072.56" y="2404.7" width="2.08" height="36.2" fill="#45995d"/>
<rect x="1074.59" y="2404.7" width="2.08" height="36.2" fill="#c979b5"/>
<rect x="1076.62" y="2404.7" width="6.14" height="36.2" fill="#3d7fba"/>
<rect x="1082.71" y="2404.7" width="4.11" height="36.2" fill="#45995d"/>
<rect x="1086.77" y="2404.7" width="2.08" height="36.2" fill="#b9282b"/>
<rect x="1088.8" y="2404.7" width="2.08" height="36.2" fill="#6cbdea"/>
<rect x="1090.83" y="2404.7" width="2.08" height="36.2" fill="#d9661f"/>
<rect x="1092.86" y="2404.7" width="4.11" height="36.2" fill="#b9282b"/>
<rect x="1096.92" y="2404.7" width="4.11" height="36.2" fill="#c979b5"/>
<rect x="1100.98" y="2404.7" width="2.08" height="36.2" fill="#d9661f"/>
<rect x="1103.01" y="2404.7" width="4.11" height="36.2" fill="#6cbdea"/>
<rect x="1107.07" y="2404.7" width="6.14" height="36.2" fill="#e8ec4d"/>
<rect x="1113.17" y="2404.7" width="2.08" height="36.2" fill="#c979b5"/>
<rect x="1115.2" y="2404.7" width="2.08" height="36.2" fill="#42ab7b"/>
<rect x="1117.23" y="2404.7" width="2.08" height="36.2" fill="#c979b5"/>
<rect x="1119.26" y="2404.7" width="2.08" height="36.2" fill="#6cbdea"/>
<rect x="1121.29" y="2404.7" width="2.08" height="36.2" fill="#d9661f"/>
<rect x="1123.32" y="2404.7" width="2.08" height="36.2" fill="#3d7fba"/>
<rect x="1125.35" y="2404.7" width="2.08" height="36.2" fill="#c979b5"/>
<rect x="1127.38" y="2404.7" width="2.08" height="36.2" fill="#e8ec4d"/>
<rect x="1129.41" y="2404.7" width="2.08" height="36.2" fill="#b9282b"/>
<rect x="1131.44" y="2404.7" width="2.08" height="36.2" fill="#45995d"/>
<rect x="1133.47" y="2404.7" width="18.32" height="36.2" fill="#dfa42a"/>
<rect x="1151.74" y="2404.7" width="2.08" height="36.2" fill="#e8ec4d"/>
<rect x="1153.77" y="2404.7" width="2.08" height="36.2" fill="#3d7fba"/>
<rect x="1155.8" y="2404.7" width="4.11" height="36.2" fill="#42ab7b"/>
<rect x="1159.86" y="2404.7" width="2.08" height="36.2" fill="#8b43bc"/>
<rect x="1161.89" y="2404.7" width="6.14" height="36.2" fill="#42ab7b"/>
<rect x="1167.98" y="2404.7" width="4.11" height="36.2" fill="#e8ec4d"/>
<rect x="1172.04" y="2404.7" width="4.11" height="36.2" fill="#42ab7b"/>
<rect x="1176.1" y="2404.7" width="6.14" height="36.2" fill="#e8ec4d"/>
<rect x="1182.19" y="2404.7" width="2.08" height="36.2" fill="#d9661f"/>
<rect x="1184.22" y="2404.7" width="2.08" height="36.2" fill="#42ab7b"/>
<rect x="1186.25" y="2404.7" width="6.14" height="36.2" fill="#c979b5"/>
<rect x="1192.35" y="2404.7" width="2.08" height="36.2" fill="#42ab7b"/>
<rect x="1194.38" y="2404.7" width="2.08" height="36.2" fill="#b9282b"/>
<rect x="1196.41" y="2404.7" width="2.08" height="36.2" fill="#6cbdea"/>
<rect x="1198.44" y="2404.7" width="4.11" height="36.2" fill="#3d7fba"/>
<rect x="1202.5" y="2404.7" width="4.11" height="36.2" fill="#45995d"/>
<rect x="1206.56" y="2404.7" width="6.14" height="36.2" fill="#b9282b"/>
<rect x="1212.65" y="2404.7" width="2.08" height="36.2" fill="#e8ec4d"/>
<rect x="1214.68" y="2404.7" width="4.11" height="36.2" fill="#b9282b"/>
<rect x="1218.74" y="2404.7" width="2.08" height="36.2" fill="#6cbdea"/>
<rect x="1220.77" y="2404.7" width="2.08" height="36.2" fill="#3d7fba"/>
<rect x="1222.8" y="2404.7" width="2.08" height="36.2" fill="#e8ec4d"/>
<rect x="1224.83" y="2404.7" width="2.08" height="36.2" fill="#6cbdea"/>
<rect x="1226.86" y="2404.7" width="6.14" height="36.2" fill="#3d7fba"/>
<rect x="1232.95" y="2404.7" width="6.14" height="36.2" fill="#42ab7b"/>
<rect x="1239.04" y="2404.7" width="4.11" height="36.2" fill="#3d7fba"/>
<rect x="1243.1" y="2404.7" width="2.08" height="36.2" fill="#45995d"/>
<rect x="1245.13" y="2404.7" width="2.08" height="36.2" fill="#6cbdea"/>
<rect x="1247.16" y="2404.7" width="6.14" height="36.2" fill="#3d7fba"/>
<rect x="1253.25" y="2404.7" width="2.08" height="36.2" fill="#42ab7b"/>
<rect x="1255.28" y="2404.7" width="2.08" height="36.2" fill="#45995d"/>
<rect x="1257.31" y="2404.7" width="4.11" height="36.2" fill="#3d7fba"/>
<rect x="1261.37" y="2404.7" width="2.08" height="36.2" fill="#8b43bc"/>
<rect x="1263.4" y="2404.7" width="2.08" height="36.2" fill="#6cbdea"/>
<rect x="1265.43" y="2404.7" width="2.08" height="36.2" fill="#b9282b"/>
<rect x="1267.47" y="2404.7" width="4.11" height="36.2" fill="#8b43bc"/>
<rect x="1271.53" y="2404.7" width="2.08" height="36.2" fill="#e8ec4d"/>
<rect x="1273.56" y="2404.7" width="2.08" height="36.2" fill="#b9282b"/>
<rect x="1275.59" y="2404.7" width="4.11" height="36.2" fill="#e8ec4d"/>
<rect x="1279.65" y="2404.7" width="4.11" height="36.2" fill="#6cbdea"/>
<rect x="1283.71" y="2404.7" width="2.08" height="36.2" fill="#b9282b"/>
<rect x="1285.74" y="2404.7" width="2.08" height="36.2" fill="#6cbdea"/>
<rect x="1287.77" y="2404.7" width="6.14" height="36.2" fill="#d9661f"/>
<rect x="1293.86" y="2404.7" width="2.08" height="36.2" fill="#b9282b"/>
<rect x="1295.89" y="2404.7" width="2.08" height="36.2" fill="#e8ec4d"/>
<rect x="1297.92" y="2404.7" width="6.14" height="36.2" fill="#d9661f"/>
<rect x="1304.01" y="2404.7" width="4.11" height="36.2" fill="#42ab7b"/>
<rect x="1308.07" y="2404.7" width="16.29" height="36.2" fill="#dfa42a"/>
<rect x="1324.31" y="2404.7" width="2.08" height="36.2" fill="#6cbdea"/>
<rect x="1326.34" y="2404.7" width="8.17" height="36.2" fill="#e8ec4d"/>
<rect x="1334.46" y="2404.7" width="8.17" height="36.2" fill="#45995d"/>
<rect x="1342.58" y="2404.7" width="2.08" height="36.2" fill="#e8ec4d"/>
<rect x="1344.62" y="2404.7" width="2.08" height="36.2" fill="#6cbdea"/>
<rect x="1346.65" y="2404.7" width="2.08" height="36.2" fill="#8b43bc"/>
<rect x="1348.68" y="2404.7" width="2.08" height="36.2" fill="#e8ec4d"/>
<rect x="1350.71" y="2404.7" width="2.08" height="36.2" fill="#c979b5"/>
<rect x="1352.74" y="2404.7" width="4.11" height="36.2" fill="#8b43bc"/>
<rect x="1356.8" y="2404.7" width="2.08" height="36.2" fill="#c979b5"/>
<rect x="1358.83" y="2404.7" width="2.08" height="36.2" fill="#45995d"/>
<rect x="1360.86" y="2404.7" width="2.08" height="36.2" fill="#c979b5"/>
<rect x="1362.89" y="2404.7" width="2.08" height="36.2" fill="#8b43bc"/>
<rect x="1364.92" y="2404.7" width="2.08" height="36.2" fill="#e8ec4d"/>
<rect x="1366.95" y="2404.7" width="4.11" height="36.2" fill="#42ab7b"/>
<rect x="1371.01" y="2404.7" width="2.08" height="36.2" fill="#c979b5"/>
<rect x="1373.04" y="2404.7" width="8.17" height="36.2" fill="#3d7fba"/>
<rect x="1381.16" y="2404.7" width="2.08" height="36.2" fill="#d9661f"/>
<rect x="1383.19" y="2404.7" width="2.08" height="36.2" fill="#8b43bc"/>
<rect x="1385.22" y="2404.7" width="2.08" height="36.2" fill="#b9282b"/>
<rect x="1387.25" y="2404.7" width="4.11" height="36.2" fill="#d9661f"/>
<rect x="1391.31" y="2404.7" width="6.14" height="36.2" fill="#45995d"/>
<rect x="1397.4" y="2404.7" width="2.08" height="36.2" fill="#6cbdea"/>
<rect x="1399.43" y="2404.7" width="2.08" height="36.2" fill="#42ab7b"/>
<rect x="1401.46" y="2404.7" width="2.08" height="36.2" fill="#b9282b"/>
<rect x="1403.49" y="2404.7" width="4.11" height="36.2" fill="#3d7fba"/>
<rect x="1407.55" y="2404.7" width="4.11" height="36.2" fill="#e8ec4d"/>
<rect x="1411.61" y="2404.7" width="2.08" height="36.2" fill="#b9282b"/>
<rect x="1413.64" y="2404.7" width="2.08" height="36.2" fill="#c979b5"/>
<rect x="1415.67" y="2404.7" width="2.08" height="36.2" fill="#42ab7b"/>
<rect x="1417.7" y="2404.7" width="2.08" height="36.2" fill="#e8ec4d"/>
<rect x="1419.74" y="2404.7" width="2.08" height="36.2" fill="#c979b5"/>
<rect x="1421.77" y="2404.7" width="2.08" height="36.2" fill="#6cbdea"/>
<rect x="1423.8" y="2404.7" width="2.08" height="36.2" fill="#c979b5"/>
<rect x="1425.83" y="2404.7" width="2.08" height="36.2" fill="#e8ec4d"/>
<rect x="1427.86" y="2404.7" width="2.08" height="36.2" fill="#8b43bc"/>
<rect x="1429.89" y="2404.7" width="2.08" height="36.2" fill="#6cbdea"/>
<rect x="1431.92" y="2404.7" width="2.08" height="36.2" fill="#3d7fba"/>
<rect x="1433.95" y="2404.7" width="2.08" height="36.2" fill="#c979b5"/>
<rect x="1435.98" y="2404.7" width="2.08" height="36.2" fill="#42ab7b"/>
<rect x="1438.01" y="2404.7" width="2.08" height="36.2" fill="#3d7fba"/>
<rect x="1440.04" y="2404.7" width="6.14" height="36.2" fill="#e8ec4d"/>
<rect x="1446.13" y="2404.7" width="2.08" height="36.2" fill="#c979b5"/>
<rect x="1448.16" y="2404.7" width="4.11" height="36.2" fill="#3d7fba"/>
<rect x="1452.22" y="2404.7" width="2.08" height="36.2" fill="#b9282b"/>
<rect x="1454.25" y="2404.7" width="4.11" height="36.2" fill="#42ab7b"/>
<rect x="1458.31" y="2404.7" width="6.14" height="36.2" fill="#6cbdea"/>
<rect x="1464.4" y="2404.7" width="4.11" height="36.2" fill="#3d7fba"/>
<rect x="1468.46" y="2404.7" width="2.08" height="36.2" fill="#45995d"/>
<rect x="1470.49" y="2404.7" width="2.08" height="36.2" fill="#42ab7b"/>
<rect x="1472.52" y="2404.7" width="2.08" height="36.2" fill="#d9661f"/>
<rect x="1474.55" y="2404.7" width="2.08" height="36.2" fill="#b9282b"/>
<rect x="1476.58" y="2404.7" width="2.08" height="36.2" fill="#c979b5"/>
<rect x="1478.61" y="2404.7" width="2.08" height="36.2" fill="#d9661f"/>
<rect x="1480.64" y="2404.7" width="2.08" height="36.2" fill="#e8ec4d"/>
<rect x="1482.67" y="2404.7" width="2.08" height="36.2" fill="#b9282b"/>
<rect x="1484.7" y="2404.7" width="4.11" height="36.2" fill="#d9661f"/>
<rect x="1488.76" y="2404.7" width="2.08" height="36.2" fill="#b9282b"/>
<rect x="1490.79" y="2404.7" width="6.14" height="36.2" fill="#42ab7b"/>
<rect x="1496.89" y="2404.7" width="2.08" height="36.2" fill="#b9282b"/>
<rect x="1498.92" y="2404.7" width="6.14" height="36.2" fill="#6cbdea"/>
<rect x="1505.01" y="2404.7" width="6.14" height="36.2" fill="#3d7fba"/>
<rect x="1511.1" y="2404.7" width="4.11" height="36.2" fill="#c979b5"/>
<rect x="1515.16" y="2404.7" width="4.11" height="36.2" fill="#42ab7b"/>
<rect x="1519.22" y="2404.7" width="4.11" height="36.2" fill="#3d7fba"/>
<rect x="1523.28" y="2404.7" width="2.08" height="36.2" fill="#45995d"/>
<rect x="1525.31" y="2404.7" width="2.08" height="36.2" fill="#42ab7b"/>
<rect x="1527.34" y="2404.7" width="2.08" height="36.2" fill="#d9661f"/>
<rect x="1529.37" y="2404.7" width="2.08" height="36.2" fill="#42ab7b"/>
<rect x="1531.4" y="2404.7" width="4.11" height="36.2" fill="#8b43bc"/>
<rect x="1535.46" y="2404.7" width="2.08" height="36.2" fill="#6cbdea"/>
<rect x="1537.49" y="2404.7" width="2.08" height="36.2" fill="#8b43bc"/>
<rect x="1539.52" y="2404.7" width="2.08" height="36.2" fill="#45995d"/>
<rect x="1541.55" y="2404.7" width="2.08" height="36.2" fill="#c979b5"/>
<rect x="1543.58" y="2404.7" width="2.08" height="36.2" fill="#e8ec4d"/>
<rect x="1545.61" y="2404.7" width="2.08" height="36.2" fill="#c979b5"/>
<rect x="1547.64" y="2404.7" width="2.08" height="36.2" fill="#3d7fba"/>
<rect x="1549.67" y="2404.7" width="2.08" height="36.2" fill="#6cbdea"/>
<rect x="1551.7" y="2404.7" width="2.08" height="36.2" fill="#d9661f"/>
<rect x="1553.73" y="2404.7" width="4.11" height="36.2" fill="#8b43bc"/>
<rect x="1557.79" y="2404.7" width="2.08" height="36.2" fill="#d9661f"/>
<rect x="1559.82" y="2404.7" width="2.08" height="36.2" fill="#6cbdea"/>
<rect x="1561.85" y="2404.7" width="2.08" height="36.2" fill="#3d7fba"/>
<rect x="1563.88" y="2404.7" width="2.08" height="36.2" fill="#d9661f"/>
<rect x="1565.91" y="2404.7" width="2.08" height="36.2" fill="#c979b5"/>
<rect x="1567.94" y="2404.7" width="4.11" height="36.2" fill="#8b43bc"/>
<rect x="1572" y="2404.7" width="2.08" height="36.2" fill="#d9661f"/>
<rect x="1574.04" y="2404.7" width="6.14" height="36.2" fill="#3d7fba"/>
<rect x="1580.13" y="2404.7" width="4.11" height="36.2" fill="#42ab7b"/>
<rect x="1584.19" y="2404.7" width="4.11" height="36.2" fill="#b9282b"/>
<rect x="1588.25" y="2404.7" width="2.08" height="36.2" fill="#8b43bc"/>
<rect x="1590.28" y="2404.7" width="2.08" height="36.2" fill="#b9282b"/>
<rect x="1592.31" y="2404.7" width="4.11" height="36.2" fill="#42ab7b"/>
<rect x="1596.37" y="2404.7" width="2.08" height="36.2" fill="#b9282b"/>
<rect x="1598.4" y="2404.7" width="4.11" height="36.2" fill="#3d7fba"/>
<rect x="1602.46" y="2404.7" width="4.11" height="36.2" fill="#42ab7b"/>
<rect x="1606.52" y="2404.7" width="4.11" height="36.2" fill="#e8ec4d"/>
<rect x="1610.58" y="2404.7" width="2.08" height="36.2" fill="#42ab7b"/>
<rect x="1612.61" y="2404.7" width="2.08" height="36.2" fill="#b9282b"/>
<rect x="1614.64" y="2404.7" width="2.08" height="36.2" fill="#e8ec4d"/>
<rect x="1616.67" y="2404.7" width="2.08" height="36.2" fill="#6cbdea"/>
<rect x="1618.7" y="2404.7" width="6.14" height="36.2" fill="#42ab7b"/>
<rect x="1624.79" y="2404.7" width="4.11" height="36.2" fill="#c979b5"/>
<rect x="1628.85" y="2404.7" width="18.32" height="36.2" fill="#dfa42a"/>
<rect x="1647.12" y="2404.7" width="2.08" height="36.2" fill="#3d7fba"/>
<rect x="1649.15" y="2404.7" width="8.17" height="36.2" fill="#e8ec4d"/>
<rect x="1657.28" y="2404.7" width="2.08" height="36.2" fill="#c979b5"/>
<rect x="1659.31" y="2404.7" width="2.08" height="36.2" fill="#8b43bc"/>
<rect x="1661.34" y="2404.7" width="4.11" height="36.2" fill="#42ab7b"/>
<rect x="1665.4" y="2404.7" width="4.11" height="36.2" fill="#6cbdea"/>
<rect x="1669.46" y="2404.7" width="2.08" height="36.2" fill="#e8ec4d"/>
<rect x="1671.49" y="2404.7" width="2.08" height="36.2" fill="#b9282b"/>
<rect x="1673.52" y="2404.7" width="2.08" height="36.2" fill="#c979b5"/>
<rect x="1675.55" y="2404.7" width="2.08" height="36.2" fill="#6cbdea"/>
<rect x="1677.58" y="2404.7" width="2.08" height="36.2" fill="#42ab7b"/>
<rect x="1679.61" y="2404.7" width="2.08" height="36.2" fill="#3d7fba"/>
<rect x="1681.64" y="2404.7" width="2.08" height="36.2" fill="#45995d"/>
<rect x="1683.67" y="2404.7" width="2.08" height="36.2" fill="#e8ec4d"/>
<rect x="1685.7" y="2404.7" width="2.08" height="36.2" fill="#6cbdea"/>
<rect x="1687.73" y="2404.7" width="2.08" height="36.2" fill="#3d7fba"/>
<rect x="1689.76" y="2404.7" width="2.08" height="36.2" fill="#42ab7b"/>
<rect x="1691.79" y="2404.7" width="2.08" height="36.2" fill="#c979b5"/>
<rect x="1693.82" y="2404.7" width="2.08" height="36.2" fill="#d9661f"/>
<rect x="1695.85" y="2404.7" width="2.08" height="36.2" fill="#b9282b"/>
<rect x="1697.88" y="2404.7" width="2.08" height="36.2" fill="#42ab7b"/>
<rect x="1699.91" y="2404.7" width="4.11" height="36.2" fill="#c979b5"/>
<rect x="1703.97" y="2404.7" width="2.08" height="36.2" fill="#8b43bc"/>
<rect x="1706" y="2404.7" width="2.08" height="36.2" fill="#e8ec4d"/>
<rect x="1708.03" y="2404.7" width="2.08" height="36.2" fill="#c979b5"/>
<rect x="1710.06" y="2404.7" width="2.08" height="36.2" fill="#3d7fba"/>
<rect x="1712.09" y="2404.7" width="4.11" height="36.2" fill="#b9282b"/>
<rect x="1716.15" y="2404.7" width="6.14" height="36.2" fill="#e8ec4d"/>
<rect x="1722.24" y="2404.7" width="2.08" height="36.2" fill="#6cbdea"/>
<rect x="1724.27" y="2404.7" width="2.08" height="36.2" fill="#3d7fba"/>
<rect x="1726.3" y="2404.7" width="4.11" height="36.2" fill="#6cbdea"/>
<rect x="1730.37" y="2404.7" width="6.14" height="36.2" fill="#d9661f"/>
<rect x="1736.46" y="2404.7" width="2.08" height="36.2" fill="#42ab7b"/>
<rect x="1738.49" y="2404.7" width="2.08" height="36.2" fill="#c979b5"/>
<rect x="1740.52" y="2404.7" width="2.08" height="36.2" fill="#8b43bc"/>
<rect x="1742.55" y="2404.7" width="2.08" height="36.2" fill="#e8ec4d"/>
<rect x="1744.58" y="2404.7" width="4.11" height="36.2" fill="#6cbdea"/>
<rect x="1748.64" y="2404.7" width="4.11" height="36.2" fill="#8b43bc"/>
<rect x="1752.7" y="2404.7" width="4.11" height="36.2" fill="#6cbdea"/>
<rect x="1756.76" y="2404.7" width="2.08" height="36.2" fill="#8b43bc"/>
<rect x="1758.79" y="2404.7" width="2.08" height="36.2" fill="#d9661f"/>
<rect x="1760.82" y="2404.7" width="2.08" height="36.2" fill="#6cbdea"/>
<rect x="1762.85" y="2404.7" width="4.11" height="36.2" fill="#e8ec4d"/>
<rect x="1766.91" y="2404.7" width="4.11" height="36.2" fill="#8b43bc"/>
<rect x="1770.97" y="2404.7" width="2.08" height="36.2" fill="#e8ec4d"/>
<rect x="1773" y="2404.7" width="4.11" height="36.2" fill="#3d7fba"/>
<rect x="1777.06" y="2404.7" width="2.08" height="36.2" fill="#d9661f"/>
<rect x="1779.09" y="2404.7" width="6.14" height="36.2" fill="#c979b5"/>
<rect x="1785.18" y="2404.7" width="4.11" height="36.2" fill="#42ab7b"/>
<rect x="1789.24" y="2404.7" width="2.08" height="36.2" fill="#6cbdea"/>
<rect x="1791.27" y="2404.7" width="4.11" height="36.2" fill="#e8ec4d"/>
<rect x="1795.33" y="2404.7" width="4.11" height="36.2" fill="#b9282b"/>
<rect x="1799.39" y="2404.7" width="4.11" height="36.2" fill="#e8ec4d"/>
<rect x="1803.46" y="2404.7" width="2.08" height="36.2" fill="#b9282b"/>
<rect x="1805.49" y="2404.7" width="2.08" height="36.2" fill="#8b43bc"/>
<rect x="1807.52" y="2404.7" width="2.08" height="36.2" fill="#b9282b"/>
<rect x="1809.55" y="2404.7" width="2.08" height="36.2" fill="#45995d"/>
<rect x="1811.58" y="2404.7" width="4.11" height="36.2" fill="#3d7fba"/>
<rect x="1815.64" y="2404.7" width="2.08" height="36.2" fill="#c979b5"/>
<rect x="1817.67" y="2404.7" width="2.08" height="36.2" fill="#42ab7b"/>
<rect x="1819.7" y="2404.7" width="6.14" height="36.2" fill="#6cbdea"/>
<rect x="1825.79" y="2404.7" width="2.08" height="36.2" fill="#42ab7b"/>
<rect x="1827.82" y="2404.7" width="6.14" height="36.2" fill="#6cbdea"/>
<rect x="1833.91" y="2404.7" width="2.08" height="36.2" fill="#e8ec4d"/>
<rect x="1835.94" y="2404.7" width="2.08" height="36.2" fill="#6cbdea"/>
<rect x="1837.97" y="2404.7" width="2.08" height="36.2" fill="#8b43bc"/>
<rect x="1840" y="2404.7" width="2.08" height="36.2" fill="#6cbdea"/>
<rect x="1842.03" y="2404.7" width="4.11" height="36.2" fill="#3d7fba"/>
<rect x="1846.09" y="2404.7" width="4.11" height="36.2" fill="#8b43bc"/>
<rect x="1850.15" y="2404.7" width="4.11" height="36.2" fill="#6cbdea"/>
<rect x="1854.21" y="2404.7" width="6.14" height="36.2" fill="#b9282b"/>
<rect x="1860.3" y="2404.7" width="2.08" height="36.2" fill="#6cbdea"/>
<rect x="1862.33" y="2404.7" width="4.11" height="36.2" fill="#45995d"/>
<rect x="1866.39" y="2404.7" width="4.11" height="36.2" fill="#c979b5"/>
<rect x="1870.45" y="2404.7" width="2.08" height="36.2" fill="#e8ec4d"/>
<rect x="1872.48" y="2404.7" width="4.11" height="36.2" fill="#6cbdea"/>
<rect x="1876.54" y="2404.7" width="2.08" height="36.2" fill="#42ab7b"/>
<rect x="1878.57" y="2404.7" width="2.08" height="36.2" fill="#3d7fba"/>
<rect x="1880.61" y="2404.7" width="2.08" height="36.2" fill="#e8ec4d"/>
<rect x="1882.64" y="2404.7" width="2.08" height="36.2" fill="#8b43bc"/>
<rect x="1884.67" y="2404.7" width="6.14" height="36.2" fill="#e8ec4d"/>
<rect x="1890.76" y="2404.7" width="4.11" height="36.2" fill="#d9661f"/>
<rect x="1894.82" y="2404.7" width="2.08" height="36.2" fill="#c979b5"/>
<rect x="1896.85" y="2404.7" width="2.08" height="36.2" fill="#3d7fba"/>
<rect x="1898.88" y="2404.7" width="2.08" height="36.2" fill="#8b43bc"/>
<rect x="1900.91" y="2404.7" width="2.08" height="36.2" fill="#d9661f"/>
<rect x="1902.94" y="2404.7" width="2.08" height="36.2" fill="#45995d"/>
<rect x="1904.97" y="2404.7" width="2.08" height="36.2" fill="#8b43bc"/>
<rect x="1907" y="2404.7" width="2.08" height="36.2" fill="#6cbdea"/>
<rect x="1909.03" y="2404.7" width="2.08" height="36.2" fill="#8b43bc"/>
<rect x="1911.06" y="2404.7" width="16.29" height="36.2" fill="#dfa42a"/>
<rect x="1927.3" y="2404.7" width="2.08" height="36.2" fill="#e8ec4d"/>
<rect x="1929.33" y="2404.7" width="2.08" height="36.2" fill="#b9282b"/>
<rect x="1931.36" y="2404.7" width="2.08" height="36.2" fill="#42ab7b"/>
<rect x="1933.39" y="2404.7" width="2.08" height="36.2" fill="#d9661f"/>
<rect x="1935.42" y="2404.7" width="2.08" height="36.2" fill="#c979b5"/>
<rect x="1937.45" y="2404.7" width="2.08" height="36.2" fill="#8b43bc"/>
<rect x="1939.48" y="2404.7" width="2.08" height="36.2" fill="#c979b5"/>
<rect x="1941.51" y="2404.7" width="2.08" height="36.2" fill="#3d7fba"/>
<rect x="1943.54" y="2404.7" width="2.08" height="36.2" fill="#45995d"/>
<rect x="1945.57" y="2404.7" width="2.08" height="36.2" fill="#6cbdea"/>
<rect x="1947.6" y="2404.7" width="6.14" height="36.2" fill="#e8ec4d"/>
<rect x="1953.69" y="2404.7" width="2.08" height="36.2" fill="#d9661f"/>
<rect x="1955.72" y="2404.7" width="2.08" height="36.2" fill="#45995d"/>
<rect x="1957.76" y="2404.7" width="2.08" height="36.2" fill="#d9661f"/>
<rect x="1959.79" y="2404.7" width="4.11" height="36.2" fill="#8b43bc"/>
<rect x="1963.85" y="2404.7" width="2.08" height="36.2" fill="#c979b5"/>
<rect x="1965.88" y="2404.7" width="2.08" height="36.2" fill="#e8ec4d"/>
<rect x="1967.91" y="2404.7" width="2.08" height="36.2" fill="#45995d"/>
<rect x="1969.94" y="2404.7" width="2.08" height="36.2" fill="#8b43bc"/>
<rect x="1971.97" y="2404.7" width="4.11" height="36.2" fill="#3d7fba"/>
<rect x="1976.03" y="2404.7" width="2.08" height="36.2" fill="#c979b5"/>
<rect x="1978.06" y="2404.7" width="4.11" height="36.2" fill="#d9661f"/>
<rect x="1982.12" y="2404.7" width="2.08" height="36.2" fill="#e8ec4d"/>
<rect x="1984.15" y="2404.7" width="4.11" height="36.2" fill="#8b43bc"/>
<rect x="1988.21" y="2404.7" width="2.08" height="36.2" fill="#42ab7b"/>
<rect x="1990.24" y="2404.7" width="2.08" height="36.2" fill="#e8ec4d"/>
<rect x="1992.27" y="2404.7" width="2.08" height="36.2" fill="#d9661f"/>
<rect x="1994.3" y="2404.7" width="2.08" height="36.2" fill="#e8ec4d"/>
<rect x="1996.33" y="2404.7" width="4.11" height="36.2" fill="#b9282b"/>
<rect x="2000.39" y="2404.7" width="6.14" height="36.2" fill="#6cbdea"/>
<rect x="2006.48" y="2404.7" width="8.17" height="36.2" fill="#3d7fba"/>
<rect x="2014.6" y="2404.7" width="4.11" height="36.2" fill="#8b43bc"/>
<rect x="2018.66" y="2404.7" width="2.08" height="36.2" fill="#3d7fba"/>
<rect x="2020.69" y="2404.7" width="2.08" height="36.2" fill="#c979b5"/>
<rect x="2022.72" y="2404.7" width="2.08" height="36.2" fill="#42ab7b"/>
<rect x="2024.75" y="2404.7" width="2.08" height="36.2" fill="#6cbdea"/>
<rect x="2026.78" y="2404.7" width="2.08" height="36.2" fill="#8b43bc"/>
<rect x="2028.81" y="2404.7" width="2.08" height="36.2" fill="#d9661f"/>
<rect x="2030.84" y="2404.7" width="2.08" height="36.2" fill="#42ab7b"/>
<rect x="2032.87" y="2404.7" width="4.11" height="36.2" fill="#3d7fba"/>
<rect x="2036.94" y="2404.7" width="2.08" height="36.2" fill="#b9282b"/>
<rect x="2038.97" y="2404.7" width="4.11" height="36.2" fill="#c979b5"/>
<rect x="2043.03" y="2404.7" width="2.08" height="36.2" fill="#3d7fba"/>
<rect x="2045.06" y="2404.7" width="4.11" height="36.2" fill="#8b43bc"/>
<rect x="2049.12" y="2404.7" width="2.08" height="36.2" fill="#45995d"/>
<rect x="2051.15" y="2404.7" width="2.08" height="36.2" fill="#c979b5"/>
<rect x="2053.18" y="2404.7" width="2.08" height="36.2" fill="#e8ec4d"/>
<rect x="2055.21" y="2404.7" width="2.08" height="36.2" fill="#6cbdea"/>
<rect x="2057.24" y="2404.7" width="4.11" height="36.2" fill="#8b43bc"/>
<rect x="2061.3" y="2404.7" width="2.08" height="36.2" fill="#c979b5"/>
<rect x="2063.33" y="2404.7" width="2.08" height="36.2" fill="#3d7fba"/>
<rect x="2065.36" y="2404.7" width="2.08" height="36.2" fill="#c979b5"/>
<rect x="2067.39" y="2404.7" width="2.08" height="36.2" fill="#b9282b"/>
<rect x="2069.42" y="2404.7" width="4.11" height="36.2" fill="#c979b5"/>
<rect x="2073.48" y="2404.7" width="2.08" height="36.2" fill="#3d7fba"/>
<rect x="2075.51" y="2404.7" width="2.08" height="36.2" fill="#b9282b"/>
<rect x="2077.54" y="2404.7" width="2.08" height="36.2" fill="#d9661f"/>
<rect x="2079.57" y="2404.7" width="6.14" height="36.2" fill="#8b43bc"/>
<rect x="2085.66" y="2404.7" width="2.08" height="36.2" fill="#d9661f"/>
<rect x="2087.69" y="2404.7" width="10.2" height="36.2" fill="#dfa42a"/>
<rect x="2097.84" y="2404.7" width="2.08" height="36.2" fill="#b9282b"/>
<rect x="2099.87" y="2404.7" width="2.08" height="36.2" fill="#c979b5"/>
<rect x="2101.9" y="2404.7" width="2.08" height="36.2" fill="#8b43bc"/>
<rect x="2103.93" y="2404.7" width="2.08" height="36.2" fill="#b9282b"/>
<rect x="2105.96" y="2404.7" width="2.08" height="36.2" fill="#6cbdea"/>
<rect x="2107.99" y="2404.7" width="2.08" height="36.2" fill="#3d7fba"/>
<rect x="2110.02" y="2404.7" width="2.08" height="36.2" fill="#8b43bc"/>
<rect x="2112.06" y="2404.7" width="2.08" height="36.2" fill="#e8ec4d"/>
<rect x="2114.09" y="2404.7" width="6.14" height="36.2" fill="#8b43bc"/>
<rect x="2120.18" y="2404.7" width="2.08" height="36.2" fill="#d9661f"/>
<rect x="2122.21" y="2404.7" width="2.08" height="36.2" fill="#8b43bc"/>
<rect x="2124.24" y="2404.7" width="2.08" height="36.2" fill="#42ab7b"/>
<rect x="2126.27" y="2404.7" width="4.11" height="36.2" fill="#8b43bc"/>
<rect x="2130.33" y="2404.7" width="2.08" height="36.2" fill="#c979b5"/>
<rect x="2132.36" y="2404.7" width="4.11" height="36.2" fill="#e8ec4d"/>
<rect x="2136.42" y="2404.7" width="12.23" height="36.2" fill="#dfa42a"/>
<path d="M232.03 2332.7V2440.9M234.06 2332.7V2440.9M236.09 2332.7V2440.9M238.12 2332.7V2440.9M240.15 2332.7V2440.9M242.18 2332.7V2440.9M244.21 2332.7V2440.9M246.24 2332.7V2440.9M248.27 2332.7V2440.9M250.3 2332.7V2440.9M252.33 2332.7V2440.9M254.36 2332.7V2440.9M256.39 2332.7V2440.9M258.42 2332.7V2440.9M260.45 2332.7V2440.9M262.48 2332.7V2440.9M264.51 2332.7V2440.9M266.54 2332.7V2440.9M268.58 2332.7V2440.9M270.61 2332.7V2440.9M272.64 2332.7V2440.9M274.67 2332.7V2440.9M276.7 2332.7V2440.9M278.73 2332.7V2440.9M280.76 2332.7V2440.9M282.79 2332.7V2440.9M284.82 2332.7V2440.9M286.85 2332.7V2440.9M288.88 2332.7V2440.9M290.91 2332.7V2440.9M292.94 2332.7V2440.9M294.97 2332.7V2440.9M297 2332.7V2440.9M299.03 2332.7V2440.9M301.06 2332.7V2440.9M303.09 2332.7V2440.9M305.12 2332.7V2440.9M307.15 2332.7V2440.9M309.18 2332.7V2440.9M311.21 2332.7V2440.9M313.24 2332.7V2440.9M315.27 2332.7V2440.9M317.3 2332.7V2440.9M319.33 2332.7V2440.9M321.36 2332.7V2440.9M323.39 2332.7V2440.9M325.42 2332.7V2440.9M327.45 2332.7V2440.9M329.48 2332.7V2440.9M331.51 2332.7V2440.9M333.54 2332.7V2440.9M335.57 2332.7V2440.9M337.6 2332.7V2440.9M339.63 2332.7V2440.9M341.66 2332.7V2440.9M343.69 2332.7V2440.9M345.73 2332.7V2440.9M347.76 2332.7V2440.9M349.79 2332.7V2440.9M351.82 2332.7V2440.9M353.85 2332.7V2440.9M355.88 2332.7V2440.9M357.91 2332.7V2440.9M359.94 2332.7V2440.9M361.97 2332.7V2440.9M364 2332.7V2440.9M366.03 2332.7V2440.9M368.06 2332.7V2440.9M370.09 2332.7V2440.9M372.12 2332.7V2440.9M374.15 2332.7V2440.9M376.18 2332.7V2440.9M378.21 2332.7V2440.9M380.24 2332.7V2440.9M382.27 2332.7V2440.9M384.3 2332.7V2440.9M386.33 2332.7V2440.9M388.36 2332.7V2440.9M390.39 2332.7V2440.9M392.42 2332.7V2440.9M394.45 2332.7V2440.9M396.48 2332.7V2440.9M398.51 2332.7V2440.9M400.54 2332.7V2440.9M402.57 2332.7V2440.9M404.6 2332.7V2440.9M406.63 2332.7V2440.9M408.66 2332.7V2440.9M410.69 2332.7V2440.9M412.72 2332.7V2440.9M414.75 2332.7V2440.9M416.78 2332.7V2440.9M418.81 2332.7V2440.9M420.84 2332.7V2440.9M422.88 2332.7V2440.9M424.91 2332.7V2440.9M426.94 2332.7V2440.9M428.97 2332.7V2440.9M431 2332.7V2440.9M433.03 2332.7V2440.9M435.06 2332.7V2440.9M437.09 2332.7V2440.9M439.12 2332.7V2440.9M441.15 2332.7V2440.9M443.18 2332.7V2440.9M445.21 2332.7V2440.9M447.24 2332.7V2440.9M449.27 2332.7V2440.9M451.3 2332.7V2440.9M453.33 2332.7V2440.9M455.36 2332.7V2440.9M457.39 2332.7V2440.9M459.42 2332.7V2440.9M461.45 2332.7V2440.9M463.48 2332.7V2440.9M465.51 2332.7V2440.9M467.54 2332.7V2440.9M469.57 2332.7V2440.9M471.6 2332.7V2440.9M473.63 2332.7V2440.9M475.66 2332.7V2440.9M477.69 2332.7V2440.9M479.72 2332.7V2440.9M481.75 2332.7V2440.9M483.78 2332.7V2440.9M485.81 2332.7V2440.9M487.84 2332.7V2440.9M489.87 2332.7V2440.9M491.9 2332.7V2440.9M493.93 2332.7V2440.9M495.96 2332.7V2440.9M497.99 2332.7V2440.9M500.03 2332.7V2440.9M502.06 2332.7V2440.9M504.09 2332.7V2440.9M506.12 2332.7V2440.9M508.15 2332.7V2440.9M510.18 2332.7V2440.9M512.21 2332.7V2440.9M514.24 2332.7V2440.9M516.27 2332.7V2440.9M518.3 2332.7V2440.9M520.33 2332.7V2440.9M522.36 2332.7V2440.9M524.39 2332.7V2440.9M526.42 2332.7V2440.9M528.45 2332.7V2440.9M530.48 2332.7V2440.9M532.51 2332.7V2440.9M534.54 2332.7V2440.9M536.57 2332.7V2440.9M538.6 2332.7V2440.9M540.63 2332.7V2440.9M542.66 2332.7V2440.9M544.69 2332.7V2440.9M546.72 2332.7V2440.9M548.75 2332.7V2440.9M550.78 2332.7V2440.9M552.81 2332.7V2440.9M554.84 2332.7V2440.9M556.87 2332.7V2440.9M558.9 2332.7V2440.9M560.93 2332.7V2440.9M562.96 2332.7V2440.9M564.99 2332.7V2440.9M567.02 2332.7V2440.9M569.05 2332.7V2440.9M571.08 2332.7V2440.9M573.11 2332.7V2440.9M575.14 2332.7V2440.9M577.18 2332.7V2440.9M579.21 2332.7V2440.9M581.24 2332.7V2440.9M583.27 2332.7V2440.9M585.3 2332.7V2440.9M587.33 2332.7V2440.9M589.36 2332.7V2440.9M591.39 2332.7V2440.9M593.42 2332.7V2440.9M595.45 2332.7V2440.9M597.48 2332.7V2440.9M599.51 2332.7V2440.9M601.54 2332.7V2440.9M603.57 2332.7V2440.9M605.6 2332.7V2440.9M607.63 2332.7V2440.9M609.66 2332.7V2440.9M611.69 2332.7V2440.9M613.72 2332.7V2440.9M615.75 2332.7V2440.9M617.78 2332.7V2440.9M619.81 2332.7V2440.9M621.84 2332.7V2440.9M623.87 2332.7V2440.9M625.9 2332.7V2440.9M627.93 2332.7V2440.9M629.96 2332.7V2440.9M631.99 2332.7V2440.9M634.02 2332.7V2440.9M636.05 2332.7V2440.9M638.08 2332.7V2440.9M640.11 2332.7V2440.9M642.14 2332.7V2440.9M644.17 2332.7V2440.9M646.2 2332.7V2440.9M648.23 2332.7V2440.9M650.26 2332.7V2440.9M652.3 2332.7V2440.9M654.33 2332.7V2440.9M656.36 2332.7V2440.9M658.39 2332.7V2440.9M660.42 2332.7V2440.9M662.45 2332.7V2440.9M664.48 2332.7V2440.9M666.51 2332.7V2440.9M668.54 2332.7V2440.9M670.57 2332.7V2440.9M672.6 2332.7V2440.9M674.63 2332.7V2440.9M676.66 2332.7V2440.9M678.69 2332.7V2440.9M680.72 2332.7V2440.9M682.75 2332.7V2440.9M684.78 2332.7V2440.9M686.81 2332.7V2440.9M688.84 2332.7V2440.9M690.87 2332.7V2440.9M692.9 2332.7V2440.9M694.93 2332.7V2440.9M696.96 2332.7V2440.9M698.99 2332.7V2440.9M701.02 2332.7V2440.9M703.05 2332.7V2440.9M705.08 2332.7V2440.9M707.11 2332.7V2440.9M709.14 2332.7V2440.9M711.17 2332.7V2440.9M713.2 2332.7V2440.9M715.23 2332.7V2440.9M717.26 2332.7V2440.9M719.29 2332.7V2440.9M721.32 2332.7V2440.9M723.35 2332.7V2440.9M725.38 2332.7V2440.9M727.41 2332.7V2440.9M729.45 2332.7V2440.9M731.48 2332.7V2440.9M733.51 2332.7V2440.9M735.54 2332.7V2440.9M737.57 2332.7V2440.9M739.6 2332.7V2440.9M741.63 2332.7V2440.9M743.66 2332.7V2440.9M745.69 2332.7V2440.9M747.72 2332.7V2440.9M749.75 2332.7V2440.9M751.78 2332.7V2440.9M753.81 2332.7V2440.9M755.84 2332.7V2440.9M757.87 2332.7V2440.9M759.9 2332.7V2440.9M761.93 2332.7V2440.9M763.96 2332.7V2440.9M765.99 2332.7V2440.9M768.02 2332.7V2440.9M770.05 2332.7V2440.9M772.08 2332.7V2440.9M774.11 2332.7V2440.9M776.14 2332.7V2440.9M778.17 2332.7V2440.9M780.2 2332.7V2440.9M782.23 2332.7V2440.9M784.26 2332.7V2440.9M786.29 2332.7V2440.9M788.32 2332.7V2440.9M790.35 2332.7V2440.9M792.38 2332.7V2440.9M794.41 2332.7V2440.9M796.44 2332.7V2440.9M798.47 2332.7V2440.9M800.5 2332.7V2440.9M802.53 2332.7V2440.9M804.56 2332.7V2440.9M806.6 2332.7V2440.9M808.63 2332.7V2440.9M810.66 2332.7V2440.9M812.69 2332.7V2440.9M814.72 2332.7V2440.9M816.75 2332.7V2440.9M818.78 2332.7V2440.9M820.81 2332.7V2440.9M822.84 2332.7V2440.9M824.87 2332.7V2440.9M826.9 2332.7V2440.9M828.93 2332.7V2440.9M830.96 2332.7V2440.9M832.99 2332.7V2440.9M835.02 2332.7V2440.9M837.05 2332.7V2440.9M839.08 2332.7V2440.9M841.11 2332.7V2440.9M843.14 2332.7V2440.9M845.17 2332.7V2440.9M847.2 2332.7V2440.9M849.23 2332.7V2440.9M851.26 2332.7V2440.9M853.29 2332.7V2440.9M855.32 2332.7V2440.9M857.35 2332.7V2440.9M859.38 2332.7V2440.9M861.41 2332.7V2440.9M863.44 2332.7V2440.9M865.47 2332.7V2440.9M867.5 2332.7V2440.9M869.53 2332.7V2440.9M871.56 2332.7V2440.9M873.59 2332.7V2440.9M875.62 2332.7V2440.9M877.65 2332.7V2440.9M879.68 2332.7V2440.9M881.71 2332.7V2440.9M883.75 2332.7V2440.9M885.78 2332.7V2440.9M887.81 2332.7V2440.9M889.84 2332.7V2440.9M891.87 2332.7V2440.9M893.9 2332.7V2440.9M895.93 2332.7V2440.9M897.96 2332.7V2440.9M899.99 2332.7V2440.9M902.02 2332.7V2440.9M904.05 2332.7V2440.9M906.08 2332.7V2440.9M908.11 2332.7V2440.9M910.14 2332.7V2440.9M912.17 2332.7V2440.9M914.2 2332.7V2440.9M916.23 2332.7V2440.9M918.26 2332.7V2440.9M920.29 2332.7V2440.9M922.32 2332.7V2440.9M924.35 2332.7V2440.9M926.38 2332.7V2440.9M928.41 2332.7V2440.9M930.44 2332.7V2440.9M932.47 2332.7V2440.9M934.5 2332.7V2440.9M936.53 2332.7V2440.9M938.56 2332.7V2440.9M940.59 2332.7V2440.9M942.62 2332.7V2440.9M944.65 2332.7V2440.9M946.68 2332.7V2440.9M948.71 2332.7V2440.9M950.74 2332.7V2440.9M952.77 2332.7V2440.9M954.8 2332.7V2440.9M956.83 2332.7V2440.9M958.86 2332.7V2440.9M960.9 2332.7V2440.9M962.93 2332.7V2440.9M964.96 2332.7V2440.9M966.99 2332.7V2440.9M969.02 2332.7V2440.9M971.05 2332.7V2440.9M973.08 2332.7V2440.9M975.11 2332.7V2440.9M977.14 2332.7V2440.9M979.17 2332.7V2440.9M981.2 2332.7V2440.9M983.23 2332.7V2440.9M985.26 2332.7V2440.9M987.29 2332.7V2440.9M989.32 2332.7V2440.9M991.35 2332.7V2440.9M993.38 2332.7V2440.9M995.41 2332.7V2440.9M997.44 2332.7V2440.9M999.47 2332.7V2440.9M1001.5 2332.7V2440.9M1003.53 2332.7V2440.9M1005.56 2332.7V2440.9M1007.59 2332.7V2440.9M1009.62 2332.7V2440.9M1011.65 2332.7V2440.9M1013.68 2332.7V2440.9M1015.71 2332.7V2440.9M1017.74 2332.7V2440.9M1019.77 2332.7V2440.9M1021.8 2332.7V2440.9M1023.83 2332.7V2440.9M1025.86 2332.7V2440.9M1027.89 2332.7V2440.9M1029.92 2332.7V2440.9M1031.95 2332.7V2440.9M1033.98 2332.7V2440.9M1036.02 2332.7V2440.9M1038.05 2332.7V2440.9M1040.08 2332.7V2440.9M1042.11 2332.7V2440.9M1044.14 2332.7V2440.9M1046.17 2332.7V2440.9M1048.2 2332.7V2440.9M1050.23 2332.7V2440.9M1052.26 2332.7V2440.9M1054.29 2332.7V2440.9M1056.32 2332.7V2440.9M1058.35 2332.7V2440.9M1060.38 2332.7V2440.9M1062.41 2332.7V2440.9M1064.44 2332.7V2440.9M1066.47 2332.7V2440.9M1068.5 2332.7V2440.9M1070.53 2332.7V2440.9M1072.56 2332.7V2440.9M1074.59 2332.7V2440.9M1076.62 2332.7V2440.9M1078.65 2332.7V2440.9M1080.68 2332.7V2440.9M1082.71 2332.7V2440.9M1084.74 2332.7V2440.9M1086.77 2332.7V2440.9M1088.8 2332.7V2440.9M1090.83 2332.7V2440.9M1092.86 2332.7V2440.9M1094.89 2332.7V2440.9M1096.92 2332.7V2440.9M1098.95 2332.7V2440.9M1100.98 2332.7V2440.9M1103.01 2332.7V2440.9M1105.04 2332.7V2440.9M1107.07 2332.7V2440.9M1109.1 2332.7V2440.9M1111.13 2332.7V2440.9M1113.17 2332.7V2440.9M1115.2 2332.7V2440.9M1117.23 2332.7V2440.9M1119.26 2332.7V2440.9M1121.29 2332.7V2440.9M1123.32 2332.7V2440.9M1125.35 2332.7V2440.9M1127.38 2332.7V2440.9M1129.41 2332.7V2440.9M1131.44 2332.7V2440.9M1133.47 2332.7V2440.9M1135.5 2332.7V2440.9M1137.53 2332.7V2440.9M1139.56 2332.7V2440.9M1141.59 2332.7V2440.9M1143.62 2332.7V2440.9M1145.65 2332.7V2440.9M1147.68 2332.7V2440.9M1149.71 2332.7V2440.9M1151.74 2332.7V2440.9M1153.77 2332.7V2440.9M1155.8 2332.7V2440.9M1157.83 2332.7V2440.9M1159.86 2332.7V2440.9M1161.89 2332.7V2440.9M1163.92 2332.7V2440.9M1165.95 2332.7V2440.9M1167.98 2332.7V2440.9M1170.01 2332.7V2440.9M1172.04 2332.7V2440.9M1174.07 2332.7V2440.9M1176.1 2332.7V2440.9M1178.13 2332.7V2440.9M1180.16 2332.7V2440.9M1182.19 2332.7V2440.9M1184.22 2332.7V2440.9M1186.25 2332.7V2440.9M1188.28 2332.7V2440.9M1190.32 2332.7V2440.9M1192.35 2332.7V2440.9M1194.38 2332.7V2440.9M1196.41 2332.7V2440.9M1198.44 2332.7V2440.9M1200.47 2332.7V2440.9M1202.5 2332.7V2440.9M1204.53 2332.7V2440.9M1206.56 2332.7V2440.9M1208.59 2332.7V2440.9M1210.62 2332.7V2440.9M1212.65 2332.7V2440.9M1214.68 2332.7V2440.9M1216.71 2332.7V2440.9M1218.74 2332.7V2440.9M1220.77 2332.7V2440.9M1222.8 2332.7V2440.9M1224.83 2332.7V2440.9M1226.86 2332.7V2440.9M1228.89 2332.7V2440.9M1230.92 2332.7V2440.9M1232.95 2332.7V2440.9M1234.98 2332.7V2440.9M1237.01 2332.7V2440.9M1239.04 2332.7V2440.9M1241.07 2332.7V2440.9M1243.1 2332.7V2440.9M1245.13 2332.7V2440.9M1247.16 2332.7V2440.9M1249.19 2332.7V2440.9M1251.22 2332.7V2440.9M1253.25 2332.7V2440.9M1255.28 2332.7V2440.9M1257.31 2332.7V2440.9M1259.34 2332.7V2440.9M1261.37 2332.7V2440.9M1263.4 2332.7V2440.9M1265.43 2332.7V2440.9M1267.47 2332.7V2440.9M1269.5 2332.7V2440.9M1271.53 2332.7V2440.9M1273.56 2332.7V2440.9M1275.59 2332.7V2440.9M1277.62 2332.7V2440.9M1279.65 2332.7V2440.9M1281.68 2332.7V2440.9M1283.71 2332.7V2440.9M1285.74 2332.7V2440.9M1287.77 2332.7V2440.9M1289.8 2332.7V2440.9M1291.83 2332.7V2440.9M1293.86 2332.7V2440.9M1295.89 2332.7V2440.9M1297.92 2332.7V2440.9M1299.95 2332.7V2440.9M1301.98 2332.7V2440.9M1304.01 2332.7V2440.9M1306.04 2332.7V2440.9M1308.07 2332.7V2440.9M1310.1 2332.7V2440.9M1312.13 2332.7V2440.9M1314.16 2332.7V2440.9M1316.19 2332.7V2440.9M1318.22 2332.7V2440.9M1320.25 2332.7V2440.9M1322.28 2332.7V2440.9M1324.31 2332.7V2440.9M1326.34 2332.7V2440.9M1328.37 2332.7V2440.9M1330.4 2332.7V2440.9M1332.43 2332.7V2440.9M1334.46 2332.7V2440.9M1336.49 2332.7V2440.9M1338.52 2332.7V2440.9M1340.55 2332.7V2440.9M1342.58 2332.7V2440.9M1344.62 2332.7V2440.9M1346.65 2332.7V2440.9M1348.68 2332.7V2440.9M1350.71 2332.7V2440.9M1352.74 2332.7V2440.9M1354.77 2332.7V2440.9M1356.8 2332.7V2440.9M1358.83 2332.7V2440.9M1360.86 2332.7V2440.9M1362.89 2332.7V2440.9M1364.92 2332.7V2440.9M1366.95 2332.7V2440.9M1368.98 2332.7V2440.9M1371.01 2332.7V2440.9M1373.04 2332.7V2440.9M1375.07 2332.7V2440.9M1377.1 2332.7V2440.9M1379.13 2332.7V2440.9M1381.16 2332.7V2440.9M1383.19 2332.7V2440.9M1385.22 2332.7V2440.9M1387.25 2332.7V2440.9M1389.28 2332.7V2440.9M1391.31 2332.7V2440.9M1393.34 2332.7V2440.9M1395.37 2332.7V2440.9M1397.4 2332.7V2440.9M1399.43 2332.7V2440.9M1401.46 2332.7V2440.9M1403.49 2332.7V2440.9M1405.52 2332.7V2440.9M1407.55 2332.7V2440.9M1409.58 2332.7V2440.9M1411.61 2332.7V2440.9M1413.64 2332.7V2440.9M1415.67 2332.7V2440.9M1417.7 2332.7V2440.9M1419.74 2332.7V2440.9M1421.77 2332.7V2440.9M1423.8 2332.7V2440.9M1425.83 2332.7V2440.9M1427.86 2332.7V2440.9M1429.89 2332.7V2440.9M1431.92 2332.7V2440.9M1433.95 2332.7V2440.9M1435.98 2332.7V2440.9M1438.01 2332.7V2440.9M1440.04 2332.7V2440.9M1442.07 2332.7V2440.9M1444.1 2332.7V2440.9M1446.13 2332.7V2440.9M1448.16 2332.7V2440.9M1450.19 2332.7V2440.9M1452.22 2332.7V2440.9M1454.25 2332.7V2440.9M1456.28 2332.7V2440.9M1458.31 2332.7V2440.9M1460.34 2332.7V2440.9M1462.37 2332.7V2440.9M1464.4 2332.7V2440.9M1466.43 2332.7V2440.9M1468.46 2332.7V2440.9M1470.49 2332.7V2440.9M1472.52 2332.7V2440.9M1474.55 2332.7V2440.9M1476.58 2332.7V2440.9M1478.61 2332.7V2440.9M1480.64 2332.7V2440.9M1482.67 2332.7V2440.9M1484.7 2332.7V2440.9M1486.73 2332.7V2440.9M1488.76 2332.7V2440.9M1490.79 2332.7V2440.9M1492.82 2332.7V2440.9M1494.85 2332.7V2440.9M1496.89 2332.7V2440.9M1498.92 2332.7V2440.9M1500.95 2332.7V2440.9M1502.98 2332.7V2440.9M1505.01 2332.7V2440.9M1507.04 2332.7V2440.9M1509.07 2332.7V2440.9M1511.1 2332.7V2440.9M1513.13 2332.7V2440.9M1515.16 2332.7V2440.9M1517.19 2332.7V2440.9M1519.22 2332.7V2440.9M1521.25 2332.7V2440.9M1523.28 2332.7V2440.9M1525.31 2332.7V2440.9M1527.34 2332.7V2440.9M1529.37 2332.7V2440.9M1531.4 2332.7V2440.9M1533.43 2332.7V2440.9M1535.46 2332.7V2440.9M1537.49 2332.7V2440.9M1539.52 2332.7V2440.9M1541.55 2332.7V2440.9M1543.58 2332.7V2440.9M1545.61 2332.7V2440.9M1547.64 2332.7V2440.9M1549.67 2332.7V2440.9M1551.7 2332.7V2440.9M1553.73 2332.7V2440.9M1555.76 2332.7V2440.9M1557.79 2332.7V2440.9M1559.82 2332.7V2440.9M1561.85 2332.7V2440.9M1563.88 2332.7V2440.9M1565.91 2332.7V2440.9M1567.94 2332.7V2440.9M1569.97 2332.7V2440.9M1572 2332.7V2440.9M1574.04 2332.7V2440.9M1576.07 2332.7V2440.9M1578.1 2332.7V2440.9M1580.13 2332.7V2440.9M1582.16 2332.7V2440.9M1584.19 2332.7V2440.9M1586.22 2332.7V2440.9M1588.25 2332.7V2440.9M1590.28 2332.7V2440.9M1592.31 2332.7V2440.9M1594.34 2332.7V2440.9M1596.37 2332.7V2440.9M1598.4 2332.7V2440.9M1600.43 2332.7V2440.9M1602.46 2332.7V2440.9M1604.49 2332.7V2440.9M1606.52 2332.7V2440.9M1608.55 2332.7V2440.9M1610.58 2332.7V2440.9M1612.61 2332.7V2440.9M1614.64 2332.7V2440.9M1616.67 2332.7V2440.9M1618.7 2332.7V2440.9M1620.73 2332.7V2440.9M1622.76 2332.7V2440.9M1624.79 2332.7V2440.9M1626.82 2332.7V2440.9M1628.85 2332.7V2440.9M1630.88 2332.7V2440.9M1632.91 2332.7V2440.9M1634.94 2332.7V2440.9M1636.97 2332.7V2440.9M1639 2332.7V2440.9M1641.03 2332.7V2440.9M1643.06 2332.7V2440.9M1645.09 2332.7V2440.9M1647.12 2332.7V2440.9M1649.15 2332.7V2440.9M1651.19 2332.7V2440.9M1653.22 2332.7V2440.9M1655.25 2332.7V2440.9M1657.28 2332.7V2440.9M1659.31 2332.7V2440.9M1661.34 2332.7V2440.9M1663.37 2332.7V2440.9M1665.4 2332.7V2440.9M1667.43 2332.7V2440.9M1669.46 2332.7V2440.9M1671.49 2332.7V2440.9M1673.52 2332.7V2440.9M1675.55 2332.7V2440.9M1677.58 2332.7V2440.9M1679.61 2332.7V2440.9M1681.64 2332.7V2440.9M1683.67 2332.7V2440.9M1685.7 2332.7V2440.9M1687.73 2332.7V2440.9M1689.76 2332.7V2440.9M1691.79 2332.7V2440.9M1693.82 2332.7V2440.9M1695.85 2332.7V2440.9M1697.88 2332.7V2440.9M1699.91 2332.7V2440.9M1701.94 2332.7V2440.9M1703.97 2332.7V2440.9M1706 2332.7V2440.9M1708.03 2332.7V2440.9M1710.06 2332.7V2440.9M1712.09 2332.7V2440.9M1714.12 2332.7V2440.9M1716.15 2332.7V2440.9M1718.18 2332.7V2440.9M1720.21 2332.7V2440.9M1722.24 2332.7V2440.9M1724.27 2332.7V2440.9M1726.3 2332.7V2440.9M1728.34 2332.7V2440.9M1730.37 2332.7V2440.9M1732.4 2332.7V2440.9M1734.43 2332.7V2440.9M1736.46 2332.7V2440.9M1738.49 2332.7V2440.9M1740.52 2332.7V2440.9M1742.55 2332.7V2440.9M1744.58 2332.7V2440.9M1746.61 2332.7V2440.9M1748.64 2332.7V2440.9M1750.67 2332.7V2440.9M1752.7 2332.7V2440.9M1754.73 2332.7V2440.9M1756.76 2332.7V2440.9M1758.79 2332.7V2440.9M1760.82 2332.7V2440.9M1762.85 2332.7V2440.9M1764.88 2332.7V2440.9M1766.91 2332.7V2440.9M1768.94 2332.7V2440.9M1770.97 2332.7V2440.9M1773 2332.7V2440.9M1775.03 2332.7V2440.9M1777.06 2332.7V2440.9M1779.09 2332.7V2440.9M1781.12 2332.7V2440.9M1783.15 2332.7V2440.9M1785.18 2332.7V2440.9M1787.21 2332.7V2440.9M1789.24 2332.7V2440.9M1791.27 2332.7V2440.9M1793.3 2332.7V2440.9M1795.33 2332.7V2440.9M1797.36 2332.7V2440.9M1799.39 2332.7V2440.9M1801.42 2332.7V2440.9M1803.46 2332.7V2440.9M1805.49 2332.7V2440.9M1807.52 2332.7V2440.9M1809.55 2332.7V2440.9M1811.58 2332.7V2440.9M1813.61 2332.7V2440.9M1815.64 2332.7V2440.9M1817.67 2332.7V2440.9M1819.7 2332.7V2440.9M1821.73 2332.7V2440.9M1823.76 2332.7V2440.9M1825.79 2332.7V2440.9M1827.82 2332.7V2440.9M1829.85 2332.7V2440.9M1831.88 2332.7V2440.9M1833.91 2332.7V2440.9M1835.94 2332.7V2440.9M1837.97 2332.7V2440.9M1840 2332.7V2440.9M1842.03 2332.7V2440.9M1844.06 2332.7V2440.9M1846.09 2332.7V2440.9M1848.12 2332.7V2440.9M1850.15 2332.7V2440.9M1852.18 2332.7V2440.9M1854.21 2332.7V2440.9M1856.24 2332.7V2440.9M1858.27 2332.7V2440.9M1860.3 2332.7V2440.9M1862.33 2332.7V2440.9M1864.36 2332.7V2440.9M1866.39 2332.7V2440.9M1868.42 2332.7V2440.9M1870.45 2332.7V2440.9M1872.48 2332.7V2440.9M1874.51 2332.7V2440.9M1876.54 2332.7V2440.9M1878.57 2332.7V2440.9M1880.61 2332.7V2440.9M1882.64 2332.7V2440.9M1884.67 2332.7V2440.9M1886.7 2332.7V2440.9M1888.73 2332.7V2440.9M1890.76 2332.7V2440.9M1892.79 2332.7V2440.9M1894.82 2332.7V2440.9M1896.85 2332.7V2440.9M1898.88 2332.7V2440.9M1900.91 2332.7V2440.9M1902.94 2332.7V2440.9M1904.97 2332.7V2440.9M1907 2332.7V2440.9M1909.03 2332.7V2440.9M1911.06 2332.7V2440.9M1913.09 2332.7V2440.9M1915.12 2332.7V2440.9M1917.15 2332.7V2440.9M1919.18 2332.7V2440.9M1921.21 2332.7V2440.9M1923.24 2332.7V2440.9M1925.27 2332.7V2440.9M1927.3 2332.7V2440.9M1929.33 2332.7V2440.9M1931.36 2332.7V2440.9M1933.39 2332.7V2440.9M1935.42 2332.7V2440.9M1937.45 2332.7V2440.9M1939.48 2332.7V2440.9M1941.51 2332.7V2440.9M1943.54 2332.7V2440.9M1945.57 2332.7V2440.9M1947.6 2332.7V2440.9M1949.63 2332.7V2440.9M1951.66 2332.7V2440.9M1953.69 2332.7V2440.9M1955.72 2332.7V2440.9M1957.76 2332.7V2440.9M1959.79 2332.7V2440.9M1961.82 2332.7V2440.9M1963.85 2332.7V2440.9M1965.88 2332.7V2440.9M1967.91 2332.7V2440.9M1969.94 2332.7V2440.9M1971.97 2332.7V2440.9M1974 2332.7V2440.9M1976.03 2332.7V2440.9M1978.06 2332.7V2440.9M1980.09 2332.7V2440.9M1982.12 2332.7V2440.9M1984.15 2332.7V2440.9M1986.18 2332.7V2440.9M1988.21 2332.7V2440.9M1990.24 2332.7V2440.9M1992.27 2332.7V2440.9M1994.3 2332.7V2440.9M1996.33 2332.7V2440.9M1998.36 2332.7V2440.9M2000.39 2332.7V2440.9M2002.42 2332.7V2440.9M2004.45 2332.7V2440.9M2006.48 2332.7V2440.9M2008.51 2332.7V2440.9M2010.54 2332.7V2440.9M2012.57 2332.7V2440.9M2014.6 2332.7V2440.9M2016.63 2332.7V2440.9M2018.66 2332.7V2440.9M2020.69 2332.7V2440.9M2022.72 2332.7V2440.9M2024.75 2332.7V2440.9M2026.78 2332.7V2440.9M2028.81 2332.7V2440.9M2030.84 2332.7V2440.9M2032.87 2332.7V2440.9M2034.91 2332.7V2440.9M2036.94 2332.7V2440.9M2038.97 2332.7V2440.9M2041 2332.7V2440.9M2043.03 2332.7V2440.9M2045.06 2332.7V2440.9M2047.09 2332.7V2440.9M2049.12 2332.7V2440.9M2051.15 2332.7V2440.9M2053.18 2332.7V2440.9M2055.21 2332.7V2440.9M2057.24 2332.7V2440.9M2059.27 2332.7V2440.9M2061.3 2332.7V2440.9M2063.33 2332.7V2440.9M2065.36 2332.7V2440.9M2067.39 2332.7V2440.9M2069.42 2332.7V2440.9M2071.45 2332.7V2440.9M2073.48 2332.7V2440.9M2075.51 2332.7V2440.9M2077.54 2332.7V2440.9M2079.57 2332.7V2440.9M2081.6 2332.7V2440.9M2083.63 2332.7V2440.9M2085.66 2332.7V2440.9M2087.69 2332.7V2440.9M2089.72 2332.7V2440.9M2091.75 2332.7V2440.9M2093.78 2332.7V2440.9M2095.81 2332.7V2440.9M2097.84 2332.7V2440.9M2099.87 2332.7V2440.9M2101.9 2332.7V2440.9M2103.93 2332.7V2440.9M2105.96 2332.7V2440.9M2107.99 2332.7V2440.9M2110.02 2332.7V2440.9M2112.06 2332.7V2440.9M2114.09 2332.7V2440.9M2116.12 2332.7V2440.9M2118.15 2332.7V2440.9M2120.18 2332.7V2440.9M2122.21 2332.7V2440.9M2124.24 2332.7V2440.9M2126.27 2332.7V2440.9M2128.3 2332.7V2440.9M2130.33 2332.7V2440.9M2132.36 2332.7V2440.9M2134.39 2332.7V2440.9M2136.42 2332.7V2440.9M2138.45 2332.7V2440.9M2140.48 2332.7V2440.9M2142.51 2332.7V2440.9M2144.54 2332.7V2440.9M2146.57 2332.7V2440.9" stroke="#fff" stroke-opacity="0.16" stroke-width="0.6" fill="none"/>
<path d="M230 2368.6H2148.6M230 2404.7H2148.6" stroke="#fff" stroke-opacity="0.35" stroke-width="0.8" fill="none"/>
<path d="M235.08 2332.7V2236.31H237.11V2332.7M233.05 2332.7V2221.7H236.09V2236.31M231.02 2332.7V2212.42H234.57V2221.7M232.79 2212.42V2201.16H239.14V2332.7M235.96 2201.16V2187H241.17V2332.7M243.2 2332.7V2211.45H245.23V2332.7M247.26 2332.7V2250.72H249.29V2332.7M248.27 2250.72V2233.42H251.32V2332.7M249.8 2233.42V2224.03H253.35V2332.7M255.38 2332.7V2224.03H257.41V2332.7M251.57 2224.03V2211.45H256.39V2224.03M244.21 2211.45V2204H253.98V2211.45M261.47 2332.7V2319.73H263.5V2332.7M259.44 2332.7V2317.47H262.48V2319.73M267.56 2332.7V2322.47H269.59V2332.7M265.53 2332.7V2320.97H268.58V2322.47M271.62 2332.7V2321.57H273.65V2332.7M267.05 2320.97V2316.71H272.64V2321.57M260.96 2317.47V2308.33H269.84V2316.71M277.71 2332.7V2319.51H279.74V2332.7M275.68 2332.7V2317.46H278.73V2319.51M277.2 2317.46V2312.19H281.77V2332.7M285.83 2332.7V2322.35H287.86V2332.7M283.8 2332.7V2318.12H286.85V2322.35M289.89 2332.7V2322.4H291.92V2332.7M290.91 2322.4V2317.66H293.95V2332.7M285.32 2318.12V2311.57H292.43V2317.66M288.88 2311.57V2308.94H295.98V2332.7M279.49 2312.19V2304.66H292.43V2308.94M265.4 2308.33V2295.2H285.96V2304.66M300.04 2332.7V2327.8H302.07V2332.7M301.06 2327.8V2325.73H304.1V2332.7M298.01 2332.7V2322.98H302.58V2325.73M306.13 2332.7V2323.01H308.17V2332.7M300.3 2322.98V2317.69H307.15V2323.01M312.23 2332.7V2326.92H314.26V2332.7M310.2 2332.7V2325.07H313.24V2326.92M322.38 2332.7V2329.4H324.41V2332.7M323.39 2329.4V2328.4H326.44V2332.7M320.35 2332.7V2327.03H324.91V2328.4M318.32 2332.7V2325.42H322.63V2327.03M316.29 2332.7V2323.66H320.47V2325.42M311.72 2325.07V2321.19H318.38V2323.66M328.47 2332.7V2327.9H330.5V2332.7M332.53 2332.7V2328.17H334.56V2332.7M329.48 2327.9V2326.3H333.54V2328.17M331.51 2326.3V2323.97H336.59V2332.7M315.05 2321.19V2317.84H334.05V2323.97M303.72 2317.69V2310.21H324.55V2317.84M340.65 2332.7V2329.5H342.68V2332.7M338.62 2332.7V2328.5H341.66V2329.5M340.14 2328.5V2327.5H344.71V2332.7M342.43 2327.5V2325.65H346.74V2332.7M348.77 2332.7V2327.56H350.8V2332.7M354.86 2332.7V2328.5H356.89V2332.7M352.83 2332.7V2326.94H355.88V2328.5M349.79 2327.56V2325.02H354.35V2326.94M358.92 2332.7V2327.33H360.95V2332.7M359.94 2327.33V2325.83H362.98V2332.7M365.01 2332.7V2326.83H367.04V2332.7M361.46 2325.83V2324.33H366.03V2326.83M352.07 2325.02V2321.89H363.74V2324.33M344.58 2325.65V2320.27H357.91V2321.89M371.1 2332.7V2327.64H373.13V2332.7M369.07 2332.7V2326.14H372.12V2327.64M370.6 2326.14V2324.64H375.16V2332.7M379.22 2332.7V2329.21H381.25V2332.7M377.19 2332.7V2327.71H380.24V2329.21M383.28 2332.7V2328.9H385.32V2332.7M384.3 2328.9V2326.83H387.35V2332.7M389.38 2332.7V2328.68H391.41V2332.7M390.39 2328.68V2327.18H393.44V2332.7M385.82 2326.83V2325.33H391.91V2327.18M378.72 2327.71V2323.83H388.87V2325.33M372.88 2324.64V2319.3H383.79V2323.83M351.24 2320.27V2314H378.34V2319.3M364.79 2314V2310.23H395.47V2332.7M314.14 2310.21V2298.5H380.13V2310.23M275.68 2295.2V2281.7H347.13V2298.5M399.53 2332.7V2328.39H401.56V2332.7M397.5 2332.7V2326.89H400.54V2328.39M405.62 2332.7V2329.07H407.65V2332.7M403.59 2332.7V2327.57H406.63V2329.07M409.68 2332.7V2326.9H411.71V2332.7M405.11 2327.57V2325.14H410.69V2326.9M399.02 2326.89V2323.07H407.9V2325.14M413.74 2332.7V2326.92H415.77V2332.7M419.83 2332.7V2329.21H421.86V2332.7M417.8 2332.7V2327.71H420.84V2329.21M419.32 2327.71V2326.21H423.89V2332.7M414.75 2326.92V2324H421.61V2326.21M403.46 2323.07V2318.72H418.18V2324M427.95 2332.7V2325.9H429.98V2332.7M425.92 2332.7V2324.4H428.97V2325.9M434.04 2332.7V2327.56H436.07V2332.7M435.06 2327.56V2325.29H438.1V2332.7M432.01 2332.7V2323.79H436.58V2325.29M440.13 2332.7V2324.81H442.16V2332.7M434.3 2323.79V2320.66H441.15V2324.81M427.44 2324.4V2318.02H437.72V2320.66M410.82 2318.72V2312.43H432.58V2318.02M421.7 2312.43V2305.89H444.19V2332.7M432.95 2305.89V2304.39H446.22V2332.7M448.25 2332.7V2324.91H450.28V2332.7M452.31 2332.7V2324.64H454.34V2332.7M449.27 2324.91V2321.38H453.33V2324.64M456.37 2332.7V2324.11H458.4V2332.7M457.39 2324.11V2322.04H460.44V2332.7M462.47 2332.7V2324.48H464.5V2332.7M458.91 2322.04V2319.52H463.48V2324.48M451.3 2321.38V2313.97H461.2V2319.52M468.56 2332.7V2321.47H470.59V2332.7M466.53 2332.7V2318.91H469.57V2321.47M456.25 2313.97V2311.77H468.05V2318.91M439.59 2304.39V2297.6H462.15V2311.77M472.62 2332.7V2322.65H474.65V2332.7M473.63 2322.65V2319.72H476.68V2332.7M475.15 2319.72V2316.92H478.71V2332.7M484.8 2332.7V2325.51H486.83V2332.7M482.77 2332.7V2322.85H485.81V2325.51M480.74 2332.7V2320.2H484.29V2322.85M476.93 2316.92V2313.07H482.51V2320.2M479.72 2313.07V2310H488.86V2332.7M450.87 2297.6V2290.5H484.29V2310M490.89 2332.7V2324.25H492.92V2332.7M488.86 2332.7V2319.76H491.9V2324.25M494.95 2332.7V2321.49H496.98V2332.7M490.38 2319.76V2317.06H495.96V2321.49M501.04 2332.7V2325.22H503.07V2332.7M499.01 2332.7V2323.44H502.06V2325.22M507.13 2332.7V2325.27H509.16V2332.7M513.22 2332.7V2327.12H515.25V2332.7M511.19 2332.7V2325.62H514.24V2327.12M508.15 2325.27V2322.99H512.71V2325.62M505.1 2332.7V2320.08H510.43V2322.99M500.53 2323.44V2316.8H507.77V2320.08M493.17 2317.06V2311.88H504.15V2316.8M521.34 2332.7V2325.48H523.37V2332.7M519.31 2332.7V2321.91H522.36V2325.48M525.4 2332.7V2326.25H527.43V2332.7M529.46 2332.7V2325.35H531.49V2332.7M526.42 2326.25V2322.56H530.48V2325.35M520.84 2321.91V2318.94H528.45V2322.56M533.52 2332.7V2322.41H535.55V2332.7M534.54 2322.41V2320.91H537.59V2332.7M524.64 2318.94V2314.43H536.06V2320.91M517.28 2332.7V2309.48H530.35V2314.43M498.66 2311.88V2302.06H523.82V2309.48M543.68 2332.7V2327.48H545.71V2332.7M541.65 2332.7V2325.96H544.69V2327.48M547.74 2332.7V2325.9H549.77V2332.7M543.17 2325.96V2323.7H548.75V2325.9M553.83 2332.7V2328.68H555.86V2332.7M554.84 2328.68V2326.55H557.89V2332.7M551.8 2332.7V2323.71H556.37V2326.55M545.96 2323.7V2320.1H554.08V2323.71M539.62 2332.7V2318.29H550.02V2320.1M559.92 2332.7V2321.98H561.95V2332.7M544.82 2318.29V2316.51H560.93V2321.98M552.88 2316.51V2310.95H563.98V2332.7M511.24 2302.06V2297.1H558.43V2310.95M467.58 2290.5V2285.3H534.83V2297.1M311.41 2281.7V2256.6H501.21V2285.3M249.1 2204V2195.4H406.31V2256.6M568.04 2332.7V2281.09H570.07V2332.7M574.13 2332.7V2288.05H576.16V2332.7M572.1 2332.7V2286.29H575.14V2288.05M573.62 2286.29V2281.09H578.19V2332.7M569.05 2281.09V2273.63H575.91V2281.09M566.01 2332.7V2262H572.48V2273.63M580.22 2332.7V2321.68H582.25V2332.7M584.28 2332.7V2327.26H586.31V2332.7M585.3 2327.26V2325.76H588.34V2332.7M592.4 2332.7V2327.96H594.43V2332.7M590.37 2332.7V2326.46H593.42V2327.96M586.82 2325.76V2324.17H591.89V2326.46M596.46 2332.7V2327.94H598.49V2332.7M600.52 2332.7V2327.74H602.55V2332.7M597.48 2327.94V2325.87H601.54V2327.74M589.36 2324.17V2322.57H599.51V2325.87M604.58 2332.7V2327.53H606.61V2332.7M608.64 2332.7V2329.28H610.67V2332.7M609.66 2329.28V2327.78H612.7V2332.7M605.6 2327.53V2325.45H611.18V2327.78M614.74 2332.7V2327.35H616.77V2332.7M608.39 2325.45V2323.42H615.75V2327.35M594.43 2322.57V2319.89H612.07V2323.42M618.8 2332.7V2326.93H620.83V2332.7M622.86 2332.7V2325.72H624.89V2332.7M619.81 2326.93V2323.79H623.87V2325.72M626.92 2332.7V2327.08H628.95V2332.7M627.93 2327.08V2325.58H630.98V2332.7M621.84 2323.79V2321.66H629.45V2325.58M603.25 2319.89V2314.78H625.65V2321.66M614.45 2314.78V2310.97H633.01V2332.7M581.24 2321.68V2309.37H623.73V2310.97M637.07 2332.7V2323.5H639.1V2332.7M638.08 2323.5V2322H641.13V2332.7M635.04 2332.7V2317.7H639.61V2322M643.16 2332.7V2323.26H645.19V2332.7M647.22 2332.7V2325.19H649.25V2332.7M644.17 2323.26V2320.54H648.23V2325.19M651.28 2332.7V2322.45H653.31V2332.7M652.3 2322.45V2319.25H655.34V2332.7M646.2 2320.54V2314.02H653.82V2319.25M637.32 2317.7V2309.81H650.01V2314.02M602.48 2309.37V2297.08H643.67V2309.81M657.37 2332.7V2312.89H659.4V2332.7M623.07 2297.08V2290H658.39V2312.89M663.46 2332.7V2320.88H665.49V2332.7M661.43 2332.7V2318.84H664.48V2320.88M667.52 2332.7V2323.09H669.55V2332.7M673.61 2332.7V2329.4H675.64V2332.7M671.58 2332.7V2328.4H674.63V2329.4M677.67 2332.7V2328.79H679.7V2332.7M673.11 2328.4V2326.6H678.69V2328.79M681.73 2332.7V2329.33H683.76V2332.7M682.75 2329.33V2328.33H685.79V2332.7M675.9 2326.6V2325.48H684.27V2328.33M691.89 2332.7V2329.5H693.92V2332.7M689.85 2332.7V2328.5H692.9V2329.5M687.82 2332.7V2327.5H691.38V2328.5M689.6 2327.5V2325.75H695.95V2332.7M680.08 2325.48V2323.17H692.77V2325.75M700.01 2332.7V2327.69H702.04V2332.7M697.98 2332.7V2326.19H701.02V2327.69M704.07 2332.7V2329.3H706.1V2332.7M705.08 2329.3V2327.94H708.13V2332.7M710.16 2332.7V2328.6H712.19V2332.7M706.6 2327.94V2326.44H711.17V2328.6M714.22 2332.7V2328.11H716.25V2332.7M718.28 2332.7V2328.2H720.31V2332.7M724.37 2332.7V2329.4H726.4V2332.7M722.34 2332.7V2328.4H725.38V2329.4M719.29 2328.2V2326.7H723.86V2328.4M715.23 2328.11V2325.7H721.58V2326.7M708.89 2326.44V2323.6H718.41V2325.7M699.5 2326.19V2321.79H713.65V2323.6M686.43 2323.17V2317.54H706.57V2321.79M668.54 2323.09V2311.25H696.5V2317.54M662.95 2318.84V2304.11H682.52V2311.25M672.74 2304.11V2292.4H728.43V2332.7M640.73 2290V2283.8H700.58V2292.4M569.24 2262V2241.3H670.66V2283.8M327.7 2195.4V2189.5H619.95V2241.3M238.57 2187V2184.5H473.83V2189.5M728.43 2332.7V2195.76H730.46V2332.7M732.49 2332.7V2219.91H734.52V2332.7M738.58 2332.7V2231.59H740.61V2332.7M742.64 2332.7V2231.59H744.67V2332.7M739.6 2231.59V2228.44H743.66V2231.59M736.55 2332.7V2219.91H741.63V2228.44M733.51 2219.91V2195.76H739.09V2219.91M729.45 2195.76V2187H736.3V2195.76M356.2 2184.5V2177.8H732.87V2187M748.73 2332.7V2316.27H750.76V2332.7M746.7 2332.7V2312.59H749.75V2316.27M754.82 2332.7V2323.04H756.85V2332.7M752.79 2332.7V2318.23H755.84V2323.04M754.32 2318.23V2312.6H758.88V2332.7M748.23 2312.59V2306.94H756.6V2312.6M760.91 2332.7V2315.27H762.94V2332.7M752.41 2306.94V2299.89H761.93V2315.27M757.17 2299.89V2296.92H764.97V2332.7M767 2332.7V2315.14H769.04V2332.7M771.07 2332.7V2316.82H773.1V2332.7M768.02 2315.14V2307.24H772.08V2316.82M775.13 2332.7V2312.54H777.16V2332.7M770.05 2307.24V2298.72H776.14V2312.54M761.07 2296.92V2284.9H773.1V2298.72M781.22 2332.7V2326.13H783.25V2332.7M779.19 2332.7V2324.44H782.23V2326.13M787.31 2332.7V2328.08H789.34V2332.7M788.32 2328.08V2326.58H791.37V2332.7M785.28 2332.7V2324.46H789.85V2326.58M780.71 2324.44V2321.1H787.56V2324.46M793.4 2332.7V2323.68H795.43V2332.7M794.41 2323.68V2320.37H797.46V2332.7M784.14 2321.1V2315H795.94V2320.37M767.08 2284.9V2248.6H790.04V2315M797.46 2332.7V2316.96H799.49V2332.7M803.55 2332.7V2316.5H805.58V2332.7M801.52 2332.7V2312.93H804.56V2316.5M803.04 2312.93V2310.5H807.61V2332.7M798.47 2316.96V2305.33H805.33V2310.5M811.67 2332.7V2321.59H813.7V2332.7M809.64 2332.7V2318.1H812.69V2321.59M811.16 2318.1V2313.77H815.73V2332.7M817.76 2332.7V2316.8H819.79V2332.7M813.45 2313.77V2305.17H818.78V2316.8M801.9 2305.33V2297.8H816.11V2305.17M809.01 2297.8V2283H821.82V2332.7M821.82 2332.7V2299.11H823.85V2332.7M827.91 2332.7V2300.4H829.94V2332.7M825.88 2332.7V2299.11H828.93V2300.4M822.84 2299.11V2293.67H827.41V2299.11M825.12 2293.67V2290H831.97V2332.7M815.41 2283V2258.5H828.55V2290M778.56 2248.6V2221.7H821.98V2258.5M544.53 2177.8V2171.4H800.27V2221.7M834 2332.7V2238.32H836.03V2332.7M835.02 2238.32V2234.8H838.06V2332.7M831.97 2332.7V2215.6H836.54V2234.8M840.09 2332.7V2240.35H842.12V2332.7M838.06 2332.7V2235H841.11V2240.35M846.19 2332.7V2297.36H848.22V2332.7M844.16 2332.7V2294.75H847.2V2297.36M845.68 2294.75V2292.4H850.25V2332.7M850.25 2332.7V2322.47H852.28V2332.7M851.26 2322.47V2320.63H854.31V2332.7M852.78 2320.63V2319.13H856.34V2332.7M858.37 2332.7V2324.02H860.4V2332.7M864.46 2332.7V2327.72H866.49V2332.7M862.43 2332.7V2325.99H865.47V2327.72M870.55 2332.7V2327.96H872.58V2332.7M868.52 2332.7V2326.46H871.56V2327.96M863.95 2325.99V2323.67H870.04V2326.46M859.38 2324.02V2320.14H867V2323.67M854.56 2319.13V2314.29H863.19V2320.14M874.61 2332.7V2322.58H876.64V2332.7M875.62 2322.58V2319.04H878.67V2332.7M858.87 2314.29V2308.4H877.15V2319.04M884.76 2332.7V2329.3H886.79V2332.7M882.73 2332.7V2328.05H885.78V2329.3M880.7 2332.7V2325.94H884.25V2328.05M882.48 2325.94V2324.2H888.82V2332.7M890.85 2332.7V2326.92H892.88V2332.7M894.91 2332.7V2326.85H896.94V2332.7M891.87 2326.92V2323.87H895.93V2326.85M885.65 2324.2V2319.08H893.9V2323.87M898.97 2332.7V2324.23H901V2332.7M913.18 2332.7V2331.42H915.21V2332.7M911.15 2332.7V2330.42H914.2V2331.42M909.12 2332.7V2329.42H912.68V2330.42M907.09 2332.7V2328.42H910.9V2329.42M919.27 2332.7V2330.42H921.31V2332.7M923.34 2332.7V2332.42H925.37V2332.7M924.35 2332.42V2331.42H927.4V2332.7M925.87 2331.42V2330.42H929.43V2332.7M920.29 2330.42V2329.42H927.65V2330.42M917.24 2332.7V2328.42H923.97V2329.42M909 2328.42V2327.42H920.61V2328.42M905.06 2332.7V2326.42H914.8V2327.42M903.03 2332.7V2325.42H909.93V2326.42M933.49 2332.7V2328H935.52V2332.7M931.46 2332.7V2326.31H934.5V2328M906.48 2325.42V2321.99H932.98V2326.31M919.73 2321.99V2317.9H937.55V2332.7M928.64 2317.9V2315.9H939.58V2332.7M899.99 2324.23V2313.98H934.11V2315.9M889.77 2319.08V2309.26H917.05V2313.98M868.01 2308.4V2299.4H903.41V2309.26M943.64 2332.7V2327.1H945.67V2332.7M941.61 2332.7V2325.6H944.65V2327.1M943.13 2325.6V2323.16H947.7V2332.7M949.73 2332.7V2324.59H951.76V2332.7M955.82 2332.7V2324.54H957.85V2332.7M953.79 2332.7V2323.04H956.83V2324.54M950.74 2324.59V2320.83H955.31V2323.04M945.41 2323.16V2317H953.03V2320.83M885.71 2299.4V2294.3H949.22V2317M847.96 2292.4V2285.9H917.47V2294.3M957.85 2332.7V2299.35H959.88V2332.7M958.86 2299.35V2291.21H961.91V2332.7M963.94 2332.7V2291.21H965.97V2332.7M960.39 2291.21V2289.6H964.96V2291.21M882.71 2285.9V2263.8H962.67V2289.6M970.03 2332.7V2282.72H972.06V2332.7M971.05 2282.72V2275.02H974.09V2332.7M968 2332.7V2268.5H972.57V2275.02M922.69 2263.8V2252.1H970.29V2268.5M839.59 2235V2226.4H946.49V2252.1M834.26 2215.6V2191.7H893.04V2226.4M672.4 2171.4V2146H863.65V2191.7M976.12 2332.7V2289.59H978.15V2332.7M977.14 2289.59V2287.7H980.18V2332.7M980.18 2332.7V2329.7H982.21V2332.7M984.24 2332.7V2329.7H986.27V2332.7M981.2 2329.7V2328.7H985.26V2329.7M988.3 2332.7V2329.7H990.33V2332.7M992.36 2332.7V2329.7H994.39V2332.7M989.32 2329.7V2328.7H993.38V2329.7M983.23 2328.7V2327.7H991.35V2328.7M987.29 2327.7V2326.7H996.42V2332.7M998.46 2332.7V2329.7H1000.49V2332.7M1002.52 2332.7V2329.7H1004.55V2332.7M999.47 2329.7V2328.7H1003.53V2329.7M1006.58 2332.7V2329.3H1008.61V2332.7M1001.5 2328.7V2327.7H1007.59V2329.3M1010.64 2332.7V2328.36H1012.67V2332.7M1004.55 2327.7V2326.7H1011.65V2328.36M991.86 2326.7V2325.7H1008.1V2326.7M1016.73 2332.7V2330.7H1018.76V2332.7M1014.7 2332.7V2329.7H1017.74V2330.7M1020.79 2332.7V2329.7H1022.82V2332.7M1016.22 2329.7V2328.7H1021.8V2329.7M1024.85 2332.7V2329.7H1026.88V2332.7M1025.86 2329.7V2328.7H1028.91V2332.7M1019.01 2328.7V2327.7H1027.39V2328.7M1032.97 2332.7V2330.7H1035V2332.7M1030.94 2332.7V2329.7H1033.98V2330.7M1037.03 2332.7V2330.7H1039.06V2332.7M1038.05 2330.7V2329.7H1041.09V2332.7M1032.46 2329.7V2328.7H1039.57V2329.7M1043.12 2332.7V2329.3H1045.15V2332.7M1036.02 2328.7V2327.7H1044.14V2329.3M1023.2 2327.7V2326.7H1040.08V2327.7M1049.21 2332.7V2329.4H1051.24V2332.7M1047.18 2332.7V2328.4H1050.23V2329.4M1031.64 2326.7V2325.7H1048.7V2328.4M999.98 2325.7V2324.63H1040.17V2325.7M1055.3 2332.7V2329.3H1057.33V2332.7M1059.36 2332.7V2329.7H1061.39V2332.7M1063.42 2332.7V2329.7H1065.45V2332.7M1060.38 2329.7V2328.7H1064.44V2329.7M1056.32 2329.3V2327.7H1062.41V2328.7M1053.27 2332.7V2326.7H1059.36V2327.7M1067.48 2332.7V2329.2H1069.51V2332.7M1071.54 2332.7V2329.28H1073.57V2332.7M1068.5 2329.2V2327.7H1072.56V2329.28M1075.61 2332.7V2329.4H1077.64V2332.7M1076.62 2329.4V2328.4H1079.67V2332.7M1070.53 2327.7V2326.7H1078.14V2328.4M1056.32 2326.7V2325.7H1074.34V2326.7M1020.07 2324.63V2322.73H1065.33V2325.7M1081.7 2332.7V2328.53H1083.73V2332.7M1087.79 2332.7V2329.3H1089.82V2332.7M1085.76 2332.7V2328.2H1088.8V2329.3M1082.71 2328.53V2326.7H1087.28V2328.2M1091.85 2332.7V2329.22H1093.88V2332.7M1097.94 2332.7V2329.7H1099.97V2332.7M1095.91 2332.7V2328.7H1098.95V2329.7M1092.86 2329.22V2327.7H1097.43V2328.7M1102 2332.7V2329.3H1104.03V2332.7M1108.09 2332.7V2329.7H1110.12V2332.7M1106.06 2332.7V2328.7H1109.1V2329.7M1103.01 2329.3V2327.7H1107.58V2328.7M1095.15 2327.7V2326.7H1105.3V2327.7M1085 2326.7V2325.7H1100.22V2326.7M1114.18 2332.7V2329.4H1116.21V2332.7M1112.15 2332.7V2328.4H1115.2V2329.4M1118.24 2332.7V2329.3H1120.27V2332.7M1119.26 2329.3V2328.2H1122.3V2332.7M1113.67 2328.4V2326.7H1120.78V2328.2M1117.23 2326.7V2325.7H1124.33V2332.7M1092.61 2325.7V2324.3H1120.78V2325.7M1042.7 2322.73V2320.13H1106.69V2324.3M1074.7 2320.13V2316H1126.36V2332.7M1100.53 2316V2314.5H1128.39V2332.7M1128.39 2332.7V2324.43H1130.42V2332.7M1132.45 2332.7V2323.85H1134.48V2332.7M1129.41 2324.43V2319.22H1133.47V2323.85M1136.51 2332.7V2319.2H1138.54V2332.7M1131.44 2319.22V2312.32H1137.53V2319.2M1140.57 2332.7V2325.73H1142.6V2332.7M1144.63 2332.7V2325.1H1146.66V2332.7M1141.59 2325.73V2321.45H1145.65V2325.1M1148.69 2332.7V2319.44H1150.72V2332.7M1143.62 2321.45V2315.3H1149.71V2319.44M1134.48 2312.32V2308.3H1146.66V2315.3M1114.46 2314.5V2302.2H1140.57V2308.3M978.66 2287.7V2247.4H1127.52V2302.2M1152.76 2332.7V2297.44H1154.79V2332.7M1153.77 2297.44V2292.4H1156.82V2332.7M1158.85 2332.7V2327.96H1160.88V2332.7M1164.94 2332.7V2329.3H1166.97V2332.7M1162.91 2332.7V2328.21H1165.95V2329.3M1159.86 2327.96V2325.67H1164.43V2328.21M1169 2332.7V2327.01H1171.03V2332.7M1162.15 2325.67V2323.65H1170.01V2327.01M1175.09 2332.7V2328.48H1177.12V2332.7M1176.1 2328.48V2326.98H1179.15V2332.7M1181.18 2332.7V2328.31H1183.21V2332.7M1182.19 2328.31V2326.81H1185.24V2332.7M1177.63 2326.98V2324.54H1183.72V2326.81M1173.06 2332.7V2321.63H1180.67V2324.54M1166.08 2323.65V2318.2H1176.86V2321.63M1189.3 2332.7V2329.7H1191.33V2332.7M1187.27 2332.7V2328.7H1190.32V2329.7M1188.79 2328.7V2327.7H1193.36V2332.7M1191.08 2327.7V2326.7H1195.39V2332.7M1193.23 2326.7V2325.7H1197.42V2332.7M1199.45 2332.7V2329.3H1201.48V2332.7M1200.47 2329.3V2328.02H1203.51V2332.7M1207.57 2332.7V2329.5H1209.6V2332.7M1205.54 2332.7V2328.5H1208.59V2329.5M1207.06 2328.5V2327.5H1211.63V2332.7M1213.66 2332.7V2328.25H1215.69V2332.7M1209.35 2327.5V2326.4H1214.68V2328.25M1201.99 2328.02V2325.4H1212.01V2326.4M1195.33 2325.7V2323.9H1207V2325.4M1217.72 2332.7V2328.58H1219.75V2332.7M1218.74 2328.58V2327.08H1221.78V2332.7M1201.16 2323.9V2322.3H1220.26V2327.08M1223.81 2332.7V2328.15H1225.84V2332.7M1224.83 2328.15V2326.06H1227.88V2332.7M1229.91 2332.7V2329.4H1231.94V2332.7M1230.92 2329.4V2328.4H1233.97V2332.7M1238.03 2332.7V2329.3H1240.06V2332.7M1236 2332.7V2328.24H1239.04V2329.3M1232.44 2328.4V2325.7H1237.52V2328.24M1226.35 2326.06V2323.96H1234.98V2325.7M1210.71 2322.3V2319.64H1230.67V2323.96M1185.24 2332.7V2316.37H1220.69V2319.64M1244.12 2332.7V2329.69H1246.15V2332.7M1248.18 2332.7V2329.69H1250.21V2332.7M1245.13 2329.69V2328.69H1249.19V2329.69M1254.27 2332.7V2329.69H1256.3V2332.7M1252.24 2332.7V2328.69H1255.28V2329.69M1247.16 2328.69V2327.69H1253.76V2328.69M1262.39 2332.7V2330.69H1264.42V2332.7M1260.36 2332.7V2329.69H1263.4V2330.69M1258.33 2332.7V2328.69H1261.88V2329.69M1268.48 2332.7V2329.69H1270.51V2332.7M1266.45 2332.7V2328.69H1269.5V2329.69M1260.11 2328.69V2327.69H1267.97V2328.69M1250.46 2327.69V2326.69H1264.04V2327.69M1242.09 2332.7V2325.69H1257.25V2326.69M1272.54 2332.7V2329.4H1274.57V2332.7M1273.56 2329.4V2328.4H1276.6V2332.7M1278.63 2332.7V2329.3H1280.66V2332.7M1279.65 2329.3V2328.2H1282.69V2332.7M1286.75 2332.7V2329.7H1288.78V2332.7M1290.81 2332.7V2329.7H1292.84V2332.7M1287.77 2329.7V2328.7H1291.83V2329.7M1284.72 2332.7V2327.7H1289.8V2328.7M1281.17 2328.2V2326.7H1287.26V2327.7M1275.08 2328.4V2325.7H1284.21V2326.7M1249.67 2325.69V2323.63H1279.65V2325.7M1264.66 2323.63V2321.65H1294.87V2332.7M1298.93 2332.7V2327.58H1300.96V2332.7M1296.9 2332.7V2325.69H1299.95V2327.58M1279.77 2321.65V2318.14H1298.43V2325.69M1289.1 2318.14V2315.76H1302.99V2332.7M1202.96 2316.37V2312.3H1296.05V2315.76M1171.47 2318.2V2307.6H1249.51V2312.3M1302.99 2332.7V2327.73H1305.03V2332.7M1307.06 2332.7V2329.4H1309.09V2332.7M1308.07 2329.4V2328.4H1311.12V2332.7M1309.59 2328.4V2327.2H1313.15V2332.7M1315.18 2332.7V2329.3H1317.21V2332.7M1316.19 2329.3V2328.15H1319.24V2332.7M1311.37 2327.2V2325.7H1317.71V2328.15M1304.01 2327.73V2324.5H1314.54V2325.7M1323.3 2332.7V2328.77H1325.33V2332.7M1321.27 2332.7V2327.27H1324.31V2328.77M1309.28 2324.5V2323H1322.79V2327.27M1210.49 2307.6V2296.4H1316.03V2323M1155.29 2292.4V2258.5H1263.26V2296.4M1053.09 2247.4V2173.5H1209.28V2258.5M768.02 2146V2135.1H1131.18V2173.5M1327.36 2332.7V2326.73H1329.39V2332.7M1331.42 2332.7V2326.96H1333.45V2332.7M1332.43 2326.96V2325.46H1335.48V2332.7M1328.37 2326.73V2323.4H1333.96V2325.46M1341.57 2332.7V2329.3H1343.6V2332.7M1339.54 2332.7V2328.1H1342.58V2329.3M1347.66 2332.7V2328.7H1349.69V2332.7M1345.63 2332.7V2326.81H1348.68V2328.7M1341.06 2328.1V2325.31H1347.15V2326.81M1351.72 2332.7V2327.87H1353.75V2332.7M1355.78 2332.7V2327.02H1357.81V2332.7M1352.74 2327.87V2325.52H1356.8V2327.02M1344.11 2325.31V2323.17H1354.77V2325.52M1337.51 2332.7V2319.59H1349.44V2323.17M1331.16 2323.4V2316.84H1343.47V2319.59M1361.87 2332.7V2327.54H1363.9V2332.7M1362.89 2327.54V2325.82H1365.93V2332.7M1367.96 2332.7V2325.82H1369.99V2332.7M1364.41 2325.82V2323.19H1368.98V2325.82M1359.84 2332.7V2320.93H1366.69V2323.19M1374.05 2332.7V2325.31H1376.08V2332.7M1372.02 2332.7V2323.81H1375.07V2325.31M1363.27 2320.93V2319.15H1373.55V2323.81M1378.11 2332.7V2322.67H1380.14V2332.7M1382.18 2332.7V2323.09H1384.21V2332.7M1383.19 2323.09V2321.55H1386.24V2332.7M1379.13 2322.67V2319.43H1384.71V2321.55M1368.41 2319.15V2315.15H1381.92V2319.43M1337.32 2316.84V2308.6H1375.16V2315.15M1325.33 2332.7V2304.83H1356.24V2308.6M1390.3 2332.7V2318.08H1392.33V2332.7M1388.27 2332.7V2315.51H1391.31V2318.08M1340.78 2304.83V2297.1H1389.79V2315.51M1392.33 2332.7V2316.35H1394.36V2332.7M1396.39 2332.7V2320.96H1398.42V2332.7M1400.45 2332.7V2322.28H1402.48V2332.7M1401.46 2322.28V2319.32H1404.51V2332.7M1397.4 2320.96V2315.97H1402.99V2319.32M1393.34 2316.35V2307.63H1400.19V2315.97M1408.57 2332.7V2321.54H1410.6V2332.7M1406.54 2332.7V2317.51H1409.58V2321.54M1408.06 2317.51V2314.51H1412.63V2332.7M1410.35 2314.51V2312.08H1414.66V2332.7M1396.77 2307.63V2301.8H1412.5V2312.08M1365.29 2297.1V2285.4H1404.63V2301.8M1414.66 2332.7V2323.67H1416.69V2332.7M1415.67 2323.67V2321.54H1418.72V2332.7M1420.75 2332.7V2323.43H1422.78V2332.7M1417.2 2321.54V2317.83H1421.77V2323.43M1428.87 2332.7V2324.53H1430.9V2332.7M1426.84 2332.7V2322.1H1429.89V2324.53M1424.81 2332.7V2319.41H1428.36V2322.1M1419.48 2317.83V2311.62H1426.59V2319.41M1432.93 2332.7V2325.04H1434.96V2332.7M1433.95 2325.04V2321.96H1436.99V2332.7M1439.02 2332.7V2323.38H1441.05V2332.7M1435.47 2321.96V2317.15H1440.04V2323.38M1423.03 2311.62V2306.5H1437.75V2317.15M1384.96 2285.4V2277.2H1430.39V2306.5M1441.05 2332.7V2317.21H1443.08V2332.7M1442.07 2317.21V2314.95H1445.11V2332.7M1443.59 2314.95V2311H1447.14V2332.7M1407.68 2277.2V2275.3H1445.37V2311M1449.17 2332.7V2316.27H1451.2V2332.7M1453.23 2332.7V2316.27H1455.26V2332.7M1450.19 2316.27V2312.88H1454.25V2316.27M1447.14 2332.7V2312H1452.22V2312.88M1426.52 2275.3V2265.5H1449.68V2312M1457.29 2332.7V2276.78H1459.33V2332.7M1461.36 2332.7V2280.88H1463.39V2332.7M1469.48 2332.7V2304.7H1471.51V2332.7M1475.57 2332.7V2308.01H1477.6V2332.7M1473.54 2332.7V2304.7H1476.58V2308.01M1470.49 2304.7V2303.31H1475.06V2304.7M1479.63 2332.7V2303.31H1481.66V2332.7M1472.78 2303.31V2299.66H1480.64V2303.31M1467.45 2332.7V2297.34H1476.71V2299.66M1465.42 2332.7V2294.49H1472.08V2297.34M1468.75 2294.49V2286.62H1483.69V2332.7M1476.22 2286.62V2280.88H1485.72V2332.7M1462.37 2280.88V2276.78H1480.97V2280.88M1458.31 2276.78V2267.8H1471.67V2276.78M1438.1 2265.5V2249.8H1464.99V2267.8M1489.78 2332.7V2321.91H1491.81V2332.7M1487.75 2332.7V2319.22H1490.79V2321.91M1493.84 2332.7V2325.9H1495.87V2332.7M1494.85 2325.9V2323.85H1497.9V2332.7M1496.38 2323.85V2319.53H1499.93V2332.7M1489.27 2319.22V2313.61H1498.15V2319.53M1501.96 2332.7V2324.43H1503.99V2332.7M1506.02 2332.7V2325.17H1508.05V2332.7M1502.98 2324.43V2321.44H1507.04V2325.17M1510.08 2332.7V2325.15H1512.11V2332.7M1514.14 2332.7V2324.36H1516.17V2332.7M1511.1 2325.15V2321.59H1515.16V2324.36M1505.01 2321.44V2318.54H1513.13V2321.59M1518.2 2332.7V2325.46H1520.23V2332.7M1519.22 2325.46V2322.66H1522.26V2332.7M1520.74 2322.66V2320.21H1524.29V2332.7M1509.07 2318.54V2314.01H1522.52V2320.21M1515.79 2314.01V2309.17H1526.32V2332.7M1493.71 2313.61V2300.03H1521.06V2309.17M1532.41 2332.7V2327.81H1534.44V2332.7M1533.43 2327.81V2326.21H1536.48V2332.7M1538.51 2332.7V2328.03H1540.54V2332.7M1534.95 2326.21V2324.71H1539.52V2328.03M1542.57 2332.7V2327.11H1544.6V2332.7M1543.58 2327.11V2325.61H1546.63V2332.7M1537.24 2324.71V2320.46H1545.1V2325.61M1530.38 2332.7V2318.96H1541.17V2320.46M1552.72 2332.7V2329.14H1554.75V2332.7M1550.69 2332.7V2327.21H1553.73V2329.14M1556.78 2332.7V2327.65H1558.81V2332.7M1552.21 2327.21V2324.66H1557.79V2327.65M1548.66 2332.7V2321.14H1555V2324.66M1560.84 2332.7V2325.11H1562.87V2332.7M1561.85 2325.11V2322.43H1564.9V2332.7M1551.83 2321.14V2318.1H1563.38V2322.43M1535.78 2318.96V2312.87H1557.6V2318.1M1528.35 2332.7V2304.95H1546.69V2312.87M1507.39 2300.03V2291.7H1537.52V2304.95M1568.96 2332.7V2312.74H1570.99V2332.7M1566.93 2332.7V2307.5H1569.97V2312.74M1522.45 2291.7V2286.6H1568.45V2307.5M1575.05 2332.7V2296.85H1577.08V2332.7M1573.02 2332.7V2292.45H1576.07V2296.85M1570.99 2332.7V2290.37H1574.54V2292.45M1572.77 2290.37V2289H1579.11V2332.7M1545.45 2286.6V2283H1575.94V2289M1581.14 2332.7V2319.35H1583.17V2332.7M1579.11 2332.7V2315.52H1582.16V2319.35M1585.2 2332.7V2320.99H1587.23V2332.7M1586.22 2320.99V2318.32H1589.26V2332.7M1580.63 2315.52V2310.63H1587.74V2318.32M1593.32 2332.7V2323.59H1595.35V2332.7M1591.29 2332.7V2321.33H1594.34V2323.59M1592.82 2321.33V2316.4H1597.38V2332.7M1584.19 2310.63V2306.41H1595.1V2316.4M1601.44 2332.7V2324.32H1603.47V2332.7M1599.41 2332.7V2320.58H1602.46V2324.32M1605.5 2332.7V2323.83H1607.53V2332.7M1606.52 2323.83V2320.83H1609.56V2332.7M1600.94 2320.58V2314.95H1608.04V2320.83M1611.6 2332.7V2323.21H1613.63V2332.7M1615.66 2332.7V2323.74H1617.69V2332.7M1612.61 2323.21V2320.61H1616.67V2323.74M1619.72 2332.7V2323.08H1621.75V2332.7M1620.73 2323.08V2321.44H1623.78V2332.7M1614.64 2320.61V2315.38H1622.25V2321.44M1604.49 2314.95V2309.61H1618.45V2315.38M1611.47 2309.61V2306.39H1625.81V2332.7M1589.64 2306.41V2297.63H1618.64V2306.39M1627.84 2332.7V2312.44H1629.87V2332.7M1604.14 2297.63V2294.3H1628.85V2312.44M1560.7 2283V2276H1616.5V2294.3M1451.55 2249.8V2233.6H1588.6V2276M1637.99 2332.7V2306.96H1640.02V2332.7M1639 2306.96V2303.25H1642.05V2332.7M1640.53 2303.25V2298.96H1644.08V2332.7M1635.96 2332.7V2296.22H1642.3V2298.96M1633.93 2332.7V2294.17H1639.13V2296.22M1631.9 2332.7V2287.72H1636.53V2294.17M1634.21 2287.72V2283H1646.11V2332.7M1648.14 2332.7V2326.51H1650.17V2332.7M1654.23 2332.7V2328.86H1656.26V2332.7M1652.2 2332.7V2327.36H1655.25V2328.86M1649.15 2326.51V2324.4H1653.72V2327.36M1658.29 2332.7V2327.83H1660.32V2332.7M1664.38 2332.7V2328.81H1666.41V2332.7M1662.35 2332.7V2327.31H1665.4V2328.81M1668.44 2332.7V2327.55H1670.47V2332.7M1663.87 2327.31V2325.81H1669.46V2327.55M1659.31 2327.83V2324.31H1666.67V2325.81M1651.44 2324.4V2321.66H1662.99V2324.31M1672.5 2332.7V2324.74H1674.53V2332.7M1678.59 2332.7V2328.87H1680.62V2332.7M1679.61 2328.87V2326.87H1682.65V2332.7M1676.56 2332.7V2324.63H1681.13V2326.87M1673.52 2324.74V2322.03H1678.85V2324.63M1657.21 2321.66V2318.14H1676.18V2322.03M1684.68 2332.7V2327.73H1686.71V2332.7M1690.78 2332.7V2328.8H1692.81V2332.7M1688.75 2332.7V2327.3H1691.79V2328.8M1685.7 2327.73V2324.98H1690.27V2327.3M1694.84 2332.7V2327.68H1696.87V2332.7M1695.85 2327.68V2325.3H1698.9V2332.7M1687.98 2324.98V2322.4H1697.37V2325.3M1666.7 2318.14V2315.03H1692.68V2322.4M1679.69 2315.03V2313.23H1700.93V2332.7M1702.96 2332.7V2329.3H1704.99V2332.7M1707.02 2332.7V2329.3H1709.05V2332.7M1713.11 2332.7V2329.7H1715.14V2332.7M1711.08 2332.7V2328.7H1714.12V2329.7M1708.03 2329.3V2327.7H1712.6V2328.7M1703.97 2329.3V2326.7H1710.32V2327.7M1719.2 2332.7V2329.5H1721.23V2332.7M1720.21 2329.5V2328.5H1723.26V2332.7M1717.17 2332.7V2327.5H1721.74V2328.5M1707.14 2326.7V2325.7H1719.45V2327.5M1725.29 2332.7V2327.59H1727.32V2332.7M1729.35 2332.7V2329.4H1731.38V2332.7M1730.37 2329.4V2328.4H1733.41V2332.7M1726.3 2327.59V2326.07H1731.89V2328.4M1713.3 2325.7V2323.95H1729.1V2326.07M1737.47 2332.7V2329.3H1739.5V2332.7M1735.44 2332.7V2327.92H1738.49V2329.3M1743.56 2332.7V2329.16H1745.59V2332.7M1741.53 2332.7V2327.66H1744.58V2329.16M1736.96 2327.92V2326.1H1743.05V2327.66M1749.65 2332.7V2328.42H1751.68V2332.7M1747.62 2332.7V2326.92H1750.67V2328.42M1740.01 2326.1V2325.1H1749.15V2326.92M1721.2 2323.95V2321.42H1744.58V2325.1M1753.71 2332.7V2328.24H1755.74V2332.7M1757.77 2332.7V2328.35H1759.8V2332.7M1758.79 2328.35V2326.85H1761.83V2332.7M1754.73 2328.24V2325.35H1760.31V2326.85M1767.93 2332.7V2329.4H1769.96V2332.7M1765.9 2332.7V2328.4H1768.94V2329.4M1771.99 2332.7V2328.85H1774.02V2332.7M1767.42 2328.4V2327.35H1773V2328.85M1770.21 2327.35V2326.35H1776.05V2332.7M1780.11 2332.7V2329.5H1782.14V2332.7M1781.12 2329.5V2328.5H1784.17V2332.7M1778.08 2332.7V2327.5H1782.64V2328.5M1773.13 2326.35V2325.35H1780.36V2327.5M1763.86 2332.7V2323.85H1776.74V2325.35M1757.52 2325.35V2320.79H1770.3V2323.85M1732.89 2321.42V2317.21H1763.91V2320.79M1690.31 2313.23V2308.3H1748.4V2317.21M1788.23 2332.7V2325.35H1790.26V2332.7M1789.24 2325.35V2323.09H1792.29V2332.7M1786.2 2332.7V2319.76H1790.77V2323.09M1784.17 2332.7V2316.32H1788.48V2319.76M1794.32 2332.7V2320.03H1796.35V2332.7M1786.32 2316.32V2314.32H1795.33V2320.03M1798.38 2332.7V2318.05H1800.41V2332.7M1790.83 2314.32V2312H1799.39V2318.05M1719.35 2308.3V2298.8H1795.11V2312M1640.16 2283V2277.8H1757.23V2298.8M1520.07 2233.6V2215.6H1698.7V2277.8M1609.38 2215.6V2187.7H1802.5V2332.7M949.6 2135.1V2128.8H1705.94V2187.7M1804.47 2332.7V2300.05H1806.5V2332.7M1808.53 2332.7V2300.05H1810.56V2332.7M1805.49 2300.05V2292.18H1809.55V2300.05M1807.52 2292.18V2287.4H1812.59V2332.7M1810.05 2287.4V2279.75H1814.62V2332.7M1816.65 2332.7V2279.75H1818.68V2332.7M1812.34 2279.75V2277.51H1817.67V2279.75M1820.71 2332.7V2277.51H1822.74V2332.7M1815 2277.51V2268.57H1821.73V2277.51M1824.77 2332.7V2268.57H1826.8V2332.7M1818.36 2268.57V2258.43H1825.79V2268.57M1822.08 2258.43V2241.09H1828.83V2332.7M1830.86 2332.7V2241.09H1832.89V2332.7M1825.45 2241.09V2229.4H1831.88V2241.09M1841.01 2332.7V2329.4H1843.05V2332.7M1838.98 2332.7V2328.4H1842.03V2329.4M1840.51 2328.4V2327.28H1845.08V2332.7M1836.95 2332.7V2324.64H1842.79V2327.28M1839.87 2324.64V2323.14H1847.11V2332.7M1834.92 2332.7V2321.4H1843.49V2323.14M1849.14 2332.7V2329H1851.17V2332.7M1853.2 2332.7V2329H1855.23V2332.7M1850.15 2329V2327.5H1854.21V2329M1852.18 2327.5V2326.22H1857.26V2332.7M1859.29 2332.7V2328.13H1861.32V2332.7M1854.72 2326.22V2324.72H1860.3V2328.13M1865.38 2332.7V2326.28H1867.41V2332.7M1863.35 2332.7V2324.78H1866.39V2326.28M1857.51 2324.72V2320.6H1864.87V2324.78M1839.21 2321.4V2317.79H1861.19V2320.6M1850.2 2317.79V2316.27H1869.44V2332.7M1873.5 2332.7V2327.91H1875.53V2332.7M1871.47 2332.7V2325.41H1874.51V2327.91M1877.56 2332.7V2325.51H1879.59V2332.7M1885.68 2332.7V2328.32H1887.71V2332.7M1883.65 2332.7V2326.82H1886.7V2328.32M1881.62 2332.7V2324.49H1885.17V2326.82M1878.57 2325.51V2322.25H1883.4V2324.49M1872.99 2325.41V2319.95H1880.99V2322.25M1876.99 2319.95V2316.51H1889.74V2332.7M1859.82 2316.27V2310.76H1883.36V2316.51M1893.8 2332.7V2327.81H1895.83V2332.7M1891.77 2332.7V2325.3H1894.82V2327.81M1893.29 2325.3V2321.8H1897.86V2332.7M1899.89 2332.7V2324.16H1901.92V2332.7M1900.91 2324.16V2322.66H1903.95V2332.7M1895.58 2321.8V2317.73H1902.43V2322.66M1905.98 2332.7V2326.97H1908.01V2332.7M1907 2326.97V2323.92H1910.04V2332.7M1912.07 2332.7V2326.06H1914.1V2332.7M1918.16 2332.7V2329.09H1920.2V2332.7M1916.13 2332.7V2327.59H1919.18V2329.09M1917.66 2327.59V2326.09H1922.23V2332.7M1913.09 2326.06V2322.77H1919.94V2326.09M1908.52 2323.92V2319.23H1916.52V2322.77M1912.52 2319.23V2316.14H1924.26V2332.7M1899 2317.73V2311.52H1918.39V2316.14M1871.59 2310.76V2304.7H1908.7V2311.52M1926.29 2332.7V2323.7H1928.32V2332.7M1932.38 2332.7V2324.08H1934.41V2332.7M1930.35 2332.7V2320.65H1933.39V2324.08M1927.3 2323.7V2318.11H1931.87V2320.65M1936.44 2332.7V2324.58H1938.47V2332.7M1937.45 2324.58V2323.08H1940.5V2332.7M1938.98 2323.08V2319.34H1942.53V2332.7M1929.59 2318.11V2312.29H1940.75V2319.34M1946.59 2332.7V2326.19H1948.62V2332.7M1950.65 2332.7V2326.31H1952.68V2332.7M1947.6 2326.19V2322.89H1951.66V2326.31M1944.56 2332.7V2320.49H1949.63V2322.89M1954.71 2332.7V2324.84H1956.74V2332.7M1955.72 2324.84V2320.94H1958.77V2332.7M1947.1 2320.49V2317.1H1957.25V2320.94M1960.8 2332.7V2324.35H1962.83V2332.7M1961.82 2324.35V2322.53H1964.86V2332.7M1966.89 2332.7V2324.83H1968.92V2332.7M1963.34 2322.53V2319.24H1967.91V2324.83M1952.17 2317.1V2314.37H1965.62V2319.24M1935.17 2312.29V2306.6H1958.9V2314.37M1890.14 2304.7V2301.3H1947.03V2306.6M1918.59 2301.3V2278.6H1971.3V2332.7M1975.01 2332.7V2329.4H1977.04V2332.7M1972.98 2332.7V2328.4H1976.03V2329.4M1981.1 2332.7V2332.7H1983.13V2332.7M1979.07 2332.7V2331.7H1982.12V2332.7M1985.16 2332.7V2331.7H1987.19V2332.7M1980.6 2331.7V2330.7H1986.18V2331.7M1989.22 2332.7V2332.7H1991.25V2332.7M1995.32 2332.7V2333.7H1997.35V2332.7M1993.28 2332.7V2332.7H1996.33V2333.7M1990.24 2332.7V2331.7H1994.81V2332.7M1992.52 2331.7V2330.7H1999.38V2332.7M1983.39 2330.7V2329.7H1995.95V2330.7M1989.67 2329.7V2328.7H2001.41V2332.7M2003.44 2332.7V2329.3H2005.47V2332.7M1995.54 2328.7V2327.7H2004.45V2329.3M2009.53 2332.7V2330.7H2011.56V2332.7M2007.5 2332.7V2329.7H2010.54V2330.7M2013.59 2332.7V2329.7H2015.62V2332.7M2009.02 2329.7V2328.7H2014.6V2329.7M2011.81 2328.7V2327.7H2017.65V2332.7M1999.99 2327.7V2326.7H2014.73V2327.7M1974.5 2328.4V2325.7H2007.36V2326.7M2025.77 2332.7V2333.65H2027.8V2332.7M2029.83 2332.7V2333.65H2031.86V2332.7M2026.78 2333.65V2332.65H2030.84V2333.65M2023.74 2332.7V2331.65H2028.81V2332.65M2026.28 2331.65V2330.65H2033.89V2332.7M2030.08 2330.65V2329.65H2035.92V2332.7M2039.98 2332.7V2333.65H2042.01V2332.7M2041 2333.65V2332.65H2044.04V2332.7M2037.95 2332.7V2331.65H2042.52V2332.65M2046.07 2332.7V2331.65H2048.1V2332.7M2040.23 2331.65V2330.65H2047.09V2331.65M2050.13 2332.7V2333.65H2052.16V2332.7M2054.19 2332.7V2333.65H2056.22V2332.7M2051.15 2333.65V2332.65H2055.21V2333.65M2058.25 2332.7V2332.65H2060.28V2332.7M2053.18 2332.65V2331.65H2059.27V2332.65M2062.31 2332.7V2331.65H2064.34V2332.7M2056.22 2331.65V2330.65H2063.33V2331.65M2043.66 2330.65V2329.65H2059.78V2330.65M2033 2329.65V2328.65H2051.72V2329.65M2021.71 2332.7V2327.65H2042.36V2328.65M2068.4 2332.7V2330.65H2070.43V2332.7M2066.37 2332.7V2329.65H2069.42V2330.65M2072.47 2332.7V2330.65H2074.5V2332.7M2076.53 2332.7V2331.65H2078.56V2332.7M2077.54 2331.65V2330.65H2080.59V2332.7M2073.48 2330.65V2329.65H2079.06V2330.65M2067.9 2329.65V2328.65H2076.27V2329.65M2082.62 2332.7V2329.65H2084.65V2332.7M2086.68 2332.7V2329.65H2088.71V2332.7M2083.63 2329.65V2328.65H2087.69V2329.65M2072.08 2328.65V2327.65H2085.66V2328.65M2032.03 2327.65V2326.65H2078.87V2327.65M2019.68 2332.7V2325.65H2055.45V2326.65M1990.93 2325.7V2323.86H2037.57V2325.65M2092.77 2332.7V2329.7H2094.8V2332.7M2090.74 2332.7V2328.7H2093.78V2329.7M2098.86 2332.7V2330.7H2100.89V2332.7M2099.87 2330.7V2329.7H2102.92V2332.7M2096.83 2332.7V2328.7H2101.4V2329.7M2092.26 2328.7V2327.7H2099.11V2328.7M2104.95 2332.7V2330.7H2106.98V2332.7M2105.96 2330.7V2329.7H2109.01V2332.7M2113.07 2332.7V2330.7H2115.1V2332.7M2111.04 2332.7V2329.7H2114.09V2330.7M2107.49 2329.7V2328.7H2112.56V2329.7M2110.02 2328.7V2327.7H2117.13V2332.7M2095.69 2327.7V2326.7H2113.58V2327.7M2121.19 2332.7V2329.7H2123.22V2332.7M2119.16 2332.7V2328.7H2122.21V2329.7M2125.25 2332.7V2329.7H2127.28V2332.7M2129.31 2332.7V2329.7H2131.34V2332.7M2126.27 2329.7V2328.7H2130.33V2329.7M2120.68 2328.7V2327.7H2128.3V2328.7M2135.4 2332.7V2329.33H2137.43V2332.7M2133.37 2332.7V2328.33H2136.42V2329.33M2124.49 2327.7V2326.7H2134.9V2328.33M2104.63 2326.7V2325.7H2129.69V2326.7M2014.25 2323.86V2322.36H2117.16V2325.7M2065.71 2322.36V2320H2139.46V2332.7M2141.49 2332.7V2329.01H2143.52V2332.7M2142.51 2329.01V2327.51H2145.55V2332.7M2144.03 2327.51V2325H2147.58V2332.7M2102.58 2320V2312.7H2145.81V2325M1944.94 2278.6V2265.2H2124.2V2312.7M1828.67 2229.4V2219.5H2034.57V2265.2M1327.77 2128.8V2103.9H1931.62V2219.5" stroke="#3c3c3c" stroke-width="1.0" fill="none"/>
<text font-size="44.3" x="-0.07" y="2160.3" font-weight="bold">d</text>
<text font-size="26" x="52.73 66.63 82.5 89.73 98.26 109.05 119.47 134.95 151.29 167.26 181.43 190.31 205.03" y="2359.2">cell-types L1</text>
<text font-size="26" x="123.15 139.63 146.96 160.48 176.31 192.31 205.83" y="2393.2">disease</text>
<text font-size="26" x="7.54 21.06 36.9 53.49 69.95 85.93 102.26 116.29 123.63 140.2 157.19 165.94 182.47 198.5 214.47" y="2431">sequencing pool</text>
<text font-size="25.8" x="142.6 164 172.81 187.95 205.18 222.47 237.62" y="2505.2" font-weight="bold">Disease</text>
<text font-size="25.8" x="142 163.4 172.21 187.35 204.58 221.87 237.02 254.25 263.13 278.27 295.56 312.17 329.54 342.3 350.85 362.89" y="2547" font-weight="bold">Disease severity</text>
<text font-size="25.8" x="143.07 161.33 178.43 196.68 214.87 232.19 250.49 265.71 274.55 292.7 310.87 319.56 337.81 355.53 373.25" y="2587" font-weight="bold">Sequencing pool</text>
<text font-size="25.8" x="143.87 162.5 179.8 188.62 198.3 209.56 221.6 238.19 256.25 273.54" y="2627.3" font-weight="bold">Cell-types</text>
<text font-size="25.41" x="298.7 309.93 324.37 340.31 355.64 371.46 379.34 388.35 405.85" y="2627.3" font-style="italic">(Level 1)</text>
<text font-size="25.8" x="145.07 163.33 180.96" y="2669.1" font-weight="bold">Sex</text>
<text font-size="25.8" x="145.63 165.4 183.47" y="2707.9" font-weight="bold">Age</text>
<rect x="430.1" y="2485.6" width="19.1" height="19.1" fill="#6b9bbe" stroke="#3f4e59" stroke-width="1"/>
<text font-size="21.67" x="455.51 470.88 488.18 504.55 512.52" y="2504">COVID</text>
<rect x="556.8" y="2486.1" width="19.1" height="19.1" fill="#33527c" stroke="#1f2936" stroke-width="1"/>
<text font-size="21.67" x="584.13 596.69 602.81" y="2504.5">Flu</text>
<rect x="641.6" y="2485.5" width="18.8" height="18.8" fill="#f0293f" stroke="#602229" stroke-width="1"/>
<text font-size="21.67" x="669.85 684.14 697.34 711.15 722.53 728.64" y="2500.9">Sepsis</text>
<rect x="764" y="2485.1" width="18.8" height="18.8" fill="#848484" stroke="#444444" stroke-width="1"/>
<text font-size="21.67" x="790.55 806.85 820.05 833.3 839.41 848.09 862.02" y="2500.7">Healthy</text>
<rect x="430.1" y="2527.1" width="19.1" height="19.1" fill="#fcd0fc" stroke="#7d6f7d" stroke-width="1"/>
<text font-size="21.67" x="456.01 471.38 488.68 505.05 513.02 530.27 537.73 559 565.02 571.02" y="2545.5">COVID mild</text>
<rect x="616.5" y="2525.3" width="19.1" height="19.1" fill="#c4b5fa" stroke="#656076" stroke-width="1"/>
<text font-size="21.67" x="646.71 662.08 679.38 695.75 703.72 720.97 728.37 739.64 752.96 765.77 779.24 788.28" y="2543.5">COVID severe</text>
<rect x="827.4" y="2525.9" width="19.1" height="19.1" fill="#e3c1fa" stroke="#726779" stroke-width="1"/>
<text font-size="21.67" x="857.71 873.08 890.38 906.75 914.72 931.97 939.06 950.99 960.15 966.26 974.84 980.64 992.3 1005.55" y="2543.5">COVID critical</text>
<rect x="1043.5" y="2524.6" width="18.9" height="18.9" fill="#33527c" stroke="#1f2936" stroke-width="1"/>
<text font-size="21.67" x="1070.53 1083.09 1089.21" y="2542.5">Flu</text>
<rect x="1128.4" y="2523.8" width="18.7" height="18.7" fill="#f0293f" stroke="#602229" stroke-width="1"/>
<text font-size="21.67" x="1156.35 1170.64 1183.84 1197.65 1209.03 1215.14" y="2539.2">Sepsis</text>
<rect x="1250.5" y="2523.1" width="18.9" height="18.9" fill="#848484" stroke="#444444" stroke-width="1"/>
<text font-size="21.67" x="1277.05 1293.35 1306.55 1319.8 1325.91 1334.59 1348.52" y="2538.7">Healthy</text>
<rect x="430.9" y="2570.7" width="20.1" height="20.1" fill="#dfa42a" stroke="#685630" stroke-width="1"/>
<text font-size="21.67" x="460.29 474.12 487.29 493.2 506.52 519.56" y="2588">gPlexA</text>
<rect x="547.2" y="2570.9" width="20" height="20" fill="#6cbdea" stroke="#445e6c" stroke-width="1"/>
<text font-size="21.67" x="578.69 592.52 605.69 611.6 624.92 637.96" y="2588">gPlexB</text>
<rect x="668.8" y="2570.9" width="20" height="20" fill="#42ab7b" stroke="#305142" stroke-width="1"/>
<text font-size="21.67" x="698.49 712.32 725.49 731.4 744.72 757.76" y="2588">gPlexC</text>
<rect x="791.7" y="2570.9" width="20.1" height="20.1" fill="#e8ec4d" stroke="#757645" stroke-width="1"/>
<text font-size="21.67" x="822.39 836.22 849.39 855.3 868.62 881.68" y="2588">gPlexD</text>
<rect x="920.6" y="2570.9" width="20.1" height="20.1" fill="#3d7fba" stroke="#2a3f51" stroke-width="1"/>
<text font-size="21.67" x="950.99 964.82 977.99 983.9 997.22 1010.25" y="2588">gPlexE</text>
<rect x="1046" y="2570.9" width="20" height="20" fill="#d9661f" stroke="#5e3a24" stroke-width="1"/>
<text font-size="21.67" x="1076.79 1090.62 1103.79 1109.7 1123.02 1136.04" y="2588">gPlexF</text>
<rect x="1173.9" y="2570.9" width="20" height="20" fill="#c979b5" stroke="#5e4558" stroke-width="1"/>
<text font-size="21.67" x="1204.39 1218.22 1231.39 1237.3 1250.62 1263.67" y="2588">gPlexG</text>
<rect x="1296.8" y="2570.9" width="20.1" height="20.1" fill="#8b43bc" stroke="#402a4f" stroke-width="1"/>
<text font-size="21.67" x="1327.49 1341.32 1354.49 1360.4 1373.72 1386.76" y="2588">gPlexH</text>
<rect x="1425.7" y="2570.9" width="20" height="20" fill="#45995d" stroke="#2e4836" stroke-width="1"/>
<text font-size="21.67" x="1456.49 1470.32 1483.49 1489.4 1502.72 1517.46" y="2588">gPlexJ</text>
<rect x="1548.6" y="2570.9" width="20.1" height="20.1" fill="#b9282b" stroke="#4b1d1e" stroke-width="1"/>
<text font-size="21.67" x="1579.59 1593.42 1606.59 1612.5 1625.82 1639.26" y="2588">gPlexK</text>
<rect x="431.6" y="2609.2" width="19.9" height="19.9" fill="#8bd2dc" stroke="#52686c" stroke-width="1"/>
<text font-size="21.67" x="461.15" y="2629.1">B</text>
<rect x="500.6" y="2609.2" width="19.9" height="19.9" fill="#2c666b" stroke="#1f3133" stroke-width="1"/>
<text font-size="21.67" x="528.64 541.81 547.81 561.14 572.67 593.9" y="2627.8">Plasma</text>
<rect x="631.6" y="2609.4" width="19.9" height="19.9" fill="#a8d35b" stroke="#5a6842" stroke-width="1"/>
<text font-size="21.67" x="660.24 674.1 691.04" y="2625.6">pDC</text>
<rect x="733" y="2609.4" width="19.9" height="19.9" fill="#6aa64e" stroke="#3d5035" stroke-width="1"/>
<text font-size="21.67" x="757.88 774.81" y="2628.6">DC</text>
<rect x="816.9" y="2609.4" width="19.9" height="19.9" fill="#407744" stroke="#283929" stroke-width="1"/>
<text font-size="21.67" x="843.26 861.93 875.34 889.21" y="2628.6">Mono</text>
<rect x="932.7" y="2609.4" width="19.9" height="19.9" fill="#f6f6b2" stroke="#7e7e69" stroke-width="1"/>
<text font-size="21.67" x="960.84 974.66 982.09 997.47 1014.4 1028.71 1036.15 1052.46 1065.71 1071.84 1084.65" y="2628">T CD4 Naive</text>
<rect x="1129.1" y="2609.4" width="19.9" height="19.9" fill="#dda447" stroke="#685639" stroke-width="1"/>
<text font-size="21.67" x="1154.44 1168.26 1175.69 1191.07 1208 1222.31 1229.75 1246.13 1259.54 1274.45 1283.48 1299.78 1313.04 1319.16 1331.97" y="2628">T CD4 Non-Naive</text>
<rect x="1369.8" y="2609.4" width="19.9" height="19.9" fill="#a72f33" stroke="#452021" stroke-width="1"/>
<text font-size="21.67" x="1398.04 1411.86 1419.29 1434.67 1451.6 1465.91 1473.35 1489.66 1502.91 1509.04 1521.85" y="2628">T CD8 Naive</text>
<rect x="1564" y="2609.4" width="19.9" height="19.9" fill="#5d1218" stroke="#250e10" stroke-width="1"/>
<text font-size="21.67" x="1594.34 1608.16 1615.59 1630.97 1647.9 1662.21 1669.65 1686.03 1699.44 1714.35 1723.38 1739.68 1752.94 1759.06 1771.87" y="2628">T CD8 Non-Naive</text>
<rect x="1814.9" y="2609.4" width="20" height="20" fill="#8e688e" stroke="#453945" stroke-width="1"/>
<text font-size="21.67" x="1840.27 1856.41 1869.92" y="2628">UTC</text>
<rect x="1910.6" y="2609.4" width="20" height="20" fill="#6b2548" stroke="#2e1823" stroke-width="1"/>
<text font-size="21.67" x="1941.02 1948.93 1961.21" y="2628">ILC</text>
<rect x="431.9" y="2651" width="19.6" height="19.6" fill="#4fab93" stroke="#35524b" stroke-width="1"/>
<text font-size="21.67" x="460.96 479.56 492.81 498.73" y="2669.4">Male</text>
<rect x="548.5" y="2652" width="19.4" height="19.4" fill="#e89e63" stroke="#6c5543" stroke-width="1"/>
<text font-size="21.67" x="575.53 587.98 601.35 622.58 635.83 641.75" y="2669.4">Female</text>
<rect x="431.9" y="2689.7" width="20.1" height="20.1" fill="#b3f1ef" stroke="#667978" stroke-width="1"/>
<text font-size="21.67" x="460.52 478.7 492.69" y="2707.5">&lt;18</text>
<rect x="547.9" y="2690.1" width="20" height="20" fill="#9eeeee" stroke="#5d7676" stroke-width="1"/>
<text font-size="21.67" x="574.08 588.07 603.05 612.05 626.05" y="2707.5">18-30</text>
<rect x="669.8" y="2690.1" width="20" height="20" fill="#73dde6" stroke="#4b6c6f" stroke-width="1"/>
<text font-size="21.67" x="699.88 713.87 728.85 737.85 751.85" y="2707.5">31-40</text>
<rect x="792.9" y="2690.1" width="20.1" height="20.1" fill="#5bc5d9" stroke="#3f6066" stroke-width="1"/>
<text font-size="21.67" x="823.84 837.83 852.81 861.81 875.81" y="2707.5">41-50</text>
<rect x="921.6" y="2690.1" width="20.1" height="20.1" fill="#4aa3ca" stroke="#34505c" stroke-width="1"/>
<text font-size="21.67" x="952.16 966.15 981.13 990.13 1004.13" y="2707.5">51-60</text>
<rect x="1047.3" y="2690.1" width="20" height="20" fill="#3e84be" stroke="#2b4153" stroke-width="1"/>
<text font-size="21.67" x="1073 1086.99 1101.97 1110.97 1124.97" y="2707.5">61-70</text>
<rect x="1174.9" y="2690.1" width="20" height="20" fill="#264690" stroke="#1a243b" stroke-width="1"/>
<text font-size="21.67" x="1200.6 1214.59 1229.57 1238.57 1252.57" y="2707.5">71-80</text>
<rect x="1297.8" y="2690.1" width="20.1" height="20.1" fill="#0c0769" stroke="#070624" stroke-width="1"/>
<text font-size="21.67" x="1328.22 1346.4 1360.39" y="2707.5">&gt;80</text>
<path d="M265.3 65.8V238.4M125.8 197.1H309.8M719.88 62.3V235.5M586.2 194.4H761.7M919.98 62.3V235.5M786.3 194.4H961.8M1120.08 62.3V235.5M986.4 194.4H1161.9M1320.17 62.3V235.5M1186.5 194.4H1362M1520.27 62.3V235.5M1386.6 194.4H1562.1M1720.38 62.3V235.5M1586.7 194.4H1762.2M1920.47 62.3V235.5M1786.8 194.4H1962.3M719.75 354.8V528M586 486.9H761.6M918.65 354.8V528M784.9 486.9H960.5M1117.55 354.8V528M983.8 486.9H1159.4M1316.45 354.8V528M1182.7 486.9H1358.3M202.08 847V1018.6M238.02 847V1018.6M273.96 847V1018.6M126.6 918.16H309.9M126.6 951.64H309.9M126.6 985.12H309.9M654.42 861.5V1043M688.98 861.5V1043M723.54 861.5V1043M580.8 937.34H758.1M580.8 972.56H758.1M580.8 1007.78H758.1M855.12 861.5V1043M889.68 861.5V1043M924.24 861.5V1043M781.5 937.34H958.8M781.5 972.56H958.8M781.5 1007.78H958.8M1055.82 861.5V1043M1090.38 861.5V1043M1124.94 861.5V1043M982.2 937.34H1159.5M982.2 972.56H1159.5M982.2 1007.78H1159.5M1256.52 861.5V1043M1291.08 861.5V1043M1325.64 861.5V1043M1182.9 937.34H1360.2M1182.9 972.56H1360.2M1182.9 1007.78H1360.2M1457.22 861.5V1043M1491.78 861.5V1043M1526.34 861.5V1043M1383.6 937.34H1560.9M1383.6 972.56H1560.9M1383.6 1007.78H1560.9M1657.92 861.5V1043M1692.48 861.5V1043M1727.04 861.5V1043M1584.3 937.34H1761.6M1584.3 972.56H1761.6M1584.3 1007.78H1761.6M1858.62 861.5V1043M1893.18 861.5V1043M1927.74 861.5V1043M1785 937.34H1962.3M1785 972.56H1962.3M1785 1007.78H1962.3M654.42 1241.9V1423.4M688.98 1241.9V1423.4M723.54 1241.9V1423.4M580.8 1317.74H758.1M580.8 1352.96H758.1M580.8 1388.18H758.1M855.12 1241.9V1423.4M889.68 1241.9V1423.4M924.24 1241.9V1423.4M781.5 1317.74H958.8M781.5 1352.96H958.8M781.5 1388.18H958.8M1055.82 1241.9V1423.4M1090.38 1241.9V1423.4M1124.94 1241.9V1423.4M982.2 1317.74H1159.5M982.2 1352.96H1159.5M982.2 1388.18H1159.5M1256.52 1241.9V1423.4M1291.08 1241.9V1423.4M1325.64 1241.9V1423.4M1182.9 1317.74H1360.2M1182.9 1352.96H1360.2M1182.9 1388.18H1360.2" stroke="#fff" stroke-opacity="0.06" stroke-width="0.7" fill="none"/>
<path d="M0 0H2152V2717H0Z M1.2 1.1H2150.1V2715.1H1.2Z" fill="#f3e7e7" fill-rule="evenodd"/>
</svg>
</body>
</html>
